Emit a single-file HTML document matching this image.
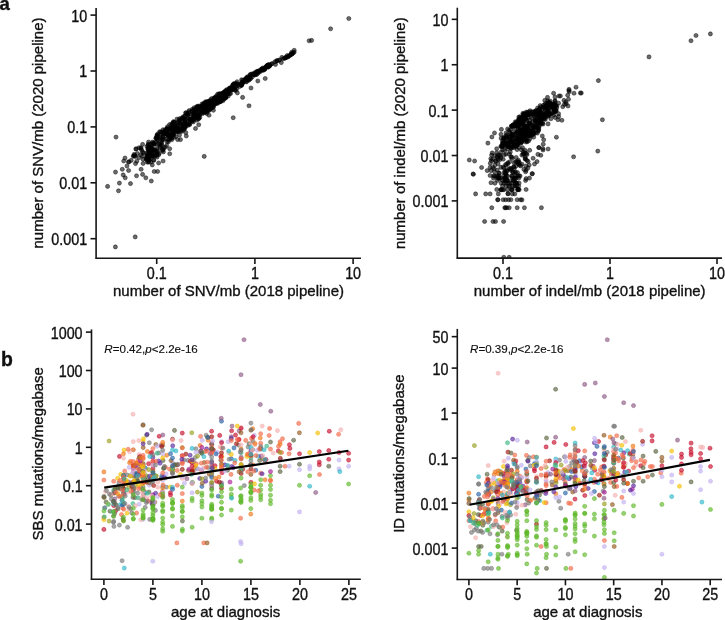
<!DOCTYPE html>
<html><head><meta charset="utf-8"><style>
html,body{margin:0;padding:0;background:#fff;width:725px;height:620px;overflow:hidden}
svg{display:block;font-family:"Liberation Sans",sans-serif;fill:#111;filter:blur(0.35px)}
text{stroke:#111;stroke-width:0.35px}
</style></head><body>
<svg width="725" height="620" viewBox="0 0 725 620">
<rect width="725" height="620" fill="#fff"/>
<defs>
<clipPath id="cA"><rect x="96.6" y="0" width="264.4" height="258"/></clipPath>
<clipPath id="cB"><rect x="457.9" y="0" width="264.1" height="258"/></clipPath>
<clipPath id="cC"><rect x="92" y="320" width="269" height="259"/></clipPath>
<clipPath id="cD"><rect x="457.9" y="320" width="264.1" height="259"/></clipPath>
</defs>
<g clip-path="url(#cA)" fill-opacity="0.58" stroke-opacity="0.58" stroke-width="0.75">
<circle cx="198.5" cy="117.7" r="2.05" fill="#000" stroke="#000"/>
<circle cx="211.2" cy="101.2" r="2.05" fill="#000" stroke="#000"/>
<circle cx="171.2" cy="138.6" r="2.05" fill="#000" stroke="#000"/>
<circle cx="146.4" cy="159.5" r="2.05" fill="#000" stroke="#000"/>
<circle cx="213.0" cy="102.6" r="2.05" fill="#000" stroke="#000"/>
<circle cx="171.5" cy="127.8" r="2.05" fill="#000" stroke="#000"/>
<circle cx="167.4" cy="134.3" r="2.05" fill="#000" stroke="#000"/>
<circle cx="188.4" cy="119.4" r="2.05" fill="#000" stroke="#000"/>
<circle cx="229.6" cy="93.6" r="2.05" fill="#000" stroke="#000"/>
<circle cx="198.3" cy="119.1" r="2.05" fill="#000" stroke="#000"/>
<circle cx="164.1" cy="131.3" r="2.05" fill="#000" stroke="#000"/>
<circle cx="197.5" cy="106.2" r="2.05" fill="#000" stroke="#000"/>
<circle cx="149.0" cy="152.2" r="2.05" fill="#000" stroke="#000"/>
<circle cx="185.2" cy="127.6" r="2.05" fill="#000" stroke="#000"/>
<circle cx="198.9" cy="112.1" r="2.05" fill="#000" stroke="#000"/>
<circle cx="187.7" cy="115.0" r="2.05" fill="#000" stroke="#000"/>
<circle cx="147.0" cy="146.5" r="2.05" fill="#000" stroke="#000"/>
<circle cx="204.1" cy="104.9" r="2.05" fill="#000" stroke="#000"/>
<circle cx="177.0" cy="119.1" r="2.05" fill="#000" stroke="#000"/>
<circle cx="215.7" cy="97.0" r="2.05" fill="#000" stroke="#000"/>
<circle cx="168.5" cy="141.7" r="2.05" fill="#000" stroke="#000"/>
<circle cx="188.8" cy="123.7" r="2.05" fill="#000" stroke="#000"/>
<circle cx="199.7" cy="114.7" r="2.05" fill="#000" stroke="#000"/>
<circle cx="153.7" cy="149.2" r="2.05" fill="#000" stroke="#000"/>
<circle cx="188.7" cy="124.2" r="2.05" fill="#000" stroke="#000"/>
<circle cx="176.3" cy="129.5" r="2.05" fill="#000" stroke="#000"/>
<circle cx="151.0" cy="147.9" r="2.05" fill="#000" stroke="#000"/>
<circle cx="173.1" cy="124.4" r="2.05" fill="#000" stroke="#000"/>
<circle cx="214.6" cy="100.4" r="2.05" fill="#000" stroke="#000"/>
<circle cx="228.2" cy="93.1" r="2.05" fill="#000" stroke="#000"/>
<circle cx="196.8" cy="115.1" r="2.05" fill="#000" stroke="#000"/>
<circle cx="202.8" cy="104.9" r="2.05" fill="#000" stroke="#000"/>
<circle cx="183.0" cy="118.4" r="2.05" fill="#000" stroke="#000"/>
<circle cx="179.8" cy="118.5" r="2.05" fill="#000" stroke="#000"/>
<circle cx="227.3" cy="90.7" r="2.05" fill="#000" stroke="#000"/>
<circle cx="202.4" cy="107.1" r="2.05" fill="#000" stroke="#000"/>
<circle cx="219.4" cy="99.4" r="2.05" fill="#000" stroke="#000"/>
<circle cx="157.1" cy="153.9" r="2.05" fill="#000" stroke="#000"/>
<circle cx="225.4" cy="98.1" r="2.05" fill="#000" stroke="#000"/>
<circle cx="193.9" cy="109.5" r="2.05" fill="#000" stroke="#000"/>
<circle cx="162.2" cy="150.5" r="2.05" fill="#000" stroke="#000"/>
<circle cx="192.4" cy="110.8" r="2.05" fill="#000" stroke="#000"/>
<circle cx="220.3" cy="98.6" r="2.05" fill="#000" stroke="#000"/>
<circle cx="193.9" cy="113.0" r="2.05" fill="#000" stroke="#000"/>
<circle cx="180.5" cy="120.3" r="2.05" fill="#000" stroke="#000"/>
<circle cx="149.2" cy="160.0" r="2.05" fill="#000" stroke="#000"/>
<circle cx="185.3" cy="121.6" r="2.05" fill="#000" stroke="#000"/>
<circle cx="173.1" cy="134.9" r="2.05" fill="#000" stroke="#000"/>
<circle cx="148.1" cy="149.9" r="2.05" fill="#000" stroke="#000"/>
<circle cx="148.5" cy="144.2" r="2.05" fill="#000" stroke="#000"/>
<circle cx="227.2" cy="94.5" r="2.05" fill="#000" stroke="#000"/>
<circle cx="182.0" cy="123.8" r="2.05" fill="#000" stroke="#000"/>
<circle cx="219.3" cy="95.9" r="2.05" fill="#000" stroke="#000"/>
<circle cx="195.6" cy="116.5" r="2.05" fill="#000" stroke="#000"/>
<circle cx="175.9" cy="128.6" r="2.05" fill="#000" stroke="#000"/>
<circle cx="210.3" cy="109.3" r="2.05" fill="#000" stroke="#000"/>
<circle cx="158.7" cy="154.7" r="2.05" fill="#000" stroke="#000"/>
<circle cx="146.4" cy="158.1" r="2.05" fill="#000" stroke="#000"/>
<circle cx="214.1" cy="98.4" r="2.05" fill="#000" stroke="#000"/>
<circle cx="181.2" cy="129.1" r="2.05" fill="#000" stroke="#000"/>
<circle cx="147.2" cy="155.4" r="2.05" fill="#000" stroke="#000"/>
<circle cx="212.6" cy="103.3" r="2.05" fill="#000" stroke="#000"/>
<circle cx="207.0" cy="103.6" r="2.05" fill="#000" stroke="#000"/>
<circle cx="162.7" cy="137.1" r="2.05" fill="#000" stroke="#000"/>
<circle cx="161.1" cy="138.2" r="2.05" fill="#000" stroke="#000"/>
<circle cx="225.6" cy="95.1" r="2.05" fill="#000" stroke="#000"/>
<circle cx="174.6" cy="125.5" r="2.05" fill="#000" stroke="#000"/>
<circle cx="226.0" cy="93.8" r="2.05" fill="#000" stroke="#000"/>
<circle cx="228.4" cy="92.3" r="2.05" fill="#000" stroke="#000"/>
<circle cx="189.8" cy="123.7" r="2.05" fill="#000" stroke="#000"/>
<circle cx="208.4" cy="107.0" r="2.05" fill="#000" stroke="#000"/>
<circle cx="181.8" cy="129.6" r="2.05" fill="#000" stroke="#000"/>
<circle cx="180.6" cy="131.4" r="2.05" fill="#000" stroke="#000"/>
<circle cx="151.8" cy="148.3" r="2.05" fill="#000" stroke="#000"/>
<circle cx="189.6" cy="124.7" r="2.05" fill="#000" stroke="#000"/>
<circle cx="167.1" cy="141.8" r="2.05" fill="#000" stroke="#000"/>
<circle cx="202.8" cy="112.4" r="2.05" fill="#000" stroke="#000"/>
<circle cx="198.9" cy="118.5" r="2.05" fill="#000" stroke="#000"/>
<circle cx="173.9" cy="128.1" r="2.05" fill="#000" stroke="#000"/>
<circle cx="163.0" cy="129.7" r="2.05" fill="#000" stroke="#000"/>
<circle cx="163.9" cy="147.9" r="2.05" fill="#000" stroke="#000"/>
<circle cx="216.6" cy="95.8" r="2.05" fill="#000" stroke="#000"/>
<circle cx="196.7" cy="112.8" r="2.05" fill="#000" stroke="#000"/>
<circle cx="196.0" cy="115.9" r="2.05" fill="#000" stroke="#000"/>
<circle cx="171.8" cy="139.7" r="2.05" fill="#000" stroke="#000"/>
<circle cx="185.1" cy="123.0" r="2.05" fill="#000" stroke="#000"/>
<circle cx="199.4" cy="107.2" r="2.05" fill="#000" stroke="#000"/>
<circle cx="151.2" cy="148.3" r="2.05" fill="#000" stroke="#000"/>
<circle cx="210.2" cy="108.3" r="2.05" fill="#000" stroke="#000"/>
<circle cx="207.3" cy="102.0" r="2.05" fill="#000" stroke="#000"/>
<circle cx="222.7" cy="99.3" r="2.05" fill="#000" stroke="#000"/>
<circle cx="219.7" cy="97.6" r="2.05" fill="#000" stroke="#000"/>
<circle cx="222.9" cy="93.1" r="2.05" fill="#000" stroke="#000"/>
<circle cx="148.5" cy="142.1" r="2.05" fill="#000" stroke="#000"/>
<circle cx="167.2" cy="130.5" r="2.05" fill="#000" stroke="#000"/>
<circle cx="161.8" cy="142.7" r="2.05" fill="#000" stroke="#000"/>
<circle cx="149.3" cy="153.7" r="2.05" fill="#000" stroke="#000"/>
<circle cx="159.9" cy="147.4" r="2.05" fill="#000" stroke="#000"/>
<circle cx="147.8" cy="148.7" r="2.05" fill="#000" stroke="#000"/>
<circle cx="224.8" cy="95.6" r="2.05" fill="#000" stroke="#000"/>
<circle cx="214.2" cy="103.5" r="2.05" fill="#000" stroke="#000"/>
<circle cx="197.3" cy="108.4" r="2.05" fill="#000" stroke="#000"/>
<circle cx="194.2" cy="107.7" r="2.05" fill="#000" stroke="#000"/>
<circle cx="213.3" cy="107.3" r="2.05" fill="#000" stroke="#000"/>
<circle cx="217.7" cy="94.1" r="2.05" fill="#000" stroke="#000"/>
<circle cx="174.4" cy="126.4" r="2.05" fill="#000" stroke="#000"/>
<circle cx="155.5" cy="149.8" r="2.05" fill="#000" stroke="#000"/>
<circle cx="213.0" cy="101.0" r="2.05" fill="#000" stroke="#000"/>
<circle cx="218.5" cy="101.6" r="2.05" fill="#000" stroke="#000"/>
<circle cx="156.8" cy="152.2" r="2.05" fill="#000" stroke="#000"/>
<circle cx="220.1" cy="93.7" r="2.05" fill="#000" stroke="#000"/>
<circle cx="194.2" cy="116.7" r="2.05" fill="#000" stroke="#000"/>
<circle cx="197.2" cy="107.1" r="2.05" fill="#000" stroke="#000"/>
<circle cx="201.5" cy="112.1" r="2.05" fill="#000" stroke="#000"/>
<circle cx="215.2" cy="104.1" r="2.05" fill="#000" stroke="#000"/>
<circle cx="173.5" cy="134.0" r="2.05" fill="#000" stroke="#000"/>
<circle cx="218.9" cy="102.3" r="2.05" fill="#000" stroke="#000"/>
<circle cx="159.6" cy="131.8" r="2.05" fill="#000" stroke="#000"/>
<circle cx="200.7" cy="106.9" r="2.05" fill="#000" stroke="#000"/>
<circle cx="193.4" cy="121.9" r="2.05" fill="#000" stroke="#000"/>
<circle cx="177.9" cy="122.6" r="2.05" fill="#000" stroke="#000"/>
<circle cx="184.3" cy="124.1" r="2.05" fill="#000" stroke="#000"/>
<circle cx="154.5" cy="144.4" r="2.05" fill="#000" stroke="#000"/>
<circle cx="157.2" cy="149.3" r="2.05" fill="#000" stroke="#000"/>
<circle cx="215.8" cy="99.3" r="2.05" fill="#000" stroke="#000"/>
<circle cx="177.2" cy="127.8" r="2.05" fill="#000" stroke="#000"/>
<circle cx="164.1" cy="133.2" r="2.05" fill="#000" stroke="#000"/>
<circle cx="173.7" cy="129.3" r="2.05" fill="#000" stroke="#000"/>
<circle cx="152.8" cy="155.3" r="2.05" fill="#000" stroke="#000"/>
<circle cx="194.6" cy="111.4" r="2.05" fill="#000" stroke="#000"/>
<circle cx="152.5" cy="155.9" r="2.05" fill="#000" stroke="#000"/>
<circle cx="157.0" cy="136.3" r="2.05" fill="#000" stroke="#000"/>
<circle cx="157.0" cy="135.0" r="2.05" fill="#000" stroke="#000"/>
<circle cx="222.1" cy="94.8" r="2.05" fill="#000" stroke="#000"/>
<circle cx="171.7" cy="137.4" r="2.05" fill="#000" stroke="#000"/>
<circle cx="198.1" cy="107.9" r="2.05" fill="#000" stroke="#000"/>
<circle cx="182.5" cy="129.2" r="2.05" fill="#000" stroke="#000"/>
<circle cx="177.5" cy="130.4" r="2.05" fill="#000" stroke="#000"/>
<circle cx="154.1" cy="153.5" r="2.05" fill="#000" stroke="#000"/>
<circle cx="211.2" cy="107.6" r="2.05" fill="#000" stroke="#000"/>
<circle cx="202.6" cy="107.9" r="2.05" fill="#000" stroke="#000"/>
<circle cx="151.4" cy="150.7" r="2.05" fill="#000" stroke="#000"/>
<circle cx="209.6" cy="101.7" r="2.05" fill="#000" stroke="#000"/>
<circle cx="168.4" cy="135.2" r="2.05" fill="#000" stroke="#000"/>
<circle cx="208.9" cy="110.3" r="2.05" fill="#000" stroke="#000"/>
<circle cx="156.6" cy="137.9" r="2.05" fill="#000" stroke="#000"/>
<circle cx="213.2" cy="104.3" r="2.05" fill="#000" stroke="#000"/>
<circle cx="206.6" cy="113.4" r="2.05" fill="#000" stroke="#000"/>
<circle cx="224.9" cy="98.0" r="2.05" fill="#000" stroke="#000"/>
<circle cx="211.3" cy="102.9" r="2.05" fill="#000" stroke="#000"/>
<circle cx="199.9" cy="106.9" r="2.05" fill="#000" stroke="#000"/>
<circle cx="209.8" cy="108.0" r="2.05" fill="#000" stroke="#000"/>
<circle cx="206.6" cy="106.5" r="2.05" fill="#000" stroke="#000"/>
<circle cx="177.8" cy="125.4" r="2.05" fill="#000" stroke="#000"/>
<circle cx="148.8" cy="159.4" r="2.05" fill="#000" stroke="#000"/>
<circle cx="191.6" cy="114.5" r="2.05" fill="#000" stroke="#000"/>
<circle cx="192.0" cy="119.4" r="2.05" fill="#000" stroke="#000"/>
<circle cx="178.0" cy="131.9" r="2.05" fill="#000" stroke="#000"/>
<circle cx="223.2" cy="95.7" r="2.05" fill="#000" stroke="#000"/>
<circle cx="157.6" cy="151.4" r="2.05" fill="#000" stroke="#000"/>
<circle cx="229.4" cy="88.2" r="2.05" fill="#000" stroke="#000"/>
<circle cx="205.9" cy="111.8" r="2.05" fill="#000" stroke="#000"/>
<circle cx="223.3" cy="93.6" r="2.05" fill="#000" stroke="#000"/>
<circle cx="153.7" cy="160.4" r="2.05" fill="#000" stroke="#000"/>
<circle cx="155.8" cy="138.3" r="2.05" fill="#000" stroke="#000"/>
<circle cx="194.3" cy="113.8" r="2.05" fill="#000" stroke="#000"/>
<circle cx="209.0" cy="102.0" r="2.05" fill="#000" stroke="#000"/>
<circle cx="222.8" cy="94.5" r="2.05" fill="#000" stroke="#000"/>
<circle cx="210.6" cy="99.7" r="2.05" fill="#000" stroke="#000"/>
<circle cx="185.8" cy="113.1" r="2.05" fill="#000" stroke="#000"/>
<circle cx="172.4" cy="127.7" r="2.05" fill="#000" stroke="#000"/>
<circle cx="206.5" cy="106.8" r="2.05" fill="#000" stroke="#000"/>
<circle cx="150.8" cy="162.3" r="2.05" fill="#000" stroke="#000"/>
<circle cx="220.7" cy="101.4" r="2.05" fill="#000" stroke="#000"/>
<circle cx="166.7" cy="133.9" r="2.05" fill="#000" stroke="#000"/>
<circle cx="165.1" cy="129.7" r="2.05" fill="#000" stroke="#000"/>
<circle cx="148.8" cy="152.1" r="2.05" fill="#000" stroke="#000"/>
<circle cx="156.3" cy="137.9" r="2.05" fill="#000" stroke="#000"/>
<circle cx="218.3" cy="98.3" r="2.05" fill="#000" stroke="#000"/>
<circle cx="161.4" cy="145.5" r="2.05" fill="#000" stroke="#000"/>
<circle cx="168.3" cy="135.0" r="2.05" fill="#000" stroke="#000"/>
<circle cx="169.8" cy="133.5" r="2.05" fill="#000" stroke="#000"/>
<circle cx="198.8" cy="112.4" r="2.05" fill="#000" stroke="#000"/>
<circle cx="179.2" cy="130.3" r="2.05" fill="#000" stroke="#000"/>
<circle cx="219.4" cy="94.1" r="2.05" fill="#000" stroke="#000"/>
<circle cx="157.4" cy="135.5" r="2.05" fill="#000" stroke="#000"/>
<circle cx="228.3" cy="96.0" r="2.05" fill="#000" stroke="#000"/>
<circle cx="165.4" cy="147.1" r="2.05" fill="#000" stroke="#000"/>
<circle cx="163.5" cy="139.5" r="2.05" fill="#000" stroke="#000"/>
<circle cx="187.8" cy="125.5" r="2.05" fill="#000" stroke="#000"/>
<circle cx="149.4" cy="147.6" r="2.05" fill="#000" stroke="#000"/>
<circle cx="196.4" cy="107.0" r="2.05" fill="#000" stroke="#000"/>
<circle cx="165.9" cy="136.1" r="2.05" fill="#000" stroke="#000"/>
<circle cx="220.0" cy="100.1" r="2.05" fill="#000" stroke="#000"/>
<circle cx="215.6" cy="103.3" r="2.05" fill="#000" stroke="#000"/>
<circle cx="205.4" cy="112.4" r="2.05" fill="#000" stroke="#000"/>
<circle cx="203.2" cy="112.4" r="2.05" fill="#000" stroke="#000"/>
<circle cx="171.3" cy="125.9" r="2.05" fill="#000" stroke="#000"/>
<circle cx="209.5" cy="101.4" r="2.05" fill="#000" stroke="#000"/>
<circle cx="223.2" cy="97.4" r="2.05" fill="#000" stroke="#000"/>
<circle cx="173.7" cy="137.5" r="2.05" fill="#000" stroke="#000"/>
<circle cx="159.0" cy="144.1" r="2.05" fill="#000" stroke="#000"/>
<circle cx="153.7" cy="159.9" r="2.05" fill="#000" stroke="#000"/>
<circle cx="194.3" cy="119.1" r="2.05" fill="#000" stroke="#000"/>
<circle cx="169.7" cy="138.9" r="2.05" fill="#000" stroke="#000"/>
<circle cx="205.0" cy="110.1" r="2.05" fill="#000" stroke="#000"/>
<circle cx="225.8" cy="93.8" r="2.05" fill="#000" stroke="#000"/>
<circle cx="180.9" cy="127.4" r="2.05" fill="#000" stroke="#000"/>
<circle cx="216.1" cy="98.5" r="2.05" fill="#000" stroke="#000"/>
<circle cx="202.3" cy="106.0" r="2.05" fill="#000" stroke="#000"/>
<circle cx="192.3" cy="119.9" r="2.05" fill="#000" stroke="#000"/>
<circle cx="151.5" cy="155.7" r="2.05" fill="#000" stroke="#000"/>
<circle cx="147.3" cy="162.1" r="2.05" fill="#000" stroke="#000"/>
<circle cx="185.4" cy="119.4" r="2.05" fill="#000" stroke="#000"/>
<circle cx="206.5" cy="107.6" r="2.05" fill="#000" stroke="#000"/>
<circle cx="207.4" cy="101.6" r="2.05" fill="#000" stroke="#000"/>
<circle cx="193.3" cy="116.1" r="2.05" fill="#000" stroke="#000"/>
<circle cx="224.3" cy="92.0" r="2.05" fill="#000" stroke="#000"/>
<circle cx="184.0" cy="123.9" r="2.05" fill="#000" stroke="#000"/>
<circle cx="192.3" cy="109.3" r="2.05" fill="#000" stroke="#000"/>
<circle cx="195.8" cy="109.6" r="2.05" fill="#000" stroke="#000"/>
<circle cx="162.4" cy="149.0" r="2.05" fill="#000" stroke="#000"/>
<circle cx="162.6" cy="139.2" r="2.05" fill="#000" stroke="#000"/>
<circle cx="209.0" cy="108.0" r="2.05" fill="#000" stroke="#000"/>
<circle cx="192.5" cy="120.4" r="2.05" fill="#000" stroke="#000"/>
<circle cx="185.1" cy="122.9" r="2.05" fill="#000" stroke="#000"/>
<circle cx="214.8" cy="103.2" r="2.05" fill="#000" stroke="#000"/>
<circle cx="199.9" cy="109.9" r="2.05" fill="#000" stroke="#000"/>
<circle cx="192.9" cy="113.8" r="2.05" fill="#000" stroke="#000"/>
<circle cx="208.5" cy="104.5" r="2.05" fill="#000" stroke="#000"/>
<circle cx="185.2" cy="125.0" r="2.05" fill="#000" stroke="#000"/>
<circle cx="188.3" cy="116.0" r="2.05" fill="#000" stroke="#000"/>
<circle cx="215.5" cy="99.6" r="2.05" fill="#000" stroke="#000"/>
<circle cx="217.0" cy="102.5" r="2.05" fill="#000" stroke="#000"/>
<circle cx="183.6" cy="125.6" r="2.05" fill="#000" stroke="#000"/>
<circle cx="148.9" cy="149.6" r="2.05" fill="#000" stroke="#000"/>
<circle cx="218.3" cy="99.4" r="2.05" fill="#000" stroke="#000"/>
<circle cx="192.9" cy="117.9" r="2.05" fill="#000" stroke="#000"/>
<circle cx="202.9" cy="110.6" r="2.05" fill="#000" stroke="#000"/>
<circle cx="181.3" cy="118.8" r="2.05" fill="#000" stroke="#000"/>
<circle cx="170.6" cy="128.7" r="2.05" fill="#000" stroke="#000"/>
<circle cx="182.2" cy="131.3" r="2.05" fill="#000" stroke="#000"/>
<circle cx="175.6" cy="127.6" r="2.05" fill="#000" stroke="#000"/>
<circle cx="177.2" cy="128.5" r="2.05" fill="#000" stroke="#000"/>
<circle cx="225.6" cy="97.7" r="2.05" fill="#000" stroke="#000"/>
<circle cx="177.7" cy="123.0" r="2.05" fill="#000" stroke="#000"/>
<circle cx="220.3" cy="97.0" r="2.05" fill="#000" stroke="#000"/>
<circle cx="203.6" cy="103.5" r="2.05" fill="#000" stroke="#000"/>
<circle cx="218.8" cy="96.0" r="2.05" fill="#000" stroke="#000"/>
<circle cx="187.5" cy="114.4" r="2.05" fill="#000" stroke="#000"/>
<circle cx="181.3" cy="129.2" r="2.05" fill="#000" stroke="#000"/>
<circle cx="215.5" cy="100.5" r="2.05" fill="#000" stroke="#000"/>
<circle cx="210.5" cy="104.1" r="2.05" fill="#000" stroke="#000"/>
<circle cx="177.4" cy="127.8" r="2.05" fill="#000" stroke="#000"/>
<circle cx="162.9" cy="135.8" r="2.05" fill="#000" stroke="#000"/>
<circle cx="205.3" cy="111.5" r="2.05" fill="#000" stroke="#000"/>
<circle cx="150.8" cy="156.2" r="2.05" fill="#000" stroke="#000"/>
<circle cx="214.7" cy="101.0" r="2.05" fill="#000" stroke="#000"/>
<circle cx="151.2" cy="154.8" r="2.05" fill="#000" stroke="#000"/>
<circle cx="166.7" cy="139.0" r="2.05" fill="#000" stroke="#000"/>
<circle cx="177.6" cy="129.1" r="2.05" fill="#000" stroke="#000"/>
<circle cx="167.7" cy="134.6" r="2.05" fill="#000" stroke="#000"/>
<circle cx="190.1" cy="119.3" r="2.05" fill="#000" stroke="#000"/>
<circle cx="163.1" cy="150.1" r="2.05" fill="#000" stroke="#000"/>
<circle cx="170.3" cy="129.2" r="2.05" fill="#000" stroke="#000"/>
<circle cx="167.5" cy="126.7" r="2.05" fill="#000" stroke="#000"/>
<circle cx="181.5" cy="128.2" r="2.05" fill="#000" stroke="#000"/>
<circle cx="205.6" cy="104.0" r="2.05" fill="#000" stroke="#000"/>
<circle cx="157.5" cy="140.6" r="2.05" fill="#000" stroke="#000"/>
<circle cx="210.5" cy="104.4" r="2.05" fill="#000" stroke="#000"/>
<circle cx="223.5" cy="97.6" r="2.05" fill="#000" stroke="#000"/>
<circle cx="198.2" cy="116.1" r="2.05" fill="#000" stroke="#000"/>
<circle cx="209.0" cy="103.8" r="2.05" fill="#000" stroke="#000"/>
<circle cx="167.6" cy="133.9" r="2.05" fill="#000" stroke="#000"/>
<circle cx="187.1" cy="113.8" r="2.05" fill="#000" stroke="#000"/>
<circle cx="183.1" cy="124.8" r="2.05" fill="#000" stroke="#000"/>
<circle cx="157.4" cy="136.1" r="2.05" fill="#000" stroke="#000"/>
<circle cx="160.6" cy="137.2" r="2.05" fill="#000" stroke="#000"/>
<circle cx="226.8" cy="89.6" r="2.05" fill="#000" stroke="#000"/>
<circle cx="161.4" cy="133.6" r="2.05" fill="#000" stroke="#000"/>
<circle cx="185.8" cy="112.7" r="2.05" fill="#000" stroke="#000"/>
<circle cx="184.5" cy="116.1" r="2.05" fill="#000" stroke="#000"/>
<circle cx="168.6" cy="139.8" r="2.05" fill="#000" stroke="#000"/>
<circle cx="161.5" cy="144.2" r="2.05" fill="#000" stroke="#000"/>
<circle cx="180.1" cy="123.5" r="2.05" fill="#000" stroke="#000"/>
<circle cx="214.6" cy="98.1" r="2.05" fill="#000" stroke="#000"/>
<circle cx="223.6" cy="99.4" r="2.05" fill="#000" stroke="#000"/>
<circle cx="202.1" cy="103.9" r="2.05" fill="#000" stroke="#000"/>
<circle cx="201.7" cy="111.5" r="2.05" fill="#000" stroke="#000"/>
<circle cx="210.9" cy="101.2" r="2.05" fill="#000" stroke="#000"/>
<circle cx="226.1" cy="97.3" r="2.05" fill="#000" stroke="#000"/>
<circle cx="155.6" cy="141.9" r="2.05" fill="#000" stroke="#000"/>
<circle cx="148.7" cy="159.1" r="2.05" fill="#000" stroke="#000"/>
<circle cx="222.9" cy="100.8" r="2.05" fill="#000" stroke="#000"/>
<circle cx="197.4" cy="115.1" r="2.05" fill="#000" stroke="#000"/>
<circle cx="203.0" cy="110.4" r="2.05" fill="#000" stroke="#000"/>
<circle cx="226.0" cy="95.1" r="2.05" fill="#000" stroke="#000"/>
<circle cx="174.2" cy="129.8" r="2.05" fill="#000" stroke="#000"/>
<circle cx="147.6" cy="157.3" r="2.05" fill="#000" stroke="#000"/>
<circle cx="204.3" cy="107.6" r="2.05" fill="#000" stroke="#000"/>
<circle cx="217.5" cy="101.8" r="2.05" fill="#000" stroke="#000"/>
<circle cx="174.3" cy="122.4" r="2.05" fill="#000" stroke="#000"/>
<circle cx="157.1" cy="137.5" r="2.05" fill="#000" stroke="#000"/>
<circle cx="171.5" cy="130.7" r="2.05" fill="#000" stroke="#000"/>
<circle cx="224.0" cy="94.2" r="2.05" fill="#000" stroke="#000"/>
<circle cx="221.5" cy="98.7" r="2.05" fill="#000" stroke="#000"/>
<circle cx="217.7" cy="97.9" r="2.05" fill="#000" stroke="#000"/>
<circle cx="146.3" cy="158.8" r="2.05" fill="#000" stroke="#000"/>
<circle cx="166.6" cy="128.9" r="2.05" fill="#000" stroke="#000"/>
<circle cx="213.2" cy="104.7" r="2.05" fill="#000" stroke="#000"/>
<circle cx="163.8" cy="133.8" r="2.05" fill="#000" stroke="#000"/>
<circle cx="224.9" cy="93.3" r="2.05" fill="#000" stroke="#000"/>
<circle cx="205.0" cy="103.5" r="2.05" fill="#000" stroke="#000"/>
<circle cx="214.5" cy="97.8" r="2.05" fill="#000" stroke="#000"/>
<circle cx="189.3" cy="110.5" r="2.05" fill="#000" stroke="#000"/>
<circle cx="192.2" cy="121.2" r="2.05" fill="#000" stroke="#000"/>
<circle cx="153.1" cy="143.1" r="2.05" fill="#000" stroke="#000"/>
<circle cx="210.2" cy="106.0" r="2.05" fill="#000" stroke="#000"/>
<circle cx="172.3" cy="133.4" r="2.05" fill="#000" stroke="#000"/>
<circle cx="184.2" cy="127.5" r="2.05" fill="#000" stroke="#000"/>
<circle cx="170.6" cy="137.1" r="2.05" fill="#000" stroke="#000"/>
<circle cx="199.4" cy="114.9" r="2.05" fill="#000" stroke="#000"/>
<circle cx="177.8" cy="130.4" r="2.05" fill="#000" stroke="#000"/>
<circle cx="204.7" cy="107.0" r="2.05" fill="#000" stroke="#000"/>
<circle cx="148.2" cy="162.1" r="2.05" fill="#000" stroke="#000"/>
<circle cx="205.9" cy="103.9" r="2.05" fill="#000" stroke="#000"/>
<circle cx="207.4" cy="104.0" r="2.05" fill="#000" stroke="#000"/>
<circle cx="185.4" cy="126.5" r="2.05" fill="#000" stroke="#000"/>
<circle cx="183.6" cy="118.7" r="2.05" fill="#000" stroke="#000"/>
<circle cx="171.7" cy="124.1" r="2.05" fill="#000" stroke="#000"/>
<circle cx="164.4" cy="133.3" r="2.05" fill="#000" stroke="#000"/>
<circle cx="160.5" cy="132.0" r="2.05" fill="#000" stroke="#000"/>
<circle cx="185.1" cy="116.4" r="2.05" fill="#000" stroke="#000"/>
<circle cx="208.1" cy="111.3" r="2.05" fill="#000" stroke="#000"/>
<circle cx="168.9" cy="135.3" r="2.05" fill="#000" stroke="#000"/>
<circle cx="188.6" cy="111.7" r="2.05" fill="#000" stroke="#000"/>
<circle cx="156.5" cy="155.4" r="2.05" fill="#000" stroke="#000"/>
<circle cx="185.8" cy="125.3" r="2.05" fill="#000" stroke="#000"/>
<circle cx="151.6" cy="152.5" r="2.05" fill="#000" stroke="#000"/>
<circle cx="218.7" cy="102.2" r="2.05" fill="#000" stroke="#000"/>
<circle cx="146.5" cy="153.3" r="2.05" fill="#000" stroke="#000"/>
<circle cx="177.0" cy="131.7" r="2.05" fill="#000" stroke="#000"/>
<circle cx="152.2" cy="143.9" r="2.05" fill="#000" stroke="#000"/>
<circle cx="214.3" cy="101.6" r="2.05" fill="#000" stroke="#000"/>
<circle cx="184.1" cy="129.3" r="2.05" fill="#000" stroke="#000"/>
<circle cx="172.9" cy="122.7" r="2.05" fill="#000" stroke="#000"/>
<circle cx="178.9" cy="120.1" r="2.05" fill="#000" stroke="#000"/>
<circle cx="152.9" cy="150.7" r="2.05" fill="#000" stroke="#000"/>
<circle cx="226.1" cy="94.8" r="2.05" fill="#000" stroke="#000"/>
<circle cx="200.4" cy="108.6" r="2.05" fill="#000" stroke="#000"/>
<circle cx="194.0" cy="118.5" r="2.05" fill="#000" stroke="#000"/>
<circle cx="195.5" cy="118.3" r="2.05" fill="#000" stroke="#000"/>
<circle cx="192.2" cy="111.2" r="2.05" fill="#000" stroke="#000"/>
<circle cx="194.9" cy="114.0" r="2.05" fill="#000" stroke="#000"/>
<circle cx="159.9" cy="146.0" r="2.05" fill="#000" stroke="#000"/>
<circle cx="214.6" cy="97.8" r="2.05" fill="#000" stroke="#000"/>
<circle cx="191.8" cy="119.7" r="2.05" fill="#000" stroke="#000"/>
<circle cx="179.9" cy="121.3" r="2.05" fill="#000" stroke="#000"/>
<circle cx="177.3" cy="127.8" r="2.05" fill="#000" stroke="#000"/>
<circle cx="203.7" cy="109.8" r="2.05" fill="#000" stroke="#000"/>
<circle cx="155.0" cy="155.0" r="2.05" fill="#000" stroke="#000"/>
<circle cx="223.6" cy="93.1" r="2.05" fill="#000" stroke="#000"/>
<circle cx="167.0" cy="129.2" r="2.05" fill="#000" stroke="#000"/>
<circle cx="217.3" cy="103.6" r="2.05" fill="#000" stroke="#000"/>
<circle cx="149.7" cy="147.7" r="2.05" fill="#000" stroke="#000"/>
<circle cx="162.2" cy="140.0" r="2.05" fill="#000" stroke="#000"/>
<circle cx="223.4" cy="93.1" r="2.05" fill="#000" stroke="#000"/>
<circle cx="160.4" cy="142.3" r="2.05" fill="#000" stroke="#000"/>
<circle cx="190.0" cy="121.2" r="2.05" fill="#000" stroke="#000"/>
<circle cx="182.8" cy="117.0" r="2.05" fill="#000" stroke="#000"/>
<circle cx="175.7" cy="136.5" r="2.05" fill="#000" stroke="#000"/>
<circle cx="209.1" cy="101.1" r="2.05" fill="#000" stroke="#000"/>
<circle cx="213.9" cy="100.3" r="2.05" fill="#000" stroke="#000"/>
<circle cx="211.6" cy="98.6" r="2.05" fill="#000" stroke="#000"/>
<circle cx="219.2" cy="94.0" r="2.05" fill="#000" stroke="#000"/>
<circle cx="184.3" cy="124.2" r="2.05" fill="#000" stroke="#000"/>
<circle cx="188.7" cy="113.1" r="2.05" fill="#000" stroke="#000"/>
<circle cx="157.7" cy="139.5" r="2.05" fill="#000" stroke="#000"/>
<circle cx="150.4" cy="144.4" r="2.05" fill="#000" stroke="#000"/>
<circle cx="156.9" cy="144.6" r="2.05" fill="#000" stroke="#000"/>
<circle cx="175.9" cy="129.7" r="2.05" fill="#000" stroke="#000"/>
<circle cx="169.6" cy="124.6" r="2.05" fill="#000" stroke="#000"/>
<circle cx="173.8" cy="134.3" r="2.05" fill="#000" stroke="#000"/>
<circle cx="167.5" cy="133.4" r="2.05" fill="#000" stroke="#000"/>
<circle cx="209.4" cy="104.2" r="2.05" fill="#000" stroke="#000"/>
<circle cx="220.5" cy="101.5" r="2.05" fill="#000" stroke="#000"/>
<circle cx="172.1" cy="135.4" r="2.05" fill="#000" stroke="#000"/>
<circle cx="167.3" cy="128.3" r="2.05" fill="#000" stroke="#000"/>
<circle cx="182.8" cy="124.4" r="2.05" fill="#000" stroke="#000"/>
<circle cx="224.6" cy="92.6" r="2.05" fill="#000" stroke="#000"/>
<circle cx="205.8" cy="107.4" r="2.05" fill="#000" stroke="#000"/>
<circle cx="157.1" cy="157.1" r="2.05" fill="#000" stroke="#000"/>
<circle cx="204.4" cy="103.8" r="2.05" fill="#000" stroke="#000"/>
<circle cx="222.1" cy="93.3" r="2.05" fill="#000" stroke="#000"/>
<circle cx="153.8" cy="143.8" r="2.05" fill="#000" stroke="#000"/>
<circle cx="224.8" cy="91.5" r="2.05" fill="#000" stroke="#000"/>
<circle cx="223.1" cy="97.6" r="2.05" fill="#000" stroke="#000"/>
<circle cx="151.6" cy="151.8" r="2.05" fill="#000" stroke="#000"/>
<circle cx="184.5" cy="122.5" r="2.05" fill="#000" stroke="#000"/>
<circle cx="207.9" cy="108.5" r="2.05" fill="#000" stroke="#000"/>
<circle cx="229.8" cy="88.0" r="2.05" fill="#000" stroke="#000"/>
<circle cx="214.3" cy="101.0" r="2.05" fill="#000" stroke="#000"/>
<circle cx="211.8" cy="107.9" r="2.05" fill="#000" stroke="#000"/>
<circle cx="229.3" cy="89.3" r="2.05" fill="#000" stroke="#000"/>
<circle cx="184.0" cy="128.9" r="2.05" fill="#000" stroke="#000"/>
<circle cx="225.4" cy="93.7" r="2.05" fill="#000" stroke="#000"/>
<circle cx="225.0" cy="94.3" r="2.05" fill="#000" stroke="#000"/>
<circle cx="177.5" cy="131.2" r="2.05" fill="#000" stroke="#000"/>
<circle cx="185.6" cy="119.8" r="2.05" fill="#000" stroke="#000"/>
<circle cx="178.4" cy="125.1" r="2.05" fill="#000" stroke="#000"/>
<circle cx="157.7" cy="134.0" r="2.05" fill="#000" stroke="#000"/>
<circle cx="209.3" cy="106.1" r="2.05" fill="#000" stroke="#000"/>
<circle cx="202.4" cy="113.8" r="2.05" fill="#000" stroke="#000"/>
<circle cx="165.3" cy="131.8" r="2.05" fill="#000" stroke="#000"/>
<circle cx="169.3" cy="129.9" r="2.05" fill="#000" stroke="#000"/>
<circle cx="209.9" cy="103.6" r="2.05" fill="#000" stroke="#000"/>
<circle cx="173.1" cy="132.8" r="2.05" fill="#000" stroke="#000"/>
<circle cx="161.7" cy="132.1" r="2.05" fill="#000" stroke="#000"/>
<circle cx="204.6" cy="111.8" r="2.05" fill="#000" stroke="#000"/>
<circle cx="170.9" cy="134.6" r="2.05" fill="#000" stroke="#000"/>
<circle cx="148.9" cy="149.9" r="2.05" fill="#000" stroke="#000"/>
<circle cx="194.5" cy="110.8" r="2.05" fill="#000" stroke="#000"/>
<circle cx="175.3" cy="130.6" r="2.05" fill="#000" stroke="#000"/>
<circle cx="195.6" cy="108.8" r="2.05" fill="#000" stroke="#000"/>
<circle cx="205.4" cy="102.6" r="2.05" fill="#000" stroke="#000"/>
<circle cx="227.5" cy="90.5" r="2.05" fill="#000" stroke="#000"/>
<circle cx="167.3" cy="129.5" r="2.05" fill="#000" stroke="#000"/>
<circle cx="229.3" cy="89.5" r="2.05" fill="#000" stroke="#000"/>
<circle cx="196.8" cy="120.1" r="2.05" fill="#000" stroke="#000"/>
<circle cx="225.8" cy="90.6" r="2.05" fill="#000" stroke="#000"/>
<circle cx="189.8" cy="119.1" r="2.05" fill="#000" stroke="#000"/>
<circle cx="205.0" cy="106.1" r="2.05" fill="#000" stroke="#000"/>
<circle cx="173.5" cy="121.6" r="2.05" fill="#000" stroke="#000"/>
<circle cx="149.0" cy="153.0" r="2.05" fill="#000" stroke="#000"/>
<circle cx="152.4" cy="142.1" r="2.05" fill="#000" stroke="#000"/>
<circle cx="174.0" cy="122.4" r="2.05" fill="#000" stroke="#000"/>
<circle cx="148.6" cy="161.2" r="2.05" fill="#000" stroke="#000"/>
<circle cx="182.6" cy="118.2" r="2.05" fill="#000" stroke="#000"/>
<circle cx="205.5" cy="101.7" r="2.05" fill="#000" stroke="#000"/>
<circle cx="166.6" cy="145.5" r="2.05" fill="#000" stroke="#000"/>
<circle cx="221.4" cy="98.3" r="2.05" fill="#000" stroke="#000"/>
<circle cx="153.8" cy="143.4" r="2.05" fill="#000" stroke="#000"/>
<circle cx="148.3" cy="146.5" r="2.05" fill="#000" stroke="#000"/>
<circle cx="148.1" cy="144.8" r="2.05" fill="#000" stroke="#000"/>
<circle cx="199.2" cy="106.1" r="2.05" fill="#000" stroke="#000"/>
<circle cx="159.1" cy="153.6" r="2.05" fill="#000" stroke="#000"/>
<circle cx="174.2" cy="126.8" r="2.05" fill="#000" stroke="#000"/>
<circle cx="153.3" cy="156.0" r="2.05" fill="#000" stroke="#000"/>
<circle cx="202.8" cy="110.2" r="2.05" fill="#000" stroke="#000"/>
<circle cx="197.9" cy="106.8" r="2.05" fill="#000" stroke="#000"/>
<circle cx="240.4" cy="83.8" r="2.05" fill="#000" stroke="#000"/>
<circle cx="268.1" cy="66.8" r="2.05" fill="#000" stroke="#000"/>
<circle cx="255.6" cy="73.7" r="2.05" fill="#000" stroke="#000"/>
<circle cx="230.6" cy="93.6" r="2.05" fill="#000" stroke="#000"/>
<circle cx="232.7" cy="85.1" r="2.05" fill="#000" stroke="#000"/>
<circle cx="257.7" cy="73.3" r="2.05" fill="#000" stroke="#000"/>
<circle cx="261.5" cy="69.9" r="2.05" fill="#000" stroke="#000"/>
<circle cx="237.1" cy="81.7" r="2.05" fill="#000" stroke="#000"/>
<circle cx="264.1" cy="69.8" r="2.05" fill="#000" stroke="#000"/>
<circle cx="239.8" cy="86.4" r="2.05" fill="#000" stroke="#000"/>
<circle cx="246.1" cy="78.3" r="2.05" fill="#000" stroke="#000"/>
<circle cx="250.2" cy="74.5" r="2.05" fill="#000" stroke="#000"/>
<circle cx="247.7" cy="76.8" r="2.05" fill="#000" stroke="#000"/>
<circle cx="258.5" cy="71.8" r="2.05" fill="#000" stroke="#000"/>
<circle cx="264.8" cy="69.1" r="2.05" fill="#000" stroke="#000"/>
<circle cx="242.7" cy="80.2" r="2.05" fill="#000" stroke="#000"/>
<circle cx="267.6" cy="66.4" r="2.05" fill="#000" stroke="#000"/>
<circle cx="233.9" cy="83.6" r="2.05" fill="#000" stroke="#000"/>
<circle cx="269.6" cy="65.3" r="2.05" fill="#000" stroke="#000"/>
<circle cx="232.2" cy="88.9" r="2.05" fill="#000" stroke="#000"/>
<circle cx="250.2" cy="76.6" r="2.05" fill="#000" stroke="#000"/>
<circle cx="268.1" cy="67.2" r="2.05" fill="#000" stroke="#000"/>
<circle cx="235.0" cy="83.8" r="2.05" fill="#000" stroke="#000"/>
<circle cx="246.3" cy="81.3" r="2.05" fill="#000" stroke="#000"/>
<circle cx="255.0" cy="74.9" r="2.05" fill="#000" stroke="#000"/>
<circle cx="253.0" cy="73.9" r="2.05" fill="#000" stroke="#000"/>
<circle cx="262.7" cy="68.0" r="2.05" fill="#000" stroke="#000"/>
<circle cx="257.9" cy="71.2" r="2.05" fill="#000" stroke="#000"/>
<circle cx="248.8" cy="80.3" r="2.05" fill="#000" stroke="#000"/>
<circle cx="251.6" cy="74.0" r="2.05" fill="#000" stroke="#000"/>
<circle cx="247.2" cy="79.7" r="2.05" fill="#000" stroke="#000"/>
<circle cx="232.3" cy="86.5" r="2.05" fill="#000" stroke="#000"/>
<circle cx="230.7" cy="90.4" r="2.05" fill="#000" stroke="#000"/>
<circle cx="245.3" cy="80.0" r="2.05" fill="#000" stroke="#000"/>
<circle cx="241.8" cy="83.4" r="2.05" fill="#000" stroke="#000"/>
<circle cx="236.9" cy="88.8" r="2.05" fill="#000" stroke="#000"/>
<circle cx="268.4" cy="65.9" r="2.05" fill="#000" stroke="#000"/>
<circle cx="248.6" cy="79.9" r="2.05" fill="#000" stroke="#000"/>
<circle cx="241.6" cy="84.6" r="2.05" fill="#000" stroke="#000"/>
<circle cx="241.5" cy="84.1" r="2.05" fill="#000" stroke="#000"/>
<circle cx="243.4" cy="81.9" r="2.05" fill="#000" stroke="#000"/>
<circle cx="267.0" cy="65.6" r="2.05" fill="#000" stroke="#000"/>
<circle cx="262.3" cy="69.7" r="2.05" fill="#000" stroke="#000"/>
<circle cx="245.2" cy="79.1" r="2.05" fill="#000" stroke="#000"/>
<circle cx="232.8" cy="86.1" r="2.05" fill="#000" stroke="#000"/>
<circle cx="254.9" cy="72.5" r="2.05" fill="#000" stroke="#000"/>
<circle cx="256.8" cy="74.5" r="2.05" fill="#000" stroke="#000"/>
<circle cx="269.2" cy="66.3" r="2.05" fill="#000" stroke="#000"/>
<circle cx="262.3" cy="68.7" r="2.05" fill="#000" stroke="#000"/>
<circle cx="268.8" cy="65.0" r="2.05" fill="#000" stroke="#000"/>
<circle cx="264.8" cy="69.1" r="2.05" fill="#000" stroke="#000"/>
<circle cx="254.9" cy="74.1" r="2.05" fill="#000" stroke="#000"/>
<circle cx="238.0" cy="85.0" r="2.05" fill="#000" stroke="#000"/>
<circle cx="241.6" cy="79.8" r="2.05" fill="#000" stroke="#000"/>
<circle cx="235.1" cy="89.3" r="2.05" fill="#000" stroke="#000"/>
<circle cx="266.9" cy="65.9" r="2.05" fill="#000" stroke="#000"/>
<circle cx="230.5" cy="88.2" r="2.05" fill="#000" stroke="#000"/>
<circle cx="235.4" cy="83.9" r="2.05" fill="#000" stroke="#000"/>
<circle cx="253.3" cy="74.7" r="2.05" fill="#000" stroke="#000"/>
<circle cx="247.2" cy="77.1" r="2.05" fill="#000" stroke="#000"/>
<circle cx="256.6" cy="72.3" r="2.05" fill="#000" stroke="#000"/>
<circle cx="246.0" cy="79.3" r="2.05" fill="#000" stroke="#000"/>
<circle cx="266.2" cy="66.6" r="2.05" fill="#000" stroke="#000"/>
<circle cx="258.7" cy="71.1" r="2.05" fill="#000" stroke="#000"/>
<circle cx="265.8" cy="67.2" r="2.05" fill="#000" stroke="#000"/>
<circle cx="250.2" cy="78.8" r="2.05" fill="#000" stroke="#000"/>
<circle cx="256.9" cy="71.4" r="2.05" fill="#000" stroke="#000"/>
<circle cx="235.5" cy="90.6" r="2.05" fill="#000" stroke="#000"/>
<circle cx="231.2" cy="88.0" r="2.05" fill="#000" stroke="#000"/>
<circle cx="268.4" cy="64.8" r="2.05" fill="#000" stroke="#000"/>
<circle cx="236.5" cy="83.5" r="2.05" fill="#000" stroke="#000"/>
<circle cx="233.5" cy="87.6" r="2.05" fill="#000" stroke="#000"/>
<circle cx="253.7" cy="74.0" r="2.05" fill="#000" stroke="#000"/>
<circle cx="234.3" cy="89.9" r="2.05" fill="#000" stroke="#000"/>
<circle cx="262.2" cy="69.8" r="2.05" fill="#000" stroke="#000"/>
<circle cx="235.5" cy="86.8" r="2.05" fill="#000" stroke="#000"/>
<circle cx="255.2" cy="73.6" r="2.05" fill="#000" stroke="#000"/>
<circle cx="264.6" cy="67.9" r="2.05" fill="#000" stroke="#000"/>
<circle cx="250.4" cy="74.9" r="2.05" fill="#000" stroke="#000"/>
<circle cx="252.5" cy="76.7" r="2.05" fill="#000" stroke="#000"/>
<circle cx="259.3" cy="70.7" r="2.05" fill="#000" stroke="#000"/>
<circle cx="269.7" cy="65.6" r="2.05" fill="#000" stroke="#000"/>
<circle cx="247.0" cy="78.4" r="2.05" fill="#000" stroke="#000"/>
<circle cx="261.2" cy="69.3" r="2.05" fill="#000" stroke="#000"/>
<circle cx="255.6" cy="74.4" r="2.05" fill="#000" stroke="#000"/>
<circle cx="250.7" cy="78.5" r="2.05" fill="#000" stroke="#000"/>
<circle cx="248.7" cy="77.6" r="2.05" fill="#000" stroke="#000"/>
<circle cx="241.4" cy="85.5" r="2.05" fill="#000" stroke="#000"/>
<circle cx="242.7" cy="83.1" r="2.05" fill="#000" stroke="#000"/>
<circle cx="246.4" cy="81.9" r="2.05" fill="#000" stroke="#000"/>
<circle cx="267.9" cy="65.1" r="2.05" fill="#000" stroke="#000"/>
<circle cx="269.8" cy="65.3" r="2.05" fill="#000" stroke="#000"/>
<circle cx="233.0" cy="88.1" r="2.05" fill="#000" stroke="#000"/>
<circle cx="232.0" cy="89.4" r="2.05" fill="#000" stroke="#000"/>
<circle cx="237.4" cy="84.2" r="2.05" fill="#000" stroke="#000"/>
<circle cx="242.2" cy="82.8" r="2.05" fill="#000" stroke="#000"/>
<circle cx="262.9" cy="70.4" r="2.05" fill="#000" stroke="#000"/>
<circle cx="243.2" cy="81.9" r="2.05" fill="#000" stroke="#000"/>
<circle cx="230.2" cy="89.4" r="2.05" fill="#000" stroke="#000"/>
<circle cx="268.4" cy="65.0" r="2.05" fill="#000" stroke="#000"/>
<circle cx="264.8" cy="68.5" r="2.05" fill="#000" stroke="#000"/>
<circle cx="241.8" cy="84.3" r="2.05" fill="#000" stroke="#000"/>
<circle cx="241.6" cy="85.2" r="2.05" fill="#000" stroke="#000"/>
<circle cx="233.3" cy="84.5" r="2.05" fill="#000" stroke="#000"/>
<circle cx="260.0" cy="70.8" r="2.05" fill="#000" stroke="#000"/>
<circle cx="235.9" cy="86.3" r="2.05" fill="#000" stroke="#000"/>
<circle cx="241.9" cy="82.6" r="2.05" fill="#000" stroke="#000"/>
<circle cx="259.7" cy="72.1" r="2.05" fill="#000" stroke="#000"/>
<circle cx="232.4" cy="89.5" r="2.05" fill="#000" stroke="#000"/>
<circle cx="269.3" cy="65.2" r="2.05" fill="#000" stroke="#000"/>
<circle cx="289.2" cy="55.9" r="2.05" fill="#000" stroke="#000"/>
<circle cx="291.8" cy="53.9" r="2.05" fill="#000" stroke="#000"/>
<circle cx="292.2" cy="53.6" r="2.05" fill="#000" stroke="#000"/>
<circle cx="291.7" cy="54.0" r="2.05" fill="#000" stroke="#000"/>
<circle cx="287.9" cy="56.8" r="2.05" fill="#000" stroke="#000"/>
<circle cx="276.6" cy="61.1" r="2.05" fill="#000" stroke="#000"/>
<circle cx="284.8" cy="58.1" r="2.05" fill="#000" stroke="#000"/>
<circle cx="293.3" cy="52.8" r="2.05" fill="#000" stroke="#000"/>
<circle cx="274.8" cy="61.9" r="2.05" fill="#000" stroke="#000"/>
<circle cx="290.5" cy="54.9" r="2.05" fill="#000" stroke="#000"/>
<circle cx="282.8" cy="58.9" r="2.05" fill="#000" stroke="#000"/>
<circle cx="286.4" cy="57.4" r="2.05" fill="#000" stroke="#000"/>
<circle cx="272.2" cy="63.6" r="2.05" fill="#000" stroke="#000"/>
<circle cx="292.0" cy="53.8" r="2.05" fill="#000" stroke="#000"/>
<circle cx="271.3" cy="64.0" r="2.05" fill="#000" stroke="#000"/>
<circle cx="279.6" cy="60.0" r="2.05" fill="#000" stroke="#000"/>
<circle cx="284.7" cy="58.1" r="2.05" fill="#000" stroke="#000"/>
<circle cx="278.5" cy="60.4" r="2.05" fill="#000" stroke="#000"/>
<circle cx="285.3" cy="57.9" r="2.05" fill="#000" stroke="#000"/>
<circle cx="287.7" cy="56.9" r="2.05" fill="#000" stroke="#000"/>
<circle cx="290.4" cy="55.0" r="2.05" fill="#000" stroke="#000"/>
<circle cx="294.1" cy="52.2" r="2.05" fill="#000" stroke="#000"/>
<circle cx="133.9" cy="155.7" r="2.05" fill="#000" stroke="#000"/>
<circle cx="134.2" cy="154.3" r="2.05" fill="#000" stroke="#000"/>
<circle cx="129.1" cy="161.8" r="2.05" fill="#000" stroke="#000"/>
<circle cx="133.3" cy="156.3" r="2.05" fill="#000" stroke="#000"/>
<circle cx="135.3" cy="156.5" r="2.05" fill="#000" stroke="#000"/>
<circle cx="135.5" cy="163.6" r="2.05" fill="#000" stroke="#000"/>
<circle cx="134.7" cy="155.5" r="2.05" fill="#000" stroke="#000"/>
<circle cx="138.9" cy="157.7" r="2.05" fill="#000" stroke="#000"/>
<circle cx="136.8" cy="161.2" r="2.05" fill="#000" stroke="#000"/>
<circle cx="128.4" cy="162.0" r="2.05" fill="#000" stroke="#000"/>
<circle cx="131.2" cy="160.4" r="2.05" fill="#000" stroke="#000"/>
<circle cx="148.3" cy="157.0" r="2.05" fill="#000" stroke="#000"/>
<circle cx="150.4" cy="154.4" r="2.05" fill="#000" stroke="#000"/>
<circle cx="148.2" cy="156.5" r="2.05" fill="#000" stroke="#000"/>
<circle cx="149.4" cy="160.1" r="2.05" fill="#000" stroke="#000"/>
<circle cx="147.2" cy="156.1" r="2.05" fill="#000" stroke="#000"/>
<circle cx="149.2" cy="153.9" r="2.05" fill="#000" stroke="#000"/>
<circle cx="150.3" cy="157.1" r="2.05" fill="#000" stroke="#000"/>
<circle cx="147.8" cy="154.8" r="2.05" fill="#000" stroke="#000"/>
<circle cx="150.3" cy="148.0" r="2.05" fill="#000" stroke="#000"/>
<circle cx="151.6" cy="147.9" r="2.05" fill="#000" stroke="#000"/>
<circle cx="150.5" cy="149.0" r="2.05" fill="#000" stroke="#000"/>
<circle cx="150.8" cy="148.6" r="2.05" fill="#000" stroke="#000"/>
<circle cx="151.4" cy="150.0" r="2.05" fill="#000" stroke="#000"/>
<circle cx="140.9" cy="148.5" r="2.05" fill="#000" stroke="#000"/>
<circle cx="136.3" cy="148.9" r="2.05" fill="#000" stroke="#000"/>
<circle cx="139.0" cy="147.7" r="2.05" fill="#000" stroke="#000"/>
<circle cx="142.6" cy="152.1" r="2.05" fill="#000" stroke="#000"/>
<circle cx="143.8" cy="153.0" r="2.05" fill="#000" stroke="#000"/>
<circle cx="141.8" cy="150.3" r="2.05" fill="#000" stroke="#000"/>
<circle cx="137.4" cy="153.5" r="2.05" fill="#000" stroke="#000"/>
<circle cx="142.4" cy="156.2" r="2.05" fill="#000" stroke="#000"/>
<circle cx="140.9" cy="147.8" r="2.05" fill="#000" stroke="#000"/>
<circle cx="140.9" cy="154.8" r="2.05" fill="#000" stroke="#000"/>
<circle cx="116.0" cy="137.1" r="2.05" fill="#000" stroke="#000"/>
<circle cx="142.6" cy="144.4" r="2.05" fill="#000" stroke="#000"/>
<circle cx="135.8" cy="149.0" r="2.05" fill="#000" stroke="#000"/>
<circle cx="123.7" cy="161.0" r="2.05" fill="#000" stroke="#000"/>
<circle cx="122.3" cy="169.3" r="2.05" fill="#000" stroke="#000"/>
<circle cx="115.5" cy="172.1" r="2.05" fill="#000" stroke="#000"/>
<circle cx="123.2" cy="174.9" r="2.05" fill="#000" stroke="#000"/>
<circle cx="125.2" cy="177.8" r="2.05" fill="#000" stroke="#000"/>
<circle cx="119.4" cy="183.1" r="2.05" fill="#000" stroke="#000"/>
<circle cx="130.5" cy="183.6" r="2.05" fill="#000" stroke="#000"/>
<circle cx="128.6" cy="170.5" r="2.05" fill="#000" stroke="#000"/>
<circle cx="136.5" cy="175.8" r="2.05" fill="#000" stroke="#000"/>
<circle cx="141.1" cy="169.3" r="2.05" fill="#000" stroke="#000"/>
<circle cx="142.6" cy="174.4" r="2.05" fill="#000" stroke="#000"/>
<circle cx="145.8" cy="177.8" r="2.05" fill="#000" stroke="#000"/>
<circle cx="151.3" cy="181.0" r="2.05" fill="#000" stroke="#000"/>
<circle cx="154.2" cy="171.5" r="2.05" fill="#000" stroke="#000"/>
<circle cx="157.6" cy="171.5" r="2.05" fill="#000" stroke="#000"/>
<circle cx="152.3" cy="164.9" r="2.05" fill="#000" stroke="#000"/>
<circle cx="158.6" cy="163.0" r="2.05" fill="#000" stroke="#000"/>
<circle cx="163.1" cy="161.0" r="2.05" fill="#000" stroke="#000"/>
<circle cx="155.0" cy="156.0" r="2.05" fill="#000" stroke="#000"/>
<circle cx="154.9" cy="150.4" r="2.05" fill="#000" stroke="#000"/>
<circle cx="163.4" cy="151.9" r="2.05" fill="#000" stroke="#000"/>
<circle cx="169.7" cy="153.8" r="2.05" fill="#000" stroke="#000"/>
<circle cx="169.7" cy="148.7" r="2.05" fill="#000" stroke="#000"/>
<circle cx="143.1" cy="163.5" r="2.05" fill="#000" stroke="#000"/>
<circle cx="143.1" cy="159.4" r="2.05" fill="#000" stroke="#000"/>
<circle cx="107.6" cy="186.4" r="2.05" fill="#000" stroke="#000"/>
<circle cx="118.5" cy="190.8" r="2.05" fill="#000" stroke="#000"/>
<circle cx="135.2" cy="236.9" r="2.05" fill="#000" stroke="#000"/>
<circle cx="115.4" cy="246.9" r="2.05" fill="#000" stroke="#000"/>
<circle cx="127.0" cy="166.0" r="2.05" fill="#000" stroke="#000"/>
<circle cx="125.0" cy="158.0" r="2.05" fill="#000" stroke="#000"/>
<circle cx="185.8" cy="132.6" r="2.05" fill="#000" stroke="#000"/>
<circle cx="186.3" cy="136.0" r="2.05" fill="#000" stroke="#000"/>
<circle cx="179.5" cy="135.0" r="2.05" fill="#000" stroke="#000"/>
<circle cx="177.6" cy="139.6" r="2.05" fill="#000" stroke="#000"/>
<circle cx="180.5" cy="139.6" r="2.05" fill="#000" stroke="#000"/>
<circle cx="195.5" cy="128.5" r="2.05" fill="#000" stroke="#000"/>
<circle cx="198.7" cy="124.7" r="2.05" fill="#000" stroke="#000"/>
<circle cx="197.0" cy="116.0" r="2.05" fill="#000" stroke="#000"/>
<circle cx="199.8" cy="117.6" r="2.05" fill="#000" stroke="#000"/>
<circle cx="209.0" cy="115.2" r="2.05" fill="#000" stroke="#000"/>
<circle cx="213.4" cy="110.3" r="2.05" fill="#000" stroke="#000"/>
<circle cx="207.6" cy="110.3" r="2.05" fill="#000" stroke="#000"/>
<circle cx="213.4" cy="106.5" r="2.05" fill="#000" stroke="#000"/>
<circle cx="220.7" cy="101.1" r="2.05" fill="#000" stroke="#000"/>
<circle cx="204.2" cy="156.4" r="2.05" fill="#000" stroke="#000"/>
<circle cx="233.2" cy="117.7" r="2.05" fill="#000" stroke="#000"/>
<circle cx="237.4" cy="92.9" r="2.05" fill="#000" stroke="#000"/>
<circle cx="242.6" cy="97.4" r="2.05" fill="#000" stroke="#000"/>
<circle cx="249.0" cy="105.8" r="2.05" fill="#000" stroke="#000"/>
<circle cx="251.0" cy="88.0" r="2.05" fill="#000" stroke="#000"/>
<circle cx="257.8" cy="81.0" r="2.05" fill="#000" stroke="#000"/>
<circle cx="265.2" cy="78.5" r="2.05" fill="#000" stroke="#000"/>
<circle cx="275.5" cy="64.5" r="2.05" fill="#000" stroke="#000"/>
<circle cx="281.3" cy="62.6" r="2.05" fill="#000" stroke="#000"/>
<circle cx="276.8" cy="60.6" r="2.05" fill="#000" stroke="#000"/>
<circle cx="281.9" cy="57.4" r="2.05" fill="#000" stroke="#000"/>
<circle cx="287.1" cy="55.5" r="2.05" fill="#000" stroke="#000"/>
<circle cx="291.6" cy="52.3" r="2.05" fill="#000" stroke="#000"/>
<circle cx="294.2" cy="50.3" r="2.05" fill="#000" stroke="#000"/>
<circle cx="348.8" cy="18.5" r="2.05" fill="#000" stroke="#000"/>
<circle cx="330.6" cy="28.8" r="2.05" fill="#000" stroke="#000"/>
<circle cx="309.1" cy="40.8" r="2.05" fill="#000" stroke="#000"/>
<circle cx="311.6" cy="40.4" r="2.05" fill="#000" stroke="#000"/>
</g>
<g clip-path="url(#cB)" fill-opacity="0.58" stroke-opacity="0.58" stroke-width="0.75">
<circle cx="507.7" cy="144.2" r="2.05" fill="#000" stroke="#000"/>
<circle cx="529.6" cy="135.8" r="2.05" fill="#000" stroke="#000"/>
<circle cx="538.5" cy="130.3" r="2.05" fill="#000" stroke="#000"/>
<circle cx="552.4" cy="107.3" r="2.05" fill="#000" stroke="#000"/>
<circle cx="554.9" cy="109.6" r="2.05" fill="#000" stroke="#000"/>
<circle cx="524.1" cy="127.0" r="2.05" fill="#000" stroke="#000"/>
<circle cx="543.1" cy="117.8" r="2.05" fill="#000" stroke="#000"/>
<circle cx="545.3" cy="109.8" r="2.05" fill="#000" stroke="#000"/>
<circle cx="527.0" cy="125.9" r="2.05" fill="#000" stroke="#000"/>
<circle cx="540.2" cy="119.8" r="2.05" fill="#000" stroke="#000"/>
<circle cx="541.8" cy="123.3" r="2.05" fill="#000" stroke="#000"/>
<circle cx="524.3" cy="118.6" r="2.05" fill="#000" stroke="#000"/>
<circle cx="529.0" cy="114.7" r="2.05" fill="#000" stroke="#000"/>
<circle cx="525.9" cy="115.2" r="2.05" fill="#000" stroke="#000"/>
<circle cx="520.3" cy="130.4" r="2.05" fill="#000" stroke="#000"/>
<circle cx="532.5" cy="122.2" r="2.05" fill="#000" stroke="#000"/>
<circle cx="508.4" cy="146.5" r="2.05" fill="#000" stroke="#000"/>
<circle cx="519.3" cy="134.5" r="2.05" fill="#000" stroke="#000"/>
<circle cx="515.6" cy="125.3" r="2.05" fill="#000" stroke="#000"/>
<circle cx="539.9" cy="111.0" r="2.05" fill="#000" stroke="#000"/>
<circle cx="503.9" cy="138.4" r="2.05" fill="#000" stroke="#000"/>
<circle cx="519.0" cy="132.2" r="2.05" fill="#000" stroke="#000"/>
<circle cx="533.8" cy="130.3" r="2.05" fill="#000" stroke="#000"/>
<circle cx="526.3" cy="112.1" r="2.05" fill="#000" stroke="#000"/>
<circle cx="542.5" cy="123.2" r="2.05" fill="#000" stroke="#000"/>
<circle cx="543.6" cy="118.5" r="2.05" fill="#000" stroke="#000"/>
<circle cx="551.9" cy="104.3" r="2.05" fill="#000" stroke="#000"/>
<circle cx="545.1" cy="113.8" r="2.05" fill="#000" stroke="#000"/>
<circle cx="540.8" cy="119.2" r="2.05" fill="#000" stroke="#000"/>
<circle cx="519.0" cy="124.3" r="2.05" fill="#000" stroke="#000"/>
<circle cx="531.1" cy="133.9" r="2.05" fill="#000" stroke="#000"/>
<circle cx="537.4" cy="133.1" r="2.05" fill="#000" stroke="#000"/>
<circle cx="522.6" cy="133.1" r="2.05" fill="#000" stroke="#000"/>
<circle cx="520.4" cy="129.9" r="2.05" fill="#000" stroke="#000"/>
<circle cx="527.0" cy="127.8" r="2.05" fill="#000" stroke="#000"/>
<circle cx="507.7" cy="143.1" r="2.05" fill="#000" stroke="#000"/>
<circle cx="521.4" cy="138.4" r="2.05" fill="#000" stroke="#000"/>
<circle cx="525.4" cy="115.0" r="2.05" fill="#000" stroke="#000"/>
<circle cx="537.8" cy="111.9" r="2.05" fill="#000" stroke="#000"/>
<circle cx="521.8" cy="130.6" r="2.05" fill="#000" stroke="#000"/>
<circle cx="540.8" cy="122.2" r="2.05" fill="#000" stroke="#000"/>
<circle cx="546.6" cy="112.5" r="2.05" fill="#000" stroke="#000"/>
<circle cx="523.7" cy="136.2" r="2.05" fill="#000" stroke="#000"/>
<circle cx="527.2" cy="112.5" r="2.05" fill="#000" stroke="#000"/>
<circle cx="537.9" cy="110.3" r="2.05" fill="#000" stroke="#000"/>
<circle cx="548.5" cy="115.4" r="2.05" fill="#000" stroke="#000"/>
<circle cx="539.4" cy="125.7" r="2.05" fill="#000" stroke="#000"/>
<circle cx="519.9" cy="116.8" r="2.05" fill="#000" stroke="#000"/>
<circle cx="521.7" cy="121.2" r="2.05" fill="#000" stroke="#000"/>
<circle cx="513.0" cy="125.2" r="2.05" fill="#000" stroke="#000"/>
<circle cx="555.5" cy="105.6" r="2.05" fill="#000" stroke="#000"/>
<circle cx="529.9" cy="138.7" r="2.05" fill="#000" stroke="#000"/>
<circle cx="525.9" cy="118.0" r="2.05" fill="#000" stroke="#000"/>
<circle cx="513.6" cy="145.3" r="2.05" fill="#000" stroke="#000"/>
<circle cx="508.4" cy="146.5" r="2.05" fill="#000" stroke="#000"/>
<circle cx="520.6" cy="120.5" r="2.05" fill="#000" stroke="#000"/>
<circle cx="538.2" cy="123.0" r="2.05" fill="#000" stroke="#000"/>
<circle cx="515.2" cy="137.9" r="2.05" fill="#000" stroke="#000"/>
<circle cx="528.7" cy="126.5" r="2.05" fill="#000" stroke="#000"/>
<circle cx="526.9" cy="133.0" r="2.05" fill="#000" stroke="#000"/>
<circle cx="518.6" cy="119.8" r="2.05" fill="#000" stroke="#000"/>
<circle cx="525.9" cy="115.2" r="2.05" fill="#000" stroke="#000"/>
<circle cx="524.8" cy="137.5" r="2.05" fill="#000" stroke="#000"/>
<circle cx="528.1" cy="133.0" r="2.05" fill="#000" stroke="#000"/>
<circle cx="517.6" cy="138.9" r="2.05" fill="#000" stroke="#000"/>
<circle cx="520.6" cy="118.1" r="2.05" fill="#000" stroke="#000"/>
<circle cx="521.6" cy="138.6" r="2.05" fill="#000" stroke="#000"/>
<circle cx="523.6" cy="131.2" r="2.05" fill="#000" stroke="#000"/>
<circle cx="540.3" cy="122.6" r="2.05" fill="#000" stroke="#000"/>
<circle cx="511.2" cy="146.5" r="2.05" fill="#000" stroke="#000"/>
<circle cx="527.4" cy="135.0" r="2.05" fill="#000" stroke="#000"/>
<circle cx="524.4" cy="116.6" r="2.05" fill="#000" stroke="#000"/>
<circle cx="521.4" cy="139.6" r="2.05" fill="#000" stroke="#000"/>
<circle cx="525.8" cy="114.0" r="2.05" fill="#000" stroke="#000"/>
<circle cx="531.8" cy="111.9" r="2.05" fill="#000" stroke="#000"/>
<circle cx="528.7" cy="140.8" r="2.05" fill="#000" stroke="#000"/>
<circle cx="527.1" cy="113.9" r="2.05" fill="#000" stroke="#000"/>
<circle cx="528.2" cy="117.2" r="2.05" fill="#000" stroke="#000"/>
<circle cx="522.6" cy="123.1" r="2.05" fill="#000" stroke="#000"/>
<circle cx="539.6" cy="114.2" r="2.05" fill="#000" stroke="#000"/>
<circle cx="548.7" cy="114.4" r="2.05" fill="#000" stroke="#000"/>
<circle cx="519.1" cy="135.3" r="2.05" fill="#000" stroke="#000"/>
<circle cx="536.8" cy="127.6" r="2.05" fill="#000" stroke="#000"/>
<circle cx="513.2" cy="142.3" r="2.05" fill="#000" stroke="#000"/>
<circle cx="522.3" cy="117.0" r="2.05" fill="#000" stroke="#000"/>
<circle cx="526.4" cy="114.9" r="2.05" fill="#000" stroke="#000"/>
<circle cx="522.6" cy="117.1" r="2.05" fill="#000" stroke="#000"/>
<circle cx="522.2" cy="130.4" r="2.05" fill="#000" stroke="#000"/>
<circle cx="526.9" cy="134.8" r="2.05" fill="#000" stroke="#000"/>
<circle cx="542.2" cy="108.9" r="2.05" fill="#000" stroke="#000"/>
<circle cx="540.9" cy="113.4" r="2.05" fill="#000" stroke="#000"/>
<circle cx="545.4" cy="107.6" r="2.05" fill="#000" stroke="#000"/>
<circle cx="515.9" cy="123.1" r="2.05" fill="#000" stroke="#000"/>
<circle cx="520.3" cy="132.1" r="2.05" fill="#000" stroke="#000"/>
<circle cx="531.2" cy="133.5" r="2.05" fill="#000" stroke="#000"/>
<circle cx="514.6" cy="134.5" r="2.05" fill="#000" stroke="#000"/>
<circle cx="504.3" cy="145.6" r="2.05" fill="#000" stroke="#000"/>
<circle cx="533.8" cy="114.3" r="2.05" fill="#000" stroke="#000"/>
<circle cx="525.5" cy="125.7" r="2.05" fill="#000" stroke="#000"/>
<circle cx="530.4" cy="113.1" r="2.05" fill="#000" stroke="#000"/>
<circle cx="531.5" cy="118.3" r="2.05" fill="#000" stroke="#000"/>
<circle cx="503.4" cy="143.5" r="2.05" fill="#000" stroke="#000"/>
<circle cx="554.7" cy="110.3" r="2.05" fill="#000" stroke="#000"/>
<circle cx="524.6" cy="119.0" r="2.05" fill="#000" stroke="#000"/>
<circle cx="510.0" cy="132.4" r="2.05" fill="#000" stroke="#000"/>
<circle cx="513.6" cy="125.5" r="2.05" fill="#000" stroke="#000"/>
<circle cx="541.1" cy="119.6" r="2.05" fill="#000" stroke="#000"/>
<circle cx="526.4" cy="140.7" r="2.05" fill="#000" stroke="#000"/>
<circle cx="524.5" cy="131.8" r="2.05" fill="#000" stroke="#000"/>
<circle cx="509.2" cy="140.6" r="2.05" fill="#000" stroke="#000"/>
<circle cx="511.7" cy="134.3" r="2.05" fill="#000" stroke="#000"/>
<circle cx="509.7" cy="142.6" r="2.05" fill="#000" stroke="#000"/>
<circle cx="512.0" cy="135.6" r="2.05" fill="#000" stroke="#000"/>
<circle cx="549.0" cy="113.5" r="2.05" fill="#000" stroke="#000"/>
<circle cx="529.3" cy="123.9" r="2.05" fill="#000" stroke="#000"/>
<circle cx="529.2" cy="124.3" r="2.05" fill="#000" stroke="#000"/>
<circle cx="526.7" cy="120.5" r="2.05" fill="#000" stroke="#000"/>
<circle cx="545.8" cy="106.9" r="2.05" fill="#000" stroke="#000"/>
<circle cx="512.2" cy="126.1" r="2.05" fill="#000" stroke="#000"/>
<circle cx="522.0" cy="124.9" r="2.05" fill="#000" stroke="#000"/>
<circle cx="526.5" cy="120.9" r="2.05" fill="#000" stroke="#000"/>
<circle cx="514.2" cy="145.9" r="2.05" fill="#000" stroke="#000"/>
<circle cx="538.8" cy="129.0" r="2.05" fill="#000" stroke="#000"/>
<circle cx="516.5" cy="145.2" r="2.05" fill="#000" stroke="#000"/>
<circle cx="524.1" cy="129.3" r="2.05" fill="#000" stroke="#000"/>
<circle cx="505.6" cy="143.0" r="2.05" fill="#000" stroke="#000"/>
<circle cx="504.7" cy="143.4" r="2.05" fill="#000" stroke="#000"/>
<circle cx="540.3" cy="118.8" r="2.05" fill="#000" stroke="#000"/>
<circle cx="519.3" cy="141.0" r="2.05" fill="#000" stroke="#000"/>
<circle cx="520.7" cy="143.5" r="2.05" fill="#000" stroke="#000"/>
<circle cx="505.3" cy="142.0" r="2.05" fill="#000" stroke="#000"/>
<circle cx="538.9" cy="112.4" r="2.05" fill="#000" stroke="#000"/>
<circle cx="533.2" cy="115.9" r="2.05" fill="#000" stroke="#000"/>
<circle cx="517.4" cy="139.8" r="2.05" fill="#000" stroke="#000"/>
<circle cx="505.9" cy="144.8" r="2.05" fill="#000" stroke="#000"/>
<circle cx="548.8" cy="108.3" r="2.05" fill="#000" stroke="#000"/>
<circle cx="534.7" cy="127.4" r="2.05" fill="#000" stroke="#000"/>
<circle cx="540.6" cy="115.9" r="2.05" fill="#000" stroke="#000"/>
<circle cx="521.2" cy="133.8" r="2.05" fill="#000" stroke="#000"/>
<circle cx="528.8" cy="114.7" r="2.05" fill="#000" stroke="#000"/>
<circle cx="520.1" cy="128.5" r="2.05" fill="#000" stroke="#000"/>
<circle cx="547.3" cy="106.9" r="2.05" fill="#000" stroke="#000"/>
<circle cx="516.5" cy="125.9" r="2.05" fill="#000" stroke="#000"/>
<circle cx="525.8" cy="135.1" r="2.05" fill="#000" stroke="#000"/>
<circle cx="517.3" cy="140.3" r="2.05" fill="#000" stroke="#000"/>
<circle cx="519.6" cy="123.1" r="2.05" fill="#000" stroke="#000"/>
<circle cx="522.6" cy="136.5" r="2.05" fill="#000" stroke="#000"/>
<circle cx="537.5" cy="117.0" r="2.05" fill="#000" stroke="#000"/>
<circle cx="531.2" cy="129.8" r="2.05" fill="#000" stroke="#000"/>
<circle cx="502.5" cy="145.5" r="2.05" fill="#000" stroke="#000"/>
<circle cx="520.9" cy="120.7" r="2.05" fill="#000" stroke="#000"/>
<circle cx="506.6" cy="137.2" r="2.05" fill="#000" stroke="#000"/>
<circle cx="525.1" cy="128.0" r="2.05" fill="#000" stroke="#000"/>
<circle cx="535.0" cy="121.3" r="2.05" fill="#000" stroke="#000"/>
<circle cx="515.8" cy="125.7" r="2.05" fill="#000" stroke="#000"/>
<circle cx="540.2" cy="105.6" r="2.05" fill="#000" stroke="#000"/>
<circle cx="514.6" cy="137.0" r="2.05" fill="#000" stroke="#000"/>
<circle cx="553.5" cy="105.7" r="2.05" fill="#000" stroke="#000"/>
<circle cx="531.0" cy="136.1" r="2.05" fill="#000" stroke="#000"/>
<circle cx="535.3" cy="119.7" r="2.05" fill="#000" stroke="#000"/>
<circle cx="533.5" cy="127.4" r="2.05" fill="#000" stroke="#000"/>
<circle cx="504.1" cy="137.4" r="2.05" fill="#000" stroke="#000"/>
<circle cx="527.2" cy="136.6" r="2.05" fill="#000" stroke="#000"/>
<circle cx="517.5" cy="123.3" r="2.05" fill="#000" stroke="#000"/>
<circle cx="548.2" cy="103.2" r="2.05" fill="#000" stroke="#000"/>
<circle cx="517.2" cy="124.3" r="2.05" fill="#000" stroke="#000"/>
<circle cx="549.8" cy="114.2" r="2.05" fill="#000" stroke="#000"/>
<circle cx="548.1" cy="113.0" r="2.05" fill="#000" stroke="#000"/>
<circle cx="517.9" cy="127.4" r="2.05" fill="#000" stroke="#000"/>
<circle cx="551.4" cy="113.2" r="2.05" fill="#000" stroke="#000"/>
<circle cx="522.7" cy="137.7" r="2.05" fill="#000" stroke="#000"/>
<circle cx="553.5" cy="107.5" r="2.05" fill="#000" stroke="#000"/>
<circle cx="510.0" cy="137.1" r="2.05" fill="#000" stroke="#000"/>
<circle cx="518.1" cy="128.8" r="2.05" fill="#000" stroke="#000"/>
<circle cx="521.6" cy="122.3" r="2.05" fill="#000" stroke="#000"/>
<circle cx="527.6" cy="134.0" r="2.05" fill="#000" stroke="#000"/>
<circle cx="546.7" cy="114.8" r="2.05" fill="#000" stroke="#000"/>
<circle cx="535.1" cy="125.2" r="2.05" fill="#000" stroke="#000"/>
<circle cx="546.0" cy="116.1" r="2.05" fill="#000" stroke="#000"/>
<circle cx="515.3" cy="145.6" r="2.05" fill="#000" stroke="#000"/>
<circle cx="533.7" cy="134.3" r="2.05" fill="#000" stroke="#000"/>
<circle cx="545.3" cy="119.4" r="2.05" fill="#000" stroke="#000"/>
<circle cx="513.1" cy="141.2" r="2.05" fill="#000" stroke="#000"/>
<circle cx="513.8" cy="124.5" r="2.05" fill="#000" stroke="#000"/>
<circle cx="533.1" cy="125.8" r="2.05" fill="#000" stroke="#000"/>
<circle cx="512.0" cy="138.0" r="2.05" fill="#000" stroke="#000"/>
<circle cx="502.9" cy="143.5" r="2.05" fill="#000" stroke="#000"/>
<circle cx="534.8" cy="127.1" r="2.05" fill="#000" stroke="#000"/>
<circle cx="539.5" cy="108.9" r="2.05" fill="#000" stroke="#000"/>
<circle cx="535.4" cy="118.2" r="2.05" fill="#000" stroke="#000"/>
<circle cx="528.2" cy="113.8" r="2.05" fill="#000" stroke="#000"/>
<circle cx="544.8" cy="107.3" r="2.05" fill="#000" stroke="#000"/>
<circle cx="518.5" cy="125.3" r="2.05" fill="#000" stroke="#000"/>
<circle cx="523.7" cy="138.3" r="2.05" fill="#000" stroke="#000"/>
<circle cx="502.6" cy="140.5" r="2.05" fill="#000" stroke="#000"/>
<circle cx="518.5" cy="141.6" r="2.05" fill="#000" stroke="#000"/>
<circle cx="535.5" cy="110.8" r="2.05" fill="#000" stroke="#000"/>
<circle cx="540.9" cy="107.0" r="2.05" fill="#000" stroke="#000"/>
<circle cx="516.0" cy="122.4" r="2.05" fill="#000" stroke="#000"/>
<circle cx="521.8" cy="119.7" r="2.05" fill="#000" stroke="#000"/>
<circle cx="512.4" cy="125.9" r="2.05" fill="#000" stroke="#000"/>
<circle cx="502.7" cy="143.9" r="2.05" fill="#000" stroke="#000"/>
<circle cx="538.1" cy="115.0" r="2.05" fill="#000" stroke="#000"/>
<circle cx="545.5" cy="103.7" r="2.05" fill="#000" stroke="#000"/>
<circle cx="540.4" cy="117.2" r="2.05" fill="#000" stroke="#000"/>
<circle cx="537.2" cy="124.9" r="2.05" fill="#000" stroke="#000"/>
<circle cx="533.8" cy="126.3" r="2.05" fill="#000" stroke="#000"/>
<circle cx="543.0" cy="117.0" r="2.05" fill="#000" stroke="#000"/>
<circle cx="529.2" cy="123.4" r="2.05" fill="#000" stroke="#000"/>
<circle cx="538.7" cy="111.7" r="2.05" fill="#000" stroke="#000"/>
<circle cx="510.7" cy="141.5" r="2.05" fill="#000" stroke="#000"/>
<circle cx="527.3" cy="141.7" r="2.05" fill="#000" stroke="#000"/>
<circle cx="529.9" cy="131.0" r="2.05" fill="#000" stroke="#000"/>
<circle cx="536.7" cy="124.2" r="2.05" fill="#000" stroke="#000"/>
<circle cx="540.7" cy="116.4" r="2.05" fill="#000" stroke="#000"/>
<circle cx="533.8" cy="113.7" r="2.05" fill="#000" stroke="#000"/>
<circle cx="544.1" cy="119.0" r="2.05" fill="#000" stroke="#000"/>
<circle cx="520.0" cy="140.7" r="2.05" fill="#000" stroke="#000"/>
<circle cx="542.9" cy="107.4" r="2.05" fill="#000" stroke="#000"/>
<circle cx="533.7" cy="137.1" r="2.05" fill="#000" stroke="#000"/>
<circle cx="508.9" cy="146.3" r="2.05" fill="#000" stroke="#000"/>
<circle cx="517.5" cy="145.3" r="2.05" fill="#000" stroke="#000"/>
<circle cx="553.7" cy="108.8" r="2.05" fill="#000" stroke="#000"/>
<circle cx="531.5" cy="125.2" r="2.05" fill="#000" stroke="#000"/>
<circle cx="521.6" cy="141.8" r="2.05" fill="#000" stroke="#000"/>
<circle cx="552.7" cy="109.1" r="2.05" fill="#000" stroke="#000"/>
<circle cx="545.2" cy="114.4" r="2.05" fill="#000" stroke="#000"/>
<circle cx="533.6" cy="114.6" r="2.05" fill="#000" stroke="#000"/>
<circle cx="519.2" cy="137.6" r="2.05" fill="#000" stroke="#000"/>
<circle cx="517.4" cy="143.8" r="2.05" fill="#000" stroke="#000"/>
<circle cx="510.2" cy="137.1" r="2.05" fill="#000" stroke="#000"/>
<circle cx="504.0" cy="143.5" r="2.05" fill="#000" stroke="#000"/>
<circle cx="513.4" cy="126.9" r="2.05" fill="#000" stroke="#000"/>
<circle cx="540.8" cy="124.0" r="2.05" fill="#000" stroke="#000"/>
<circle cx="515.1" cy="145.9" r="2.05" fill="#000" stroke="#000"/>
<circle cx="534.9" cy="111.9" r="2.05" fill="#000" stroke="#000"/>
<circle cx="533.6" cy="133.3" r="2.05" fill="#000" stroke="#000"/>
<circle cx="516.3" cy="145.5" r="2.05" fill="#000" stroke="#000"/>
<circle cx="544.7" cy="104.7" r="2.05" fill="#000" stroke="#000"/>
<circle cx="549.7" cy="105.4" r="2.05" fill="#000" stroke="#000"/>
<circle cx="519.9" cy="141.4" r="2.05" fill="#000" stroke="#000"/>
<circle cx="543.8" cy="117.4" r="2.05" fill="#000" stroke="#000"/>
<circle cx="547.2" cy="106.0" r="2.05" fill="#000" stroke="#000"/>
<circle cx="513.9" cy="146.4" r="2.05" fill="#000" stroke="#000"/>
<circle cx="539.9" cy="117.2" r="2.05" fill="#000" stroke="#000"/>
<circle cx="543.0" cy="115.2" r="2.05" fill="#000" stroke="#000"/>
<circle cx="524.9" cy="131.2" r="2.05" fill="#000" stroke="#000"/>
<circle cx="506.3" cy="136.0" r="2.05" fill="#000" stroke="#000"/>
<circle cx="513.2" cy="124.8" r="2.05" fill="#000" stroke="#000"/>
<circle cx="548.0" cy="113.8" r="2.05" fill="#000" stroke="#000"/>
<circle cx="510.4" cy="147.3" r="2.05" fill="#000" stroke="#000"/>
<circle cx="517.8" cy="131.9" r="2.05" fill="#000" stroke="#000"/>
<circle cx="509.1" cy="130.3" r="2.05" fill="#000" stroke="#000"/>
<circle cx="541.9" cy="117.5" r="2.05" fill="#000" stroke="#000"/>
<circle cx="522.9" cy="113.3" r="2.05" fill="#000" stroke="#000"/>
<circle cx="510.6" cy="142.2" r="2.05" fill="#000" stroke="#000"/>
<circle cx="544.5" cy="112.0" r="2.05" fill="#000" stroke="#000"/>
<circle cx="522.1" cy="135.1" r="2.05" fill="#000" stroke="#000"/>
<circle cx="526.0" cy="137.7" r="2.05" fill="#000" stroke="#000"/>
<circle cx="517.5" cy="132.0" r="2.05" fill="#000" stroke="#000"/>
<circle cx="523.0" cy="123.2" r="2.05" fill="#000" stroke="#000"/>
<circle cx="527.1" cy="114.6" r="2.05" fill="#000" stroke="#000"/>
<circle cx="524.2" cy="113.8" r="2.05" fill="#000" stroke="#000"/>
<circle cx="521.6" cy="142.3" r="2.05" fill="#000" stroke="#000"/>
<circle cx="522.5" cy="122.4" r="2.05" fill="#000" stroke="#000"/>
<circle cx="533.2" cy="111.9" r="2.05" fill="#000" stroke="#000"/>
<circle cx="515.4" cy="125.6" r="2.05" fill="#000" stroke="#000"/>
<circle cx="506.1" cy="137.9" r="2.05" fill="#000" stroke="#000"/>
<circle cx="537.6" cy="108.0" r="2.05" fill="#000" stroke="#000"/>
<circle cx="524.1" cy="127.8" r="2.05" fill="#000" stroke="#000"/>
<circle cx="545.9" cy="107.2" r="2.05" fill="#000" stroke="#000"/>
<circle cx="539.7" cy="109.0" r="2.05" fill="#000" stroke="#000"/>
<circle cx="527.7" cy="134.1" r="2.05" fill="#000" stroke="#000"/>
<circle cx="512.9" cy="140.3" r="2.05" fill="#000" stroke="#000"/>
<circle cx="533.3" cy="132.7" r="2.05" fill="#000" stroke="#000"/>
<circle cx="509.6" cy="136.2" r="2.05" fill="#000" stroke="#000"/>
<circle cx="545.7" cy="117.3" r="2.05" fill="#000" stroke="#000"/>
<circle cx="530.1" cy="110.7" r="2.05" fill="#000" stroke="#000"/>
<circle cx="535.6" cy="120.1" r="2.05" fill="#000" stroke="#000"/>
<circle cx="542.2" cy="113.3" r="2.05" fill="#000" stroke="#000"/>
<circle cx="504.0" cy="142.5" r="2.05" fill="#000" stroke="#000"/>
<circle cx="535.5" cy="121.1" r="2.05" fill="#000" stroke="#000"/>
<circle cx="521.0" cy="124.4" r="2.05" fill="#000" stroke="#000"/>
<circle cx="523.2" cy="114.8" r="2.05" fill="#000" stroke="#000"/>
<circle cx="536.0" cy="132.5" r="2.05" fill="#000" stroke="#000"/>
<circle cx="536.0" cy="113.5" r="2.05" fill="#000" stroke="#000"/>
<circle cx="522.2" cy="140.9" r="2.05" fill="#000" stroke="#000"/>
<circle cx="555.3" cy="110.0" r="2.05" fill="#000" stroke="#000"/>
<circle cx="500.9" cy="146.3" r="2.05" fill="#000" stroke="#000"/>
<circle cx="552.9" cy="112.9" r="2.05" fill="#000" stroke="#000"/>
<circle cx="526.1" cy="132.8" r="2.05" fill="#000" stroke="#000"/>
<circle cx="512.8" cy="134.8" r="2.05" fill="#000" stroke="#000"/>
<circle cx="515.5" cy="134.6" r="2.05" fill="#000" stroke="#000"/>
<circle cx="506.9" cy="134.7" r="2.05" fill="#000" stroke="#000"/>
<circle cx="553.3" cy="104.4" r="2.05" fill="#000" stroke="#000"/>
<circle cx="536.8" cy="121.6" r="2.05" fill="#000" stroke="#000"/>
<circle cx="541.3" cy="112.9" r="2.05" fill="#000" stroke="#000"/>
<circle cx="531.7" cy="113.7" r="2.05" fill="#000" stroke="#000"/>
<circle cx="548.7" cy="111.5" r="2.05" fill="#000" stroke="#000"/>
<circle cx="530.5" cy="128.9" r="2.05" fill="#000" stroke="#000"/>
<circle cx="536.4" cy="113.9" r="2.05" fill="#000" stroke="#000"/>
<circle cx="547.8" cy="110.9" r="2.05" fill="#000" stroke="#000"/>
<circle cx="537.0" cy="116.2" r="2.05" fill="#000" stroke="#000"/>
<circle cx="510.6" cy="141.5" r="2.05" fill="#000" stroke="#000"/>
<circle cx="510.7" cy="129.9" r="2.05" fill="#000" stroke="#000"/>
<circle cx="517.0" cy="125.5" r="2.05" fill="#000" stroke="#000"/>
<circle cx="527.0" cy="127.8" r="2.05" fill="#000" stroke="#000"/>
<circle cx="524.4" cy="139.6" r="2.05" fill="#000" stroke="#000"/>
<circle cx="516.1" cy="132.2" r="2.05" fill="#000" stroke="#000"/>
<circle cx="522.3" cy="121.3" r="2.05" fill="#000" stroke="#000"/>
<circle cx="539.4" cy="116.7" r="2.05" fill="#000" stroke="#000"/>
<circle cx="555.4" cy="110.2" r="2.05" fill="#000" stroke="#000"/>
<circle cx="503.8" cy="143.2" r="2.05" fill="#000" stroke="#000"/>
<circle cx="524.2" cy="125.2" r="2.05" fill="#000" stroke="#000"/>
<circle cx="554.7" cy="111.8" r="2.05" fill="#000" stroke="#000"/>
<circle cx="530.4" cy="123.3" r="2.05" fill="#000" stroke="#000"/>
<circle cx="551.8" cy="104.0" r="2.05" fill="#000" stroke="#000"/>
<circle cx="528.2" cy="130.1" r="2.05" fill="#000" stroke="#000"/>
<circle cx="528.9" cy="111.9" r="2.05" fill="#000" stroke="#000"/>
<circle cx="519.0" cy="122.0" r="2.05" fill="#000" stroke="#000"/>
<circle cx="526.3" cy="127.1" r="2.05" fill="#000" stroke="#000"/>
<circle cx="515.8" cy="146.3" r="2.05" fill="#000" stroke="#000"/>
<circle cx="528.0" cy="134.5" r="2.05" fill="#000" stroke="#000"/>
<circle cx="519.6" cy="118.8" r="2.05" fill="#000" stroke="#000"/>
<circle cx="502.5" cy="142.6" r="2.05" fill="#000" stroke="#000"/>
<circle cx="523.9" cy="114.0" r="2.05" fill="#000" stroke="#000"/>
<circle cx="501.3" cy="146.5" r="2.05" fill="#000" stroke="#000"/>
<circle cx="547.7" cy="113.4" r="2.05" fill="#000" stroke="#000"/>
<circle cx="511.4" cy="126.0" r="2.05" fill="#000" stroke="#000"/>
<circle cx="520.2" cy="128.8" r="2.05" fill="#000" stroke="#000"/>
<circle cx="518.3" cy="134.4" r="2.05" fill="#000" stroke="#000"/>
<circle cx="538.8" cy="127.3" r="2.05" fill="#000" stroke="#000"/>
<circle cx="543.4" cy="105.4" r="2.05" fill="#000" stroke="#000"/>
<circle cx="512.6" cy="136.1" r="2.05" fill="#000" stroke="#000"/>
<circle cx="511.5" cy="126.3" r="2.05" fill="#000" stroke="#000"/>
<circle cx="515.4" cy="121.7" r="2.05" fill="#000" stroke="#000"/>
<circle cx="526.2" cy="114.3" r="2.05" fill="#000" stroke="#000"/>
<circle cx="525.9" cy="142.0" r="2.05" fill="#000" stroke="#000"/>
<circle cx="532.3" cy="134.6" r="2.05" fill="#000" stroke="#000"/>
<circle cx="549.2" cy="105.8" r="2.05" fill="#000" stroke="#000"/>
<circle cx="527.9" cy="129.8" r="2.05" fill="#000" stroke="#000"/>
<circle cx="503.7" cy="138.3" r="2.05" fill="#000" stroke="#000"/>
<circle cx="521.9" cy="123.4" r="2.05" fill="#000" stroke="#000"/>
<circle cx="509.7" cy="140.1" r="2.05" fill="#000" stroke="#000"/>
<circle cx="556.9" cy="106.1" r="2.05" fill="#000" stroke="#000"/>
<circle cx="554.5" cy="105.0" r="2.05" fill="#000" stroke="#000"/>
<circle cx="539.8" cy="115.7" r="2.05" fill="#000" stroke="#000"/>
<circle cx="538.3" cy="130.9" r="2.05" fill="#000" stroke="#000"/>
<circle cx="518.8" cy="117.1" r="2.05" fill="#000" stroke="#000"/>
<circle cx="537.5" cy="127.7" r="2.05" fill="#000" stroke="#000"/>
<circle cx="528.7" cy="133.2" r="2.05" fill="#000" stroke="#000"/>
<circle cx="528.9" cy="135.4" r="2.05" fill="#000" stroke="#000"/>
<circle cx="517.2" cy="141.7" r="2.05" fill="#000" stroke="#000"/>
<circle cx="536.5" cy="120.6" r="2.05" fill="#000" stroke="#000"/>
<circle cx="526.0" cy="139.8" r="2.05" fill="#000" stroke="#000"/>
<circle cx="555.8" cy="105.4" r="2.05" fill="#000" stroke="#000"/>
<circle cx="530.2" cy="120.0" r="2.05" fill="#000" stroke="#000"/>
<circle cx="523.9" cy="114.1" r="2.05" fill="#000" stroke="#000"/>
<circle cx="526.2" cy="134.8" r="2.05" fill="#000" stroke="#000"/>
<circle cx="520.0" cy="142.6" r="2.05" fill="#000" stroke="#000"/>
<circle cx="522.7" cy="132.3" r="2.05" fill="#000" stroke="#000"/>
<circle cx="526.2" cy="131.0" r="2.05" fill="#000" stroke="#000"/>
<circle cx="525.9" cy="119.2" r="2.05" fill="#000" stroke="#000"/>
<circle cx="532.9" cy="130.5" r="2.05" fill="#000" stroke="#000"/>
<circle cx="534.1" cy="133.1" r="2.05" fill="#000" stroke="#000"/>
<circle cx="545.7" cy="115.3" r="2.05" fill="#000" stroke="#000"/>
<circle cx="513.7" cy="141.7" r="2.05" fill="#000" stroke="#000"/>
<circle cx="518.8" cy="119.3" r="2.05" fill="#000" stroke="#000"/>
<circle cx="535.8" cy="110.9" r="2.05" fill="#000" stroke="#000"/>
<circle cx="514.7" cy="130.6" r="2.05" fill="#000" stroke="#000"/>
<circle cx="529.0" cy="114.1" r="2.05" fill="#000" stroke="#000"/>
<circle cx="532.8" cy="131.1" r="2.05" fill="#000" stroke="#000"/>
<circle cx="518.2" cy="142.5" r="2.05" fill="#000" stroke="#000"/>
<circle cx="511.6" cy="133.9" r="2.05" fill="#000" stroke="#000"/>
<circle cx="547.4" cy="104.3" r="2.05" fill="#000" stroke="#000"/>
<circle cx="512.9" cy="144.2" r="2.05" fill="#000" stroke="#000"/>
<circle cx="517.3" cy="138.3" r="2.05" fill="#000" stroke="#000"/>
<circle cx="539.8" cy="120.4" r="2.05" fill="#000" stroke="#000"/>
<circle cx="521.5" cy="137.3" r="2.05" fill="#000" stroke="#000"/>
<circle cx="505.9" cy="139.6" r="2.05" fill="#000" stroke="#000"/>
<circle cx="516.8" cy="161.7" r="2.05" fill="#000" stroke="#000"/>
<circle cx="518.4" cy="160.3" r="2.05" fill="#000" stroke="#000"/>
<circle cx="495.7" cy="161.0" r="2.05" fill="#000" stroke="#000"/>
<circle cx="507.6" cy="176.0" r="2.05" fill="#000" stroke="#000"/>
<circle cx="498.1" cy="164.0" r="2.05" fill="#000" stroke="#000"/>
<circle cx="526.1" cy="170.3" r="2.05" fill="#000" stroke="#000"/>
<circle cx="513.6" cy="166.9" r="2.05" fill="#000" stroke="#000"/>
<circle cx="514.0" cy="162.7" r="2.05" fill="#000" stroke="#000"/>
<circle cx="504.4" cy="154.6" r="2.05" fill="#000" stroke="#000"/>
<circle cx="492.6" cy="159.3" r="2.05" fill="#000" stroke="#000"/>
<circle cx="520.8" cy="165.9" r="2.05" fill="#000" stroke="#000"/>
<circle cx="496.6" cy="176.0" r="2.05" fill="#000" stroke="#000"/>
<circle cx="516.1" cy="166.0" r="2.05" fill="#000" stroke="#000"/>
<circle cx="506.5" cy="176.0" r="2.05" fill="#000" stroke="#000"/>
<circle cx="510.8" cy="156.7" r="2.05" fill="#000" stroke="#000"/>
<circle cx="506.1" cy="165.3" r="2.05" fill="#000" stroke="#000"/>
<circle cx="517.1" cy="149.6" r="2.05" fill="#000" stroke="#000"/>
<circle cx="519.5" cy="165.2" r="2.05" fill="#000" stroke="#000"/>
<circle cx="517.5" cy="172.6" r="2.05" fill="#000" stroke="#000"/>
<circle cx="529.7" cy="150.3" r="2.05" fill="#000" stroke="#000"/>
<circle cx="498.0" cy="159.4" r="2.05" fill="#000" stroke="#000"/>
<circle cx="504.6" cy="178.1" r="2.05" fill="#000" stroke="#000"/>
<circle cx="511.0" cy="148.4" r="2.05" fill="#000" stroke="#000"/>
<circle cx="518.6" cy="163.9" r="2.05" fill="#000" stroke="#000"/>
<circle cx="522.6" cy="147.7" r="2.05" fill="#000" stroke="#000"/>
<circle cx="490.3" cy="163.2" r="2.05" fill="#000" stroke="#000"/>
<circle cx="494.9" cy="165.1" r="2.05" fill="#000" stroke="#000"/>
<circle cx="497.3" cy="170.1" r="2.05" fill="#000" stroke="#000"/>
<circle cx="516.1" cy="157.5" r="2.05" fill="#000" stroke="#000"/>
<circle cx="498.6" cy="178.1" r="2.05" fill="#000" stroke="#000"/>
<circle cx="491.6" cy="155.1" r="2.05" fill="#000" stroke="#000"/>
<circle cx="503.1" cy="167.0" r="2.05" fill="#000" stroke="#000"/>
<circle cx="504.8" cy="150.0" r="2.05" fill="#000" stroke="#000"/>
<circle cx="512.8" cy="172.1" r="2.05" fill="#000" stroke="#000"/>
<circle cx="518.2" cy="163.6" r="2.05" fill="#000" stroke="#000"/>
<circle cx="502.3" cy="146.4" r="2.05" fill="#000" stroke="#000"/>
<circle cx="511.3" cy="168.6" r="2.05" fill="#000" stroke="#000"/>
<circle cx="507.7" cy="180.4" r="2.05" fill="#000" stroke="#000"/>
<circle cx="498.1" cy="176.0" r="2.05" fill="#000" stroke="#000"/>
<circle cx="518.8" cy="178.1" r="2.05" fill="#000" stroke="#000"/>
<circle cx="527.0" cy="154.5" r="2.05" fill="#000" stroke="#000"/>
<circle cx="526.9" cy="160.5" r="2.05" fill="#000" stroke="#000"/>
<circle cx="513.8" cy="167.0" r="2.05" fill="#000" stroke="#000"/>
<circle cx="492.8" cy="167.5" r="2.05" fill="#000" stroke="#000"/>
<circle cx="499.6" cy="160.0" r="2.05" fill="#000" stroke="#000"/>
<circle cx="505.1" cy="180.4" r="2.05" fill="#000" stroke="#000"/>
<circle cx="515.5" cy="172.1" r="2.05" fill="#000" stroke="#000"/>
<circle cx="496.9" cy="157.0" r="2.05" fill="#000" stroke="#000"/>
<circle cx="525.1" cy="150.3" r="2.05" fill="#000" stroke="#000"/>
<circle cx="528.1" cy="161.4" r="2.05" fill="#000" stroke="#000"/>
<circle cx="505.6" cy="164.5" r="2.05" fill="#000" stroke="#000"/>
<circle cx="507.7" cy="162.9" r="2.05" fill="#000" stroke="#000"/>
<circle cx="507.0" cy="171.3" r="2.05" fill="#000" stroke="#000"/>
<circle cx="501.1" cy="152.0" r="2.05" fill="#000" stroke="#000"/>
<circle cx="507.4" cy="149.2" r="2.05" fill="#000" stroke="#000"/>
<circle cx="507.9" cy="163.8" r="2.05" fill="#000" stroke="#000"/>
<circle cx="521.4" cy="149.9" r="2.05" fill="#000" stroke="#000"/>
<circle cx="505.9" cy="174.1" r="2.05" fill="#000" stroke="#000"/>
<circle cx="503.5" cy="176.0" r="2.05" fill="#000" stroke="#000"/>
<circle cx="518.7" cy="147.5" r="2.05" fill="#000" stroke="#000"/>
<circle cx="505.4" cy="173.6" r="2.05" fill="#000" stroke="#000"/>
<circle cx="511.1" cy="170.2" r="2.05" fill="#000" stroke="#000"/>
<circle cx="511.8" cy="176.0" r="2.05" fill="#000" stroke="#000"/>
<circle cx="507.2" cy="146.4" r="2.05" fill="#000" stroke="#000"/>
<circle cx="500.9" cy="167.4" r="2.05" fill="#000" stroke="#000"/>
<circle cx="527.9" cy="167.9" r="2.05" fill="#000" stroke="#000"/>
<circle cx="506.0" cy="154.2" r="2.05" fill="#000" stroke="#000"/>
<circle cx="512.1" cy="158.4" r="2.05" fill="#000" stroke="#000"/>
<circle cx="494.5" cy="171.7" r="2.05" fill="#000" stroke="#000"/>
<circle cx="521.9" cy="155.1" r="2.05" fill="#000" stroke="#000"/>
<circle cx="509.2" cy="168.7" r="2.05" fill="#000" stroke="#000"/>
<circle cx="502.6" cy="149.9" r="2.05" fill="#000" stroke="#000"/>
<circle cx="523.5" cy="151.9" r="2.05" fill="#000" stroke="#000"/>
<circle cx="509.6" cy="161.8" r="2.05" fill="#000" stroke="#000"/>
<circle cx="526.1" cy="166.1" r="2.05" fill="#000" stroke="#000"/>
<circle cx="507.0" cy="180.4" r="2.05" fill="#000" stroke="#000"/>
<circle cx="504.1" cy="172.2" r="2.05" fill="#000" stroke="#000"/>
<circle cx="499.4" cy="173.3" r="2.05" fill="#000" stroke="#000"/>
<circle cx="520.1" cy="176.0" r="2.05" fill="#000" stroke="#000"/>
<circle cx="509.4" cy="154.0" r="2.05" fill="#000" stroke="#000"/>
<circle cx="515.3" cy="178.1" r="2.05" fill="#000" stroke="#000"/>
<circle cx="502.4" cy="146.7" r="2.05" fill="#000" stroke="#000"/>
<circle cx="497.4" cy="180.4" r="2.05" fill="#000" stroke="#000"/>
<circle cx="505.3" cy="170.9" r="2.05" fill="#000" stroke="#000"/>
<circle cx="518.2" cy="161.6" r="2.05" fill="#000" stroke="#000"/>
<circle cx="519.3" cy="162.6" r="2.05" fill="#000" stroke="#000"/>
<circle cx="511.7" cy="157.0" r="2.05" fill="#000" stroke="#000"/>
<circle cx="490.1" cy="167.4" r="2.05" fill="#000" stroke="#000"/>
<circle cx="500.6" cy="155.9" r="2.05" fill="#000" stroke="#000"/>
<circle cx="525.2" cy="159.0" r="2.05" fill="#000" stroke="#000"/>
<circle cx="494.1" cy="168.7" r="2.05" fill="#000" stroke="#000"/>
<circle cx="511.5" cy="148.1" r="2.05" fill="#000" stroke="#000"/>
<circle cx="504.0" cy="168.0" r="2.05" fill="#000" stroke="#000"/>
<circle cx="522.0" cy="164.2" r="2.05" fill="#000" stroke="#000"/>
<circle cx="499.0" cy="178.1" r="2.05" fill="#000" stroke="#000"/>
<circle cx="510.3" cy="152.1" r="2.05" fill="#000" stroke="#000"/>
<circle cx="512.8" cy="172.3" r="2.05" fill="#000" stroke="#000"/>
<circle cx="514.1" cy="147.7" r="2.05" fill="#000" stroke="#000"/>
<circle cx="491.5" cy="160.7" r="2.05" fill="#000" stroke="#000"/>
<circle cx="515.7" cy="161.8" r="2.05" fill="#000" stroke="#000"/>
<circle cx="493.4" cy="178.1" r="2.05" fill="#000" stroke="#000"/>
<circle cx="504.7" cy="178.1" r="2.05" fill="#000" stroke="#000"/>
<circle cx="514.4" cy="168.4" r="2.05" fill="#000" stroke="#000"/>
<circle cx="507.0" cy="170.2" r="2.05" fill="#000" stroke="#000"/>
<circle cx="499.7" cy="155.3" r="2.05" fill="#000" stroke="#000"/>
<circle cx="525.0" cy="153.3" r="2.05" fill="#000" stroke="#000"/>
<circle cx="505.4" cy="172.8" r="2.05" fill="#000" stroke="#000"/>
<circle cx="503.2" cy="159.2" r="2.05" fill="#000" stroke="#000"/>
<circle cx="526.4" cy="153.4" r="2.05" fill="#000" stroke="#000"/>
<circle cx="499.6" cy="178.1" r="2.05" fill="#000" stroke="#000"/>
<circle cx="501.0" cy="157.9" r="2.05" fill="#000" stroke="#000"/>
<circle cx="525.3" cy="157.6" r="2.05" fill="#000" stroke="#000"/>
<circle cx="523.9" cy="154.1" r="2.05" fill="#000" stroke="#000"/>
<circle cx="498.7" cy="173.1" r="2.05" fill="#000" stroke="#000"/>
<circle cx="523.1" cy="154.1" r="2.05" fill="#000" stroke="#000"/>
<circle cx="498.2" cy="154.8" r="2.05" fill="#000" stroke="#000"/>
<circle cx="495.5" cy="161.2" r="2.05" fill="#000" stroke="#000"/>
<circle cx="510.1" cy="168.6" r="2.05" fill="#000" stroke="#000"/>
<circle cx="492.2" cy="152.9" r="2.05" fill="#000" stroke="#000"/>
<circle cx="494.7" cy="155.7" r="2.05" fill="#000" stroke="#000"/>
<circle cx="501.3" cy="189.7" r="2.05" fill="#000" stroke="#000"/>
<circle cx="505.6" cy="178.1" r="2.05" fill="#000" stroke="#000"/>
<circle cx="512.3" cy="189.7" r="2.05" fill="#000" stroke="#000"/>
<circle cx="515.3" cy="186.1" r="2.05" fill="#000" stroke="#000"/>
<circle cx="505.7" cy="183.1" r="2.05" fill="#000" stroke="#000"/>
<circle cx="503.9" cy="189.7" r="2.05" fill="#000" stroke="#000"/>
<circle cx="515.5" cy="183.1" r="2.05" fill="#000" stroke="#000"/>
<circle cx="516.8" cy="186.1" r="2.05" fill="#000" stroke="#000"/>
<circle cx="512.8" cy="180.4" r="2.05" fill="#000" stroke="#000"/>
<circle cx="502.6" cy="180.4" r="2.05" fill="#000" stroke="#000"/>
<circle cx="518.0" cy="189.7" r="2.05" fill="#000" stroke="#000"/>
<circle cx="517.7" cy="189.7" r="2.05" fill="#000" stroke="#000"/>
<circle cx="515.5" cy="183.1" r="2.05" fill="#000" stroke="#000"/>
<circle cx="514.6" cy="178.1" r="2.05" fill="#000" stroke="#000"/>
<circle cx="512.1" cy="176.0" r="2.05" fill="#000" stroke="#000"/>
<circle cx="519.2" cy="189.7" r="2.05" fill="#000" stroke="#000"/>
<circle cx="500.8" cy="189.7" r="2.05" fill="#000" stroke="#000"/>
<circle cx="515.9" cy="176.0" r="2.05" fill="#000" stroke="#000"/>
<circle cx="510.0" cy="183.1" r="2.05" fill="#000" stroke="#000"/>
<circle cx="511.2" cy="189.7" r="2.05" fill="#000" stroke="#000"/>
<circle cx="513.6" cy="180.4" r="2.05" fill="#000" stroke="#000"/>
<circle cx="509.8" cy="186.1" r="2.05" fill="#000" stroke="#000"/>
<circle cx="497.3" cy="178.1" r="2.05" fill="#000" stroke="#000"/>
<circle cx="505.3" cy="178.1" r="2.05" fill="#000" stroke="#000"/>
<circle cx="502.5" cy="186.1" r="2.05" fill="#000" stroke="#000"/>
<circle cx="519.1" cy="183.1" r="2.05" fill="#000" stroke="#000"/>
<circle cx="511.9" cy="189.7" r="2.05" fill="#000" stroke="#000"/>
<circle cx="512.5" cy="186.1" r="2.05" fill="#000" stroke="#000"/>
<circle cx="500.7" cy="178.1" r="2.05" fill="#000" stroke="#000"/>
<circle cx="508.7" cy="186.1" r="2.05" fill="#000" stroke="#000"/>
<circle cx="514.4" cy="180.4" r="2.05" fill="#000" stroke="#000"/>
<circle cx="518.7" cy="186.1" r="2.05" fill="#000" stroke="#000"/>
<circle cx="516.4" cy="183.1" r="2.05" fill="#000" stroke="#000"/>
<circle cx="498.6" cy="176.0" r="2.05" fill="#000" stroke="#000"/>
<circle cx="511.7" cy="183.1" r="2.05" fill="#000" stroke="#000"/>
<circle cx="507.1" cy="180.4" r="2.05" fill="#000" stroke="#000"/>
<circle cx="501.1" cy="183.1" r="2.05" fill="#000" stroke="#000"/>
<circle cx="502.9" cy="189.7" r="2.05" fill="#000" stroke="#000"/>
<circle cx="501.1" cy="189.7" r="2.05" fill="#000" stroke="#000"/>
<circle cx="516.8" cy="183.1" r="2.05" fill="#000" stroke="#000"/>
<circle cx="514.8" cy="186.1" r="2.05" fill="#000" stroke="#000"/>
<circle cx="507.7" cy="189.7" r="2.05" fill="#000" stroke="#000"/>
<circle cx="516.1" cy="178.1" r="2.05" fill="#000" stroke="#000"/>
<circle cx="517.8" cy="176.0" r="2.05" fill="#000" stroke="#000"/>
<circle cx="503.9" cy="183.1" r="2.05" fill="#000" stroke="#000"/>
<circle cx="508.0" cy="183.1" r="2.05" fill="#000" stroke="#000"/>
<circle cx="517.9" cy="189.7" r="2.05" fill="#000" stroke="#000"/>
<circle cx="505.0" cy="180.4" r="2.05" fill="#000" stroke="#000"/>
<circle cx="512.0" cy="178.1" r="2.05" fill="#000" stroke="#000"/>
<circle cx="506.2" cy="186.1" r="2.05" fill="#000" stroke="#000"/>
<circle cx="553.8" cy="107.1" r="2.05" fill="#000" stroke="#000"/>
<circle cx="548.0" cy="110.3" r="2.05" fill="#000" stroke="#000"/>
<circle cx="548.5" cy="116.2" r="2.05" fill="#000" stroke="#000"/>
<circle cx="552.1" cy="105.4" r="2.05" fill="#000" stroke="#000"/>
<circle cx="554.7" cy="111.8" r="2.05" fill="#000" stroke="#000"/>
<circle cx="546.6" cy="107.7" r="2.05" fill="#000" stroke="#000"/>
<circle cx="550.9" cy="118.8" r="2.05" fill="#000" stroke="#000"/>
<circle cx="548.8" cy="108.4" r="2.05" fill="#000" stroke="#000"/>
<circle cx="556.7" cy="107.9" r="2.05" fill="#000" stroke="#000"/>
<circle cx="554.9" cy="101.0" r="2.05" fill="#000" stroke="#000"/>
<circle cx="549.7" cy="102.9" r="2.05" fill="#000" stroke="#000"/>
<circle cx="555.6" cy="110.6" r="2.05" fill="#000" stroke="#000"/>
<circle cx="547.6" cy="100.9" r="2.05" fill="#000" stroke="#000"/>
<circle cx="550.1" cy="101.0" r="2.05" fill="#000" stroke="#000"/>
<circle cx="550.8" cy="114.3" r="2.05" fill="#000" stroke="#000"/>
<circle cx="548.7" cy="102.5" r="2.05" fill="#000" stroke="#000"/>
<circle cx="549.3" cy="102.5" r="2.05" fill="#000" stroke="#000"/>
<circle cx="555.1" cy="101.0" r="2.05" fill="#000" stroke="#000"/>
<circle cx="553.9" cy="106.0" r="2.05" fill="#000" stroke="#000"/>
<circle cx="553.7" cy="115.2" r="2.05" fill="#000" stroke="#000"/>
<circle cx="556.3" cy="110.9" r="2.05" fill="#000" stroke="#000"/>
<circle cx="552.7" cy="105.8" r="2.05" fill="#000" stroke="#000"/>
<circle cx="554.8" cy="103.3" r="2.05" fill="#000" stroke="#000"/>
<circle cx="546.4" cy="106.4" r="2.05" fill="#000" stroke="#000"/>
<circle cx="552.5" cy="106.7" r="2.05" fill="#000" stroke="#000"/>
<circle cx="501.4" cy="129.4" r="2.05" fill="#000" stroke="#000"/>
<circle cx="494.5" cy="133.0" r="2.05" fill="#000" stroke="#000"/>
<circle cx="491.9" cy="137.0" r="2.05" fill="#000" stroke="#000"/>
<circle cx="487.9" cy="143.1" r="2.05" fill="#000" stroke="#000"/>
<circle cx="501.0" cy="134.4" r="2.05" fill="#000" stroke="#000"/>
<circle cx="507.6" cy="129.0" r="2.05" fill="#000" stroke="#000"/>
<circle cx="506.0" cy="133.0" r="2.05" fill="#000" stroke="#000"/>
<circle cx="501.1" cy="138.2" r="2.05" fill="#000" stroke="#000"/>
<circle cx="496.7" cy="148.7" r="2.05" fill="#000" stroke="#000"/>
<circle cx="496.7" cy="152.7" r="2.05" fill="#000" stroke="#000"/>
<circle cx="490.8" cy="158.7" r="2.05" fill="#000" stroke="#000"/>
<circle cx="497.5" cy="157.2" r="2.05" fill="#000" stroke="#000"/>
<circle cx="481.6" cy="167.5" r="2.05" fill="#000" stroke="#000"/>
<circle cx="469.3" cy="160.0" r="2.05" fill="#000" stroke="#000"/>
<circle cx="474.6" cy="161.0" r="2.05" fill="#000" stroke="#000"/>
<circle cx="473.1" cy="174.0" r="2.05" fill="#000" stroke="#000"/>
<circle cx="487.2" cy="170.6" r="2.05" fill="#000" stroke="#000"/>
<circle cx="491.0" cy="170.6" r="2.05" fill="#000" stroke="#000"/>
<circle cx="490.1" cy="175.5" r="2.05" fill="#000" stroke="#000"/>
<circle cx="494.0" cy="176.0" r="2.05" fill="#000" stroke="#000"/>
<circle cx="491.0" cy="182.7" r="2.05" fill="#000" stroke="#000"/>
<circle cx="494.9" cy="183.2" r="2.05" fill="#000" stroke="#000"/>
<circle cx="496.8" cy="189.5" r="2.05" fill="#000" stroke="#000"/>
<circle cx="475.6" cy="193.9" r="2.05" fill="#000" stroke="#000"/>
<circle cx="485.7" cy="193.9" r="2.05" fill="#000" stroke="#000"/>
<circle cx="490.1" cy="193.9" r="2.05" fill="#000" stroke="#000"/>
<circle cx="498.3" cy="193.9" r="2.05" fill="#000" stroke="#000"/>
<circle cx="508.0" cy="193.7" r="2.05" fill="#000" stroke="#000"/>
<circle cx="512.3" cy="193.9" r="2.05" fill="#000" stroke="#000"/>
<circle cx="514.8" cy="193.9" r="2.05" fill="#000" stroke="#000"/>
<circle cx="497.8" cy="199.7" r="2.05" fill="#000" stroke="#000"/>
<circle cx="503.1" cy="199.7" r="2.05" fill="#000" stroke="#000"/>
<circle cx="505.6" cy="199.7" r="2.05" fill="#000" stroke="#000"/>
<circle cx="508.5" cy="199.7" r="2.05" fill="#000" stroke="#000"/>
<circle cx="510.9" cy="199.7" r="2.05" fill="#000" stroke="#000"/>
<circle cx="517.2" cy="199.7" r="2.05" fill="#000" stroke="#000"/>
<circle cx="520.6" cy="199.7" r="2.05" fill="#000" stroke="#000"/>
<circle cx="522.0" cy="199.9" r="2.05" fill="#000" stroke="#000"/>
<circle cx="491.8" cy="207.7" r="2.05" fill="#000" stroke="#000"/>
<circle cx="504.8" cy="207.7" r="2.05" fill="#000" stroke="#000"/>
<circle cx="506.9" cy="207.7" r="2.05" fill="#000" stroke="#000"/>
<circle cx="509.2" cy="207.7" r="2.05" fill="#000" stroke="#000"/>
<circle cx="517.2" cy="207.7" r="2.05" fill="#000" stroke="#000"/>
<circle cx="524.4" cy="207.7" r="2.05" fill="#000" stroke="#000"/>
<circle cx="541.4" cy="207.7" r="2.05" fill="#000" stroke="#000"/>
<circle cx="484.6" cy="221.5" r="2.05" fill="#000" stroke="#000"/>
<circle cx="493.0" cy="221.5" r="2.05" fill="#000" stroke="#000"/>
<circle cx="495.5" cy="221.5" r="2.05" fill="#000" stroke="#000"/>
<circle cx="503.6" cy="221.5" r="2.05" fill="#000" stroke="#000"/>
<circle cx="503.8" cy="257.3" r="2.05" fill="#000" stroke="#000"/>
<circle cx="509.2" cy="257.3" r="2.05" fill="#000" stroke="#000"/>
<circle cx="542.3" cy="136.0" r="2.05" fill="#000" stroke="#000"/>
<circle cx="543.7" cy="139.8" r="2.05" fill="#000" stroke="#000"/>
<circle cx="543.2" cy="144.2" r="2.05" fill="#000" stroke="#000"/>
<circle cx="542.8" cy="148.6" r="2.05" fill="#000" stroke="#000"/>
<circle cx="538.9" cy="147.6" r="2.05" fill="#000" stroke="#000"/>
<circle cx="548.1" cy="149.0" r="2.05" fill="#000" stroke="#000"/>
<circle cx="548.1" cy="123.9" r="2.05" fill="#000" stroke="#000"/>
<circle cx="537.9" cy="154.4" r="2.05" fill="#000" stroke="#000"/>
<circle cx="540.8" cy="155.3" r="2.05" fill="#000" stroke="#000"/>
<circle cx="533.1" cy="158.2" r="2.05" fill="#000" stroke="#000"/>
<circle cx="537.0" cy="161.6" r="2.05" fill="#000" stroke="#000"/>
<circle cx="534.5" cy="164.0" r="2.05" fill="#000" stroke="#000"/>
<circle cx="529.2" cy="165.0" r="2.05" fill="#000" stroke="#000"/>
<circle cx="532.1" cy="173.7" r="2.05" fill="#000" stroke="#000"/>
<circle cx="525.3" cy="158.7" r="2.05" fill="#000" stroke="#000"/>
<circle cx="523.9" cy="169.4" r="2.05" fill="#000" stroke="#000"/>
<circle cx="515.2" cy="172.8" r="2.05" fill="#000" stroke="#000"/>
<circle cx="519.0" cy="175.7" r="2.05" fill="#000" stroke="#000"/>
<circle cx="525.6" cy="171.8" r="2.05" fill="#000" stroke="#000"/>
<circle cx="526.1" cy="178.6" r="2.05" fill="#000" stroke="#000"/>
<circle cx="529.5" cy="178.1" r="2.05" fill="#000" stroke="#000"/>
<circle cx="525.6" cy="180.5" r="2.05" fill="#000" stroke="#000"/>
<circle cx="526.1" cy="189.5" r="2.05" fill="#000" stroke="#000"/>
<circle cx="518.4" cy="189.2" r="2.05" fill="#000" stroke="#000"/>
<circle cx="576.0" cy="87.2" r="2.05" fill="#000" stroke="#000"/>
<circle cx="569.0" cy="89.4" r="2.05" fill="#000" stroke="#000"/>
<circle cx="569.2" cy="91.8" r="2.05" fill="#000" stroke="#000"/>
<circle cx="580.4" cy="93.0" r="2.05" fill="#000" stroke="#000"/>
<circle cx="574.0" cy="93.2" r="2.05" fill="#000" stroke="#000"/>
<circle cx="553.6" cy="93.2" r="2.05" fill="#000" stroke="#000"/>
<circle cx="555.0" cy="97.1" r="2.05" fill="#000" stroke="#000"/>
<circle cx="560.4" cy="96.0" r="2.05" fill="#000" stroke="#000"/>
<circle cx="547.5" cy="97.4" r="2.05" fill="#000" stroke="#000"/>
<circle cx="544.8" cy="100.4" r="2.05" fill="#000" stroke="#000"/>
<circle cx="568.5" cy="99.3" r="2.05" fill="#000" stroke="#000"/>
<circle cx="564.0" cy="100.4" r="2.05" fill="#000" stroke="#000"/>
<circle cx="566.3" cy="103.7" r="2.05" fill="#000" stroke="#000"/>
<circle cx="562.8" cy="106.7" r="2.05" fill="#000" stroke="#000"/>
<circle cx="568.0" cy="106.0" r="2.05" fill="#000" stroke="#000"/>
<circle cx="558.6" cy="103.2" r="2.05" fill="#000" stroke="#000"/>
<circle cx="558.6" cy="113.7" r="2.05" fill="#000" stroke="#000"/>
<circle cx="555.2" cy="117.5" r="2.05" fill="#000" stroke="#000"/>
<circle cx="561.9" cy="120.3" r="2.05" fill="#000" stroke="#000"/>
<circle cx="558.0" cy="119.7" r="2.05" fill="#000" stroke="#000"/>
<circle cx="556.4" cy="137.2" r="2.05" fill="#000" stroke="#000"/>
<circle cx="543.1" cy="124.1" r="2.05" fill="#000" stroke="#000"/>
<circle cx="518.8" cy="120.8" r="2.05" fill="#000" stroke="#000"/>
<circle cx="567.7" cy="95.2" r="2.05" fill="#000" stroke="#000"/>
<circle cx="565.8" cy="102.0" r="2.05" fill="#000" stroke="#000"/>
<circle cx="564.4" cy="104.4" r="2.05" fill="#000" stroke="#000"/>
<circle cx="558.6" cy="116.5" r="2.05" fill="#000" stroke="#000"/>
<circle cx="559.0" cy="96.0" r="2.05" fill="#000" stroke="#000"/>
<circle cx="710.4" cy="33.9" r="2.05" fill="#000" stroke="#000"/>
<circle cx="696.0" cy="35.5" r="2.05" fill="#000" stroke="#000"/>
<circle cx="691.0" cy="40.7" r="2.05" fill="#000" stroke="#000"/>
<circle cx="649.0" cy="56.9" r="2.05" fill="#000" stroke="#000"/>
<circle cx="598.4" cy="80.6" r="2.05" fill="#000" stroke="#000"/>
<circle cx="602.4" cy="119.8" r="2.05" fill="#000" stroke="#000"/>
<circle cx="597.8" cy="151.1" r="2.05" fill="#000" stroke="#000"/>
<circle cx="573.6" cy="156.8" r="2.05" fill="#000" stroke="#000"/>
<circle cx="543.0" cy="150.0" r="2.05" fill="#000" stroke="#000"/>
<circle cx="473.4" cy="174.2" r="2.05" fill="#000" stroke="#000"/>
<circle cx="581.3" cy="93.0" r="2.05" fill="#000" stroke="#000"/>
<circle cx="569.0" cy="90.5" r="2.05" fill="#000" stroke="#000"/>
<circle cx="538.9" cy="147.6" r="2.05" fill="#000" stroke="#000"/>
<circle cx="532.4" cy="173.7" r="2.05" fill="#000" stroke="#000"/>
<circle cx="508.0" cy="193.7" r="2.05" fill="#000" stroke="#000"/>
<circle cx="497.8" cy="199.7" r="2.05" fill="#000" stroke="#000"/>
<circle cx="505.5" cy="207.7" r="2.05" fill="#000" stroke="#000"/>
<circle cx="494.0" cy="176.0" r="2.05" fill="#000" stroke="#000"/>
</g>
<g clip-path="url(#cC)" fill-opacity="0.65" stroke-opacity="0.65" stroke-width="0.75">
<circle cx="270.5" cy="449.1" r="2.05" fill="#f26a4a" stroke="#f26a4a"/>
<circle cx="250.9" cy="460.6" r="2.05" fill="#7a7a7a" stroke="#7a7a7a"/>
<circle cx="221.5" cy="464.1" r="2.05" fill="#2a64a8" stroke="#2a64a8"/>
<circle cx="113.7" cy="481.3" r="2.05" fill="#f26a4a" stroke="#f26a4a"/>
<circle cx="133.3" cy="466.0" r="2.05" fill="#5b2a9f" stroke="#5b2a9f"/>
<circle cx="143.1" cy="458.7" r="2.05" fill="#f07818" stroke="#f07818"/>
<circle cx="152.9" cy="494.8" r="2.05" fill="#a82098" stroke="#a82098"/>
<circle cx="211.7" cy="453.2" r="2.05" fill="#f26a4a" stroke="#f26a4a"/>
<circle cx="252.8" cy="464.8" r="2.05" fill="#f26a4a" stroke="#f26a4a"/>
<circle cx="135.4" cy="485.6" r="2.05" fill="#9aa020" stroke="#9aa020"/>
<circle cx="250.9" cy="469.1" r="2.05" fill="#a01a10" stroke="#a01a10"/>
<circle cx="182.3" cy="447.6" r="2.05" fill="#9aa020" stroke="#9aa020"/>
<circle cx="221.5" cy="447.7" r="2.05" fill="#f26a4a" stroke="#f26a4a"/>
<circle cx="162.7" cy="480.1" r="2.05" fill="#c2b0f0" stroke="#c2b0f0"/>
<circle cx="162.7" cy="486.6" r="2.05" fill="#30b8c8" stroke="#30b8c8"/>
<circle cx="231.3" cy="458.7" r="2.05" fill="#2a64a8" stroke="#2a64a8"/>
<circle cx="241.1" cy="464.5" r="2.05" fill="#5a6440" stroke="#5a6440"/>
<circle cx="298.7" cy="423.4" r="2.05" fill="#f26a4a" stroke="#f26a4a"/>
<circle cx="221.5" cy="482.8" r="2.05" fill="#8e5a84" stroke="#8e5a84"/>
<circle cx="197.4" cy="492.1" r="2.05" fill="#9aa020" stroke="#9aa020"/>
<circle cx="172.5" cy="471.6" r="2.05" fill="#30b8c8" stroke="#30b8c8"/>
<circle cx="251.1" cy="455.8" r="2.05" fill="#7a7a7a" stroke="#7a7a7a"/>
<circle cx="177.4" cy="464.9" r="2.05" fill="#a01a10" stroke="#a01a10"/>
<circle cx="185.9" cy="454.1" r="2.05" fill="#a01a10" stroke="#a01a10"/>
<circle cx="133.3" cy="441.6" r="2.05" fill="#f5b0b0" stroke="#f5b0b0"/>
<circle cx="145.1" cy="477.0" r="2.05" fill="#40b888" stroke="#40b888"/>
<circle cx="133.3" cy="481.8" r="2.05" fill="#c8102e" stroke="#c8102e"/>
<circle cx="270.5" cy="480.1" r="2.05" fill="#f07818" stroke="#f07818"/>
<circle cx="103.9" cy="497.2" r="2.05" fill="#f07818" stroke="#f07818"/>
<circle cx="211.7" cy="448.7" r="2.05" fill="#7a7a7a" stroke="#7a7a7a"/>
<circle cx="146.1" cy="475.6" r="2.05" fill="#9aa020" stroke="#9aa020"/>
<circle cx="139.1" cy="454.5" r="2.05" fill="#f5b0b0" stroke="#f5b0b0"/>
<circle cx="204.3" cy="462.5" r="2.05" fill="#945a20" stroke="#945a20"/>
<circle cx="235.5" cy="435.0" r="2.05" fill="#c8102e" stroke="#c8102e"/>
<circle cx="250.9" cy="450.9" r="2.05" fill="#5b2a9f" stroke="#5b2a9f"/>
<circle cx="219.0" cy="477.0" r="2.05" fill="#f07818" stroke="#f07818"/>
<circle cx="250.8" cy="465.8" r="2.05" fill="#30b8c8" stroke="#30b8c8"/>
<circle cx="211.7" cy="485.4" r="2.05" fill="#945a20" stroke="#945a20"/>
<circle cx="211.7" cy="488.5" r="2.05" fill="#5a6440" stroke="#5a6440"/>
<circle cx="182.3" cy="462.1" r="2.05" fill="#c2b0f0" stroke="#c2b0f0"/>
<circle cx="166.7" cy="455.2" r="2.05" fill="#f07818" stroke="#f07818"/>
<circle cx="241.1" cy="427.4" r="2.05" fill="#f5b0b0" stroke="#f5b0b0"/>
<circle cx="137.4" cy="473.7" r="2.05" fill="#2a64a8" stroke="#2a64a8"/>
<circle cx="262.0" cy="458.0" r="2.05" fill="#9aa020" stroke="#9aa020"/>
<circle cx="115.7" cy="510.8" r="2.05" fill="#c8102e" stroke="#c8102e"/>
<circle cx="162.7" cy="453.9" r="2.05" fill="#c2b0f0" stroke="#c2b0f0"/>
<circle cx="252.7" cy="449.7" r="2.05" fill="#7a7a7a" stroke="#7a7a7a"/>
<circle cx="161.2" cy="478.5" r="2.05" fill="#945a20" stroke="#945a20"/>
<circle cx="182.3" cy="455.6" r="2.05" fill="#c8102e" stroke="#c8102e"/>
<circle cx="217.2" cy="452.4" r="2.05" fill="#c2b0f0" stroke="#c2b0f0"/>
<circle cx="319.5" cy="474.5" r="2.05" fill="#f26a4a" stroke="#f26a4a"/>
<circle cx="205.1" cy="451.4" r="2.05" fill="#f26a4a" stroke="#f26a4a"/>
<circle cx="192.1" cy="462.6" r="2.05" fill="#c8102e" stroke="#c8102e"/>
<circle cx="143.1" cy="478.0" r="2.05" fill="#f5c000" stroke="#f5c000"/>
<circle cx="144.1" cy="478.3" r="2.05" fill="#7a7a7a" stroke="#7a7a7a"/>
<circle cx="239.2" cy="430.9" r="2.05" fill="#8e5a84" stroke="#8e5a84"/>
<circle cx="133.3" cy="449.9" r="2.05" fill="#c2b0f0" stroke="#c2b0f0"/>
<circle cx="231.6" cy="430.8" r="2.05" fill="#c8102e" stroke="#c8102e"/>
<circle cx="192.4" cy="482.3" r="2.05" fill="#9aa020" stroke="#9aa020"/>
<circle cx="147.9" cy="481.4" r="2.05" fill="#8e5a84" stroke="#8e5a84"/>
<circle cx="124.7" cy="471.0" r="2.05" fill="#f26a4a" stroke="#f26a4a"/>
<circle cx="166.3" cy="487.1" r="2.05" fill="#7a7a7a" stroke="#7a7a7a"/>
<circle cx="147.1" cy="482.5" r="2.05" fill="#a01a10" stroke="#a01a10"/>
<circle cx="270.5" cy="480.8" r="2.05" fill="#f26a4a" stroke="#f26a4a"/>
<circle cx="172.5" cy="439.2" r="2.05" fill="#a01a10" stroke="#a01a10"/>
<circle cx="245.7" cy="440.4" r="2.05" fill="#f26a4a" stroke="#f26a4a"/>
<circle cx="133.3" cy="466.4" r="2.05" fill="#c8102e" stroke="#c8102e"/>
<circle cx="139.5" cy="469.2" r="2.05" fill="#a01a10" stroke="#a01a10"/>
<circle cx="264.7" cy="460.3" r="2.05" fill="#a01a10" stroke="#a01a10"/>
<circle cx="130.5" cy="483.3" r="2.05" fill="#f07818" stroke="#f07818"/>
<circle cx="293.6" cy="440.2" r="2.05" fill="#5a6440" stroke="#5a6440"/>
<circle cx="152.9" cy="481.5" r="2.05" fill="#7a7a7a" stroke="#7a7a7a"/>
<circle cx="221.6" cy="441.5" r="2.05" fill="#c2b0f0" stroke="#c2b0f0"/>
<circle cx="128.7" cy="487.2" r="2.05" fill="#9aa020" stroke="#9aa020"/>
<circle cx="211.7" cy="475.2" r="2.05" fill="#7a7a7a" stroke="#7a7a7a"/>
<circle cx="147.4" cy="451.5" r="2.05" fill="#f07818" stroke="#f07818"/>
<circle cx="128.6" cy="481.9" r="2.05" fill="#8e5a84" stroke="#8e5a84"/>
<circle cx="163.0" cy="460.5" r="2.05" fill="#5a6440" stroke="#5a6440"/>
<circle cx="155.7" cy="476.5" r="2.05" fill="#7a7a7a" stroke="#7a7a7a"/>
<circle cx="152.8" cy="505.1" r="2.05" fill="#30b8c8" stroke="#30b8c8"/>
<circle cx="143.1" cy="463.6" r="2.05" fill="#5a6440" stroke="#5a6440"/>
<circle cx="122.7" cy="507.9" r="2.05" fill="#f26a4a" stroke="#f26a4a"/>
<circle cx="143.1" cy="455.4" r="2.05" fill="#f26a4a" stroke="#f26a4a"/>
<circle cx="162.4" cy="493.0" r="2.05" fill="#f26a4a" stroke="#f26a4a"/>
<circle cx="244.3" cy="485.6" r="2.05" fill="#7a7a7a" stroke="#7a7a7a"/>
<circle cx="257.5" cy="450.3" r="2.05" fill="#c2b0f0" stroke="#c2b0f0"/>
<circle cx="228.6" cy="452.8" r="2.05" fill="#f5b0b0" stroke="#f5b0b0"/>
<circle cx="123.5" cy="484.8" r="2.05" fill="#a01a10" stroke="#a01a10"/>
<circle cx="260.7" cy="473.2" r="2.05" fill="#f26a4a" stroke="#f26a4a"/>
<circle cx="206.6" cy="448.9" r="2.05" fill="#5b2a9f" stroke="#5b2a9f"/>
<circle cx="211.7" cy="484.3" r="2.05" fill="#c2b0f0" stroke="#c2b0f0"/>
<circle cx="211.7" cy="469.0" r="2.05" fill="#30b8c8" stroke="#30b8c8"/>
<circle cx="209.3" cy="474.3" r="2.05" fill="#945a20" stroke="#945a20"/>
<circle cx="123.5" cy="492.3" r="2.05" fill="#7a7a7a" stroke="#7a7a7a"/>
<circle cx="329.3" cy="431.2" r="2.05" fill="#c8102e" stroke="#c8102e"/>
<circle cx="132.8" cy="483.9" r="2.05" fill="#7a7a7a" stroke="#7a7a7a"/>
<circle cx="158.7" cy="461.0" r="2.05" fill="#5b2a9f" stroke="#5b2a9f"/>
<circle cx="201.9" cy="452.6" r="2.05" fill="#40b888" stroke="#40b888"/>
<circle cx="121.5" cy="514.6" r="2.05" fill="#f26a4a" stroke="#f26a4a"/>
<circle cx="192.1" cy="482.7" r="2.05" fill="#40b888" stroke="#40b888"/>
<circle cx="172.5" cy="473.5" r="2.05" fill="#8e5a84" stroke="#8e5a84"/>
<circle cx="165.3" cy="477.8" r="2.05" fill="#7a7a7a" stroke="#7a7a7a"/>
<circle cx="241.1" cy="452.7" r="2.05" fill="#40b888" stroke="#40b888"/>
<circle cx="132.9" cy="503.6" r="2.05" fill="#40b888" stroke="#40b888"/>
<circle cx="270.5" cy="442.0" r="2.05" fill="#5a6440" stroke="#5a6440"/>
<circle cx="206.7" cy="451.1" r="2.05" fill="#f26a4a" stroke="#f26a4a"/>
<circle cx="133.3" cy="476.1" r="2.05" fill="#5a6440" stroke="#5a6440"/>
<circle cx="211.7" cy="483.1" r="2.05" fill="#7a7a7a" stroke="#7a7a7a"/>
<circle cx="229.1" cy="459.2" r="2.05" fill="#7a7a7a" stroke="#7a7a7a"/>
<circle cx="280.3" cy="459.9" r="2.05" fill="#c2b0f0" stroke="#c2b0f0"/>
<circle cx="155.9" cy="461.4" r="2.05" fill="#f26a4a" stroke="#f26a4a"/>
<circle cx="241.1" cy="458.8" r="2.05" fill="#945a20" stroke="#945a20"/>
<circle cx="162.7" cy="457.9" r="2.05" fill="#f5c000" stroke="#f5c000"/>
<circle cx="280.3" cy="458.3" r="2.05" fill="#a01a10" stroke="#a01a10"/>
<circle cx="231.3" cy="436.8" r="2.05" fill="#8e5a84" stroke="#8e5a84"/>
<circle cx="218.3" cy="496.2" r="2.05" fill="#2a64a8" stroke="#2a64a8"/>
<circle cx="211.7" cy="477.4" r="2.05" fill="#2a64a8" stroke="#2a64a8"/>
<circle cx="266.7" cy="446.1" r="2.05" fill="#40b888" stroke="#40b888"/>
<circle cx="201.9" cy="486.5" r="2.05" fill="#2a64a8" stroke="#2a64a8"/>
<circle cx="123.5" cy="475.2" r="2.05" fill="#f5c000" stroke="#f5c000"/>
<circle cx="143.1" cy="490.7" r="2.05" fill="#f26a4a" stroke="#f26a4a"/>
<circle cx="165.5" cy="467.3" r="2.05" fill="#f26a4a" stroke="#f26a4a"/>
<circle cx="149.3" cy="485.2" r="2.05" fill="#c2b0f0" stroke="#c2b0f0"/>
<circle cx="150.5" cy="477.7" r="2.05" fill="#30b8c8" stroke="#30b8c8"/>
<circle cx="193.7" cy="461.8" r="2.05" fill="#7a7a7a" stroke="#7a7a7a"/>
<circle cx="250.9" cy="457.6" r="2.05" fill="#40b888" stroke="#40b888"/>
<circle cx="113.7" cy="501.5" r="2.05" fill="#2a64a8" stroke="#2a64a8"/>
<circle cx="143.4" cy="438.9" r="2.05" fill="#f5c000" stroke="#f5c000"/>
<circle cx="201.3" cy="463.2" r="2.05" fill="#f26a4a" stroke="#f26a4a"/>
<circle cx="199.8" cy="478.5" r="2.05" fill="#5b2a9f" stroke="#5b2a9f"/>
<circle cx="170.5" cy="453.7" r="2.05" fill="#2a64a8" stroke="#2a64a8"/>
<circle cx="201.0" cy="450.8" r="2.05" fill="#5a6440" stroke="#5a6440"/>
<circle cx="211.7" cy="443.0" r="2.05" fill="#f26a4a" stroke="#f26a4a"/>
<circle cx="206.2" cy="435.2" r="2.05" fill="#7a7a7a" stroke="#7a7a7a"/>
<circle cx="133.3" cy="487.9" r="2.05" fill="#f26a4a" stroke="#f26a4a"/>
<circle cx="175.9" cy="450.9" r="2.05" fill="#30b8c8" stroke="#30b8c8"/>
<circle cx="211.7" cy="444.3" r="2.05" fill="#a01a10" stroke="#a01a10"/>
<circle cx="250.9" cy="456.0" r="2.05" fill="#f26a4a" stroke="#f26a4a"/>
<circle cx="221.9" cy="456.5" r="2.05" fill="#f5c000" stroke="#f5c000"/>
<circle cx="315.7" cy="492.5" r="2.05" fill="#8e5a84" stroke="#8e5a84"/>
<circle cx="150.8" cy="479.7" r="2.05" fill="#a01a10" stroke="#a01a10"/>
<circle cx="172.5" cy="440.2" r="2.05" fill="#f5b0b0" stroke="#f5b0b0"/>
<circle cx="182.3" cy="493.6" r="2.05" fill="#f26a4a" stroke="#f26a4a"/>
<circle cx="137.7" cy="481.1" r="2.05" fill="#7a7a7a" stroke="#7a7a7a"/>
<circle cx="152.9" cy="466.1" r="2.05" fill="#f5b0b0" stroke="#f5b0b0"/>
<circle cx="152.9" cy="461.7" r="2.05" fill="#c8102e" stroke="#c8102e"/>
<circle cx="207.5" cy="437.4" r="2.05" fill="#5a6440" stroke="#5a6440"/>
<circle cx="170.5" cy="495.0" r="2.05" fill="#c8102e" stroke="#c8102e"/>
<circle cx="142.7" cy="471.4" r="2.05" fill="#f07818" stroke="#f07818"/>
<circle cx="152.8" cy="457.4" r="2.05" fill="#5b2a9f" stroke="#5b2a9f"/>
<circle cx="216.6" cy="481.3" r="2.05" fill="#c8102e" stroke="#c8102e"/>
<circle cx="172.5" cy="468.3" r="2.05" fill="#a01a10" stroke="#a01a10"/>
<circle cx="103.9" cy="471.9" r="2.05" fill="#f07818" stroke="#f07818"/>
<circle cx="254.3" cy="435.3" r="2.05" fill="#c2b0f0" stroke="#c2b0f0"/>
<circle cx="210.3" cy="453.7" r="2.05" fill="#8e5a84" stroke="#8e5a84"/>
<circle cx="155.4" cy="510.4" r="2.05" fill="#7a7a7a" stroke="#7a7a7a"/>
<circle cx="123.5" cy="488.5" r="2.05" fill="#a01a10" stroke="#a01a10"/>
<circle cx="184.2" cy="460.0" r="2.05" fill="#7a7a7a" stroke="#7a7a7a"/>
<circle cx="152.9" cy="475.3" r="2.05" fill="#f5b0b0" stroke="#f5b0b0"/>
<circle cx="169.5" cy="469.1" r="2.05" fill="#f26a4a" stroke="#f26a4a"/>
<circle cx="143.1" cy="424.7" r="2.05" fill="#7a7a7a" stroke="#7a7a7a"/>
<circle cx="194.8" cy="467.6" r="2.05" fill="#f07818" stroke="#f07818"/>
<circle cx="255.8" cy="470.2" r="2.05" fill="#2a64a8" stroke="#2a64a8"/>
<circle cx="113.7" cy="491.9" r="2.05" fill="#7a7a7a" stroke="#7a7a7a"/>
<circle cx="143.0" cy="476.9" r="2.05" fill="#f26a4a" stroke="#f26a4a"/>
<circle cx="204.0" cy="467.7" r="2.05" fill="#f5b0b0" stroke="#f5b0b0"/>
<circle cx="258.1" cy="456.3" r="2.05" fill="#30b8c8" stroke="#30b8c8"/>
<circle cx="200.1" cy="451.7" r="2.05" fill="#8e5a84" stroke="#8e5a84"/>
<circle cx="182.3" cy="462.5" r="2.05" fill="#f26a4a" stroke="#f26a4a"/>
<circle cx="250.9" cy="474.4" r="2.05" fill="#945a20" stroke="#945a20"/>
<circle cx="235.1" cy="460.4" r="2.05" fill="#30b8c8" stroke="#30b8c8"/>
<circle cx="216.1" cy="453.9" r="2.05" fill="#2a64a8" stroke="#2a64a8"/>
<circle cx="143.1" cy="479.2" r="2.05" fill="#f26a4a" stroke="#f26a4a"/>
<circle cx="211.7" cy="444.2" r="2.05" fill="#7a7a7a" stroke="#7a7a7a"/>
<circle cx="211.7" cy="449.9" r="2.05" fill="#5b2a9f" stroke="#5b2a9f"/>
<circle cx="120.5" cy="504.5" r="2.05" fill="#30b8c8" stroke="#30b8c8"/>
<circle cx="188.0" cy="460.4" r="2.05" fill="#7a7a7a" stroke="#7a7a7a"/>
<circle cx="143.1" cy="441.6" r="2.05" fill="#f5c000" stroke="#f5c000"/>
<circle cx="162.7" cy="445.1" r="2.05" fill="#945a20" stroke="#945a20"/>
<circle cx="172.5" cy="468.5" r="2.05" fill="#f07818" stroke="#f07818"/>
<circle cx="220.1" cy="446.8" r="2.05" fill="#f5b0b0" stroke="#f5b0b0"/>
<circle cx="141.7" cy="482.6" r="2.05" fill="#f26a4a" stroke="#f26a4a"/>
<circle cx="162.4" cy="491.4" r="2.05" fill="#f26a4a" stroke="#f26a4a"/>
<circle cx="133.3" cy="465.0" r="2.05" fill="#c8102e" stroke="#c8102e"/>
<circle cx="190.4" cy="461.2" r="2.05" fill="#c8102e" stroke="#c8102e"/>
<circle cx="142.9" cy="464.2" r="2.05" fill="#9aa020" stroke="#9aa020"/>
<circle cx="135.3" cy="473.6" r="2.05" fill="#40b888" stroke="#40b888"/>
<circle cx="172.5" cy="462.6" r="2.05" fill="#c2b0f0" stroke="#c2b0f0"/>
<circle cx="180.4" cy="474.4" r="2.05" fill="#f5c000" stroke="#f5c000"/>
<circle cx="171.0" cy="460.6" r="2.05" fill="#945a20" stroke="#945a20"/>
<circle cx="238.4" cy="445.1" r="2.05" fill="#7a7a7a" stroke="#7a7a7a"/>
<circle cx="152.9" cy="471.5" r="2.05" fill="#7a7a7a" stroke="#7a7a7a"/>
<circle cx="241.1" cy="444.9" r="2.05" fill="#f5b0b0" stroke="#f5b0b0"/>
<circle cx="162.7" cy="496.3" r="2.05" fill="#c8102e" stroke="#c8102e"/>
<circle cx="242.7" cy="469.3" r="2.05" fill="#a01a10" stroke="#a01a10"/>
<circle cx="208.2" cy="440.2" r="2.05" fill="#f07818" stroke="#f07818"/>
<circle cx="200.6" cy="436.4" r="2.05" fill="#f26a4a" stroke="#f26a4a"/>
<circle cx="192.1" cy="460.9" r="2.05" fill="#f5c000" stroke="#f5c000"/>
<circle cx="133.7" cy="475.0" r="2.05" fill="#f07818" stroke="#f07818"/>
<circle cx="262.1" cy="473.8" r="2.05" fill="#5b2a9f" stroke="#5b2a9f"/>
<circle cx="113.7" cy="490.0" r="2.05" fill="#30b8c8" stroke="#30b8c8"/>
<circle cx="133.3" cy="461.5" r="2.05" fill="#f26a4a" stroke="#f26a4a"/>
<circle cx="162.7" cy="491.9" r="2.05" fill="#c2b0f0" stroke="#c2b0f0"/>
<circle cx="140.0" cy="463.9" r="2.05" fill="#5b2a9f" stroke="#5b2a9f"/>
<circle cx="140.1" cy="464.9" r="2.05" fill="#f26a4a" stroke="#f26a4a"/>
<circle cx="195.3" cy="457.5" r="2.05" fill="#7a7a7a" stroke="#7a7a7a"/>
<circle cx="184.4" cy="483.2" r="2.05" fill="#c2b0f0" stroke="#c2b0f0"/>
<circle cx="241.1" cy="449.1" r="2.05" fill="#f07818" stroke="#f07818"/>
<circle cx="109.1" cy="521.1" r="2.05" fill="#9aa020" stroke="#9aa020"/>
<circle cx="202.3" cy="440.4" r="2.05" fill="#c2b0f0" stroke="#c2b0f0"/>
<circle cx="133.3" cy="471.4" r="2.05" fill="#f26a4a" stroke="#f26a4a"/>
<circle cx="123.5" cy="504.3" r="2.05" fill="#2a64a8" stroke="#2a64a8"/>
<circle cx="212.6" cy="441.0" r="2.05" fill="#c2b0f0" stroke="#c2b0f0"/>
<circle cx="150.5" cy="453.2" r="2.05" fill="#f26a4a" stroke="#f26a4a"/>
<circle cx="113.7" cy="505.6" r="2.05" fill="#c8102e" stroke="#c8102e"/>
<circle cx="119.5" cy="456.4" r="2.05" fill="#c8102e" stroke="#c8102e"/>
<circle cx="231.0" cy="474.4" r="2.05" fill="#f26a4a" stroke="#f26a4a"/>
<circle cx="192.1" cy="459.9" r="2.05" fill="#5b2a9f" stroke="#5b2a9f"/>
<circle cx="200.1" cy="445.4" r="2.05" fill="#f07818" stroke="#f07818"/>
<circle cx="182.3" cy="501.1" r="2.05" fill="#f07818" stroke="#f07818"/>
<circle cx="195.9" cy="448.8" r="2.05" fill="#7a7a7a" stroke="#7a7a7a"/>
<circle cx="126.3" cy="483.7" r="2.05" fill="#f07818" stroke="#f07818"/>
<circle cx="256.0" cy="455.5" r="2.05" fill="#f26a4a" stroke="#f26a4a"/>
<circle cx="103.9" cy="517.4" r="2.05" fill="#f07818" stroke="#f07818"/>
<circle cx="133.3" cy="468.4" r="2.05" fill="#c8102e" stroke="#c8102e"/>
<circle cx="215.3" cy="478.3" r="2.05" fill="#f07818" stroke="#f07818"/>
<circle cx="143.1" cy="486.9" r="2.05" fill="#7a7a7a" stroke="#7a7a7a"/>
<circle cx="161.8" cy="476.1" r="2.05" fill="#2a64a8" stroke="#2a64a8"/>
<circle cx="103.9" cy="519.7" r="2.05" fill="#f5c000" stroke="#f5c000"/>
<circle cx="161.1" cy="445.2" r="2.05" fill="#8e5a84" stroke="#8e5a84"/>
<circle cx="211.7" cy="482.2" r="2.05" fill="#9aa020" stroke="#9aa020"/>
<circle cx="143.1" cy="483.6" r="2.05" fill="#f5c000" stroke="#f5c000"/>
<circle cx="197.1" cy="468.8" r="2.05" fill="#7a7a7a" stroke="#7a7a7a"/>
<circle cx="247.0" cy="456.5" r="2.05" fill="#f5c000" stroke="#f5c000"/>
<circle cx="211.7" cy="449.7" r="2.05" fill="#5b2a9f" stroke="#5b2a9f"/>
<circle cx="249.1" cy="443.7" r="2.05" fill="#5a6440" stroke="#5a6440"/>
<circle cx="154.2" cy="475.0" r="2.05" fill="#30b8c8" stroke="#30b8c8"/>
<circle cx="259.6" cy="460.6" r="2.05" fill="#5a6440" stroke="#5a6440"/>
<circle cx="163.6" cy="468.4" r="2.05" fill="#5a6440" stroke="#5a6440"/>
<circle cx="282.5" cy="438.7" r="2.05" fill="#f26a4a" stroke="#f26a4a"/>
<circle cx="255.0" cy="444.7" r="2.05" fill="#f5b0b0" stroke="#f5b0b0"/>
<circle cx="221.5" cy="468.3" r="2.05" fill="#f26a4a" stroke="#f26a4a"/>
<circle cx="139.2" cy="504.2" r="2.05" fill="#c2b0f0" stroke="#c2b0f0"/>
<circle cx="250.9" cy="423.1" r="2.05" fill="#7a7a7a" stroke="#7a7a7a"/>
<circle cx="120.7" cy="474.5" r="2.05" fill="#f5c000" stroke="#f5c000"/>
<circle cx="221.5" cy="456.3" r="2.05" fill="#f26a4a" stroke="#f26a4a"/>
<circle cx="260.7" cy="449.3" r="2.05" fill="#7a7a7a" stroke="#7a7a7a"/>
<circle cx="124.2" cy="493.5" r="2.05" fill="#5b2a9f" stroke="#5b2a9f"/>
<circle cx="247.8" cy="471.8" r="2.05" fill="#f26a4a" stroke="#f26a4a"/>
<circle cx="149.5" cy="476.2" r="2.05" fill="#5b2a9f" stroke="#5b2a9f"/>
<circle cx="153.0" cy="474.0" r="2.05" fill="#7a7a7a" stroke="#7a7a7a"/>
<circle cx="250.9" cy="465.6" r="2.05" fill="#f26a4a" stroke="#f26a4a"/>
<circle cx="133.3" cy="495.9" r="2.05" fill="#f5b0b0" stroke="#f5b0b0"/>
<circle cx="212.0" cy="466.6" r="2.05" fill="#f26a4a" stroke="#f26a4a"/>
<circle cx="141.4" cy="463.4" r="2.05" fill="#f07818" stroke="#f07818"/>
<circle cx="231.7" cy="466.5" r="2.05" fill="#5b2a9f" stroke="#5b2a9f"/>
<circle cx="196.3" cy="463.8" r="2.05" fill="#f26a4a" stroke="#f26a4a"/>
<circle cx="154.8" cy="502.1" r="2.05" fill="#945a20" stroke="#945a20"/>
<circle cx="182.3" cy="469.4" r="2.05" fill="#a01a10" stroke="#a01a10"/>
<circle cx="135.6" cy="475.0" r="2.05" fill="#2a64a8" stroke="#2a64a8"/>
<circle cx="162.7" cy="487.9" r="2.05" fill="#f07818" stroke="#f07818"/>
<circle cx="146.7" cy="498.1" r="2.05" fill="#f5b0b0" stroke="#f5b0b0"/>
<circle cx="160.0" cy="463.2" r="2.05" fill="#5b2a9f" stroke="#5b2a9f"/>
<circle cx="222.0" cy="472.7" r="2.05" fill="#c8102e" stroke="#c8102e"/>
<circle cx="241.1" cy="450.0" r="2.05" fill="#7a7a7a" stroke="#7a7a7a"/>
<circle cx="221.5" cy="466.8" r="2.05" fill="#f26a4a" stroke="#f26a4a"/>
<circle cx="152.9" cy="461.0" r="2.05" fill="#f26a4a" stroke="#f26a4a"/>
<circle cx="188.5" cy="470.5" r="2.05" fill="#945a20" stroke="#945a20"/>
<circle cx="155.6" cy="493.3" r="2.05" fill="#5b2a9f" stroke="#5b2a9f"/>
<circle cx="195.8" cy="465.5" r="2.05" fill="#f5c000" stroke="#f5c000"/>
<circle cx="198.4" cy="468.8" r="2.05" fill="#c2b0f0" stroke="#c2b0f0"/>
<circle cx="182.3" cy="456.1" r="2.05" fill="#f26a4a" stroke="#f26a4a"/>
<circle cx="193.2" cy="471.5" r="2.05" fill="#8e5a84" stroke="#8e5a84"/>
<circle cx="192.1" cy="470.8" r="2.05" fill="#f07818" stroke="#f07818"/>
<circle cx="138.3" cy="459.5" r="2.05" fill="#f26a4a" stroke="#f26a4a"/>
<circle cx="238.7" cy="439.9" r="2.05" fill="#f26a4a" stroke="#f26a4a"/>
<circle cx="196.0" cy="452.5" r="2.05" fill="#c2b0f0" stroke="#c2b0f0"/>
<circle cx="139.8" cy="456.6" r="2.05" fill="#c8102e" stroke="#c8102e"/>
<circle cx="181.9" cy="459.3" r="2.05" fill="#5b2a9f" stroke="#5b2a9f"/>
<circle cx="213.3" cy="449.8" r="2.05" fill="#a01a10" stroke="#a01a10"/>
<circle cx="117.7" cy="478.4" r="2.05" fill="#f5c000" stroke="#f5c000"/>
<circle cx="260.7" cy="448.3" r="2.05" fill="#5a6440" stroke="#5a6440"/>
<circle cx="278.3" cy="451.0" r="2.05" fill="#c8102e" stroke="#c8102e"/>
<circle cx="175.6" cy="465.0" r="2.05" fill="#5a6440" stroke="#5a6440"/>
<circle cx="174.5" cy="430.4" r="2.05" fill="#5a6440" stroke="#5a6440"/>
<circle cx="143.1" cy="471.8" r="2.05" fill="#30b8c8" stroke="#30b8c8"/>
<circle cx="139.5" cy="476.2" r="2.05" fill="#f07818" stroke="#f07818"/>
<circle cx="152.9" cy="476.2" r="2.05" fill="#f07818" stroke="#f07818"/>
<circle cx="143.9" cy="472.4" r="2.05" fill="#c2b0f0" stroke="#c2b0f0"/>
<circle cx="220.8" cy="456.7" r="2.05" fill="#c8102e" stroke="#c8102e"/>
<circle cx="122.3" cy="505.0" r="2.05" fill="#2a64a8" stroke="#2a64a8"/>
<circle cx="152.9" cy="501.0" r="2.05" fill="#8e5a84" stroke="#8e5a84"/>
<circle cx="103.9" cy="496.4" r="2.05" fill="#7a7a7a" stroke="#7a7a7a"/>
<circle cx="221.5" cy="485.0" r="2.05" fill="#2a64a8" stroke="#2a64a8"/>
<circle cx="138.7" cy="468.7" r="2.05" fill="#7a7a7a" stroke="#7a7a7a"/>
<circle cx="247.3" cy="454.4" r="2.05" fill="#f07818" stroke="#f07818"/>
<circle cx="221.6" cy="442.6" r="2.05" fill="#c8102e" stroke="#c8102e"/>
<circle cx="155.8" cy="444.5" r="2.05" fill="#945a20" stroke="#945a20"/>
<circle cx="135.8" cy="467.5" r="2.05" fill="#f26a4a" stroke="#f26a4a"/>
<circle cx="152.9" cy="479.1" r="2.05" fill="#f07818" stroke="#f07818"/>
<circle cx="133.7" cy="491.5" r="2.05" fill="#7a7a7a" stroke="#7a7a7a"/>
<circle cx="182.3" cy="478.4" r="2.05" fill="#f5b0b0" stroke="#f5b0b0"/>
<circle cx="126.3" cy="482.1" r="2.05" fill="#f5c000" stroke="#f5c000"/>
<circle cx="122.9" cy="518.8" r="2.05" fill="#5a6440" stroke="#5a6440"/>
<circle cx="163.9" cy="467.8" r="2.05" fill="#5a6440" stroke="#5a6440"/>
<circle cx="211.7" cy="462.0" r="2.05" fill="#5b2a9f" stroke="#5b2a9f"/>
<circle cx="211.7" cy="451.9" r="2.05" fill="#f26a4a" stroke="#f26a4a"/>
<circle cx="208.2" cy="467.5" r="2.05" fill="#7a7a7a" stroke="#7a7a7a"/>
<circle cx="119.8" cy="488.4" r="2.05" fill="#f26a4a" stroke="#f26a4a"/>
<circle cx="211.7" cy="473.1" r="2.05" fill="#f5c000" stroke="#f5c000"/>
<circle cx="201.5" cy="470.5" r="2.05" fill="#f26a4a" stroke="#f26a4a"/>
<circle cx="143.1" cy="499.3" r="2.05" fill="#f26a4a" stroke="#f26a4a"/>
<circle cx="114.4" cy="493.0" r="2.05" fill="#a01a10" stroke="#a01a10"/>
<circle cx="133.3" cy="449.7" r="2.05" fill="#f07818" stroke="#f07818"/>
<circle cx="178.0" cy="464.3" r="2.05" fill="#7a7a7a" stroke="#7a7a7a"/>
<circle cx="152.9" cy="465.0" r="2.05" fill="#f26a4a" stroke="#f26a4a"/>
<circle cx="153.7" cy="485.5" r="2.05" fill="#a01a10" stroke="#a01a10"/>
<circle cx="152.9" cy="448.6" r="2.05" fill="#f26a4a" stroke="#f26a4a"/>
<circle cx="211.7" cy="473.6" r="2.05" fill="#7a7a7a" stroke="#7a7a7a"/>
<circle cx="250.9" cy="443.7" r="2.05" fill="#f5b0b0" stroke="#f5b0b0"/>
<circle cx="152.9" cy="468.9" r="2.05" fill="#c8102e" stroke="#c8102e"/>
<circle cx="140.2" cy="487.2" r="2.05" fill="#f26a4a" stroke="#f26a4a"/>
<circle cx="130.6" cy="461.3" r="2.05" fill="#f26a4a" stroke="#f26a4a"/>
<circle cx="207.3" cy="462.2" r="2.05" fill="#f26a4a" stroke="#f26a4a"/>
<circle cx="174.4" cy="464.6" r="2.05" fill="#5a6440" stroke="#5a6440"/>
<circle cx="143.1" cy="465.1" r="2.05" fill="#30b8c8" stroke="#30b8c8"/>
<circle cx="136.9" cy="473.3" r="2.05" fill="#2a64a8" stroke="#2a64a8"/>
<circle cx="152.3" cy="476.5" r="2.05" fill="#7a7a7a" stroke="#7a7a7a"/>
<circle cx="126.9" cy="474.9" r="2.05" fill="#7a7a7a" stroke="#7a7a7a"/>
<circle cx="152.9" cy="476.8" r="2.05" fill="#f07818" stroke="#f07818"/>
<circle cx="172.5" cy="466.7" r="2.05" fill="#f07818" stroke="#f07818"/>
<circle cx="143.6" cy="482.2" r="2.05" fill="#a01a10" stroke="#a01a10"/>
<circle cx="230.0" cy="482.0" r="2.05" fill="#a82098" stroke="#a82098"/>
<circle cx="182.3" cy="476.5" r="2.05" fill="#c2b0f0" stroke="#c2b0f0"/>
<circle cx="135.2" cy="480.8" r="2.05" fill="#f5c000" stroke="#f5c000"/>
<circle cx="220.9" cy="460.2" r="2.05" fill="#5a6440" stroke="#5a6440"/>
<circle cx="151.6" cy="452.6" r="2.05" fill="#c8102e" stroke="#c8102e"/>
<circle cx="265.1" cy="479.8" r="2.05" fill="#f07818" stroke="#f07818"/>
<circle cx="110.8" cy="495.2" r="2.05" fill="#5a6440" stroke="#5a6440"/>
<circle cx="152.9" cy="504.5" r="2.05" fill="#a01a10" stroke="#a01a10"/>
<circle cx="241.1" cy="473.5" r="2.05" fill="#a01a10" stroke="#a01a10"/>
<circle cx="163.9" cy="476.7" r="2.05" fill="#5b2a9f" stroke="#5b2a9f"/>
<circle cx="254.1" cy="490.1" r="2.05" fill="#f26a4a" stroke="#f26a4a"/>
<circle cx="103.9" cy="529.4" r="2.05" fill="#c8102e" stroke="#c8102e"/>
<circle cx="182.3" cy="463.8" r="2.05" fill="#f26a4a" stroke="#f26a4a"/>
<circle cx="250.9" cy="454.8" r="2.05" fill="#a01a10" stroke="#a01a10"/>
<circle cx="138.8" cy="474.4" r="2.05" fill="#c8102e" stroke="#c8102e"/>
<circle cx="157.8" cy="482.2" r="2.05" fill="#f5b0b0" stroke="#f5b0b0"/>
<circle cx="182.3" cy="433.1" r="2.05" fill="#c8102e" stroke="#c8102e"/>
<circle cx="123.5" cy="488.9" r="2.05" fill="#a01a10" stroke="#a01a10"/>
<circle cx="186.9" cy="478.8" r="2.05" fill="#8e5a84" stroke="#8e5a84"/>
<circle cx="181.1" cy="440.6" r="2.05" fill="#f5b0b0" stroke="#f5b0b0"/>
<circle cx="248.1" cy="447.0" r="2.05" fill="#7a7a7a" stroke="#7a7a7a"/>
<circle cx="156.3" cy="475.8" r="2.05" fill="#9aa020" stroke="#9aa020"/>
<circle cx="182.3" cy="447.9" r="2.05" fill="#f26a4a" stroke="#f26a4a"/>
<circle cx="248.7" cy="453.9" r="2.05" fill="#f26a4a" stroke="#f26a4a"/>
<circle cx="190.1" cy="455.2" r="2.05" fill="#5b2a9f" stroke="#5b2a9f"/>
<circle cx="145.4" cy="468.1" r="2.05" fill="#2a64a8" stroke="#2a64a8"/>
<circle cx="133.3" cy="489.3" r="2.05" fill="#945a20" stroke="#945a20"/>
<circle cx="139.4" cy="457.7" r="2.05" fill="#5a6440" stroke="#5a6440"/>
<circle cx="164.5" cy="466.4" r="2.05" fill="#7a7a7a" stroke="#7a7a7a"/>
<circle cx="253.9" cy="471.0" r="2.05" fill="#f26a4a" stroke="#f26a4a"/>
<circle cx="149.3" cy="482.8" r="2.05" fill="#945a20" stroke="#945a20"/>
<circle cx="252.9" cy="441.0" r="2.05" fill="#7a7a7a" stroke="#7a7a7a"/>
<circle cx="113.7" cy="501.3" r="2.05" fill="#7a7a7a" stroke="#7a7a7a"/>
<circle cx="144.8" cy="471.1" r="2.05" fill="#f5b0b0" stroke="#f5b0b0"/>
<circle cx="136.6" cy="462.9" r="2.05" fill="#f07818" stroke="#f07818"/>
<circle cx="130.2" cy="475.6" r="2.05" fill="#7a7a7a" stroke="#7a7a7a"/>
<circle cx="132.9" cy="497.5" r="2.05" fill="#7a7a7a" stroke="#7a7a7a"/>
<circle cx="201.9" cy="453.5" r="2.05" fill="#5a6440" stroke="#5a6440"/>
<circle cx="211.6" cy="447.4" r="2.05" fill="#f26a4a" stroke="#f26a4a"/>
<circle cx="211.7" cy="448.5" r="2.05" fill="#5a6440" stroke="#5a6440"/>
<circle cx="208.1" cy="437.5" r="2.05" fill="#2a64a8" stroke="#2a64a8"/>
<circle cx="240.2" cy="452.0" r="2.05" fill="#7a7a7a" stroke="#7a7a7a"/>
<circle cx="255.0" cy="443.5" r="2.05" fill="#f07818" stroke="#f07818"/>
<circle cx="143.2" cy="447.6" r="2.05" fill="#945a20" stroke="#945a20"/>
<circle cx="234.7" cy="462.9" r="2.05" fill="#f26a4a" stroke="#f26a4a"/>
<circle cx="162.7" cy="442.4" r="2.05" fill="#f07818" stroke="#f07818"/>
<circle cx="129.6" cy="451.7" r="2.05" fill="#f5b0b0" stroke="#f5b0b0"/>
<circle cx="223.0" cy="448.1" r="2.05" fill="#7a7a7a" stroke="#7a7a7a"/>
<circle cx="143.1" cy="443.8" r="2.05" fill="#5b2a9f" stroke="#5b2a9f"/>
<circle cx="317.7" cy="433.0" r="2.05" fill="#f5c000" stroke="#f5c000"/>
<circle cx="241.1" cy="471.0" r="2.05" fill="#7a7a7a" stroke="#7a7a7a"/>
<circle cx="251.5" cy="438.4" r="2.05" fill="#f26a4a" stroke="#f26a4a"/>
<circle cx="124.2" cy="480.5" r="2.05" fill="#f07818" stroke="#f07818"/>
<circle cx="141.8" cy="465.9" r="2.05" fill="#f5c000" stroke="#f5c000"/>
<circle cx="126.3" cy="480.4" r="2.05" fill="#f5c000" stroke="#f5c000"/>
<circle cx="103.9" cy="480.0" r="2.05" fill="#f26a4a" stroke="#f26a4a"/>
<circle cx="250.9" cy="447.5" r="2.05" fill="#30b8c8" stroke="#30b8c8"/>
<circle cx="227.5" cy="470.2" r="2.05" fill="#5a6440" stroke="#5a6440"/>
<circle cx="148.6" cy="463.7" r="2.05" fill="#c8102e" stroke="#c8102e"/>
<circle cx="260.7" cy="443.3" r="2.05" fill="#f26a4a" stroke="#f26a4a"/>
<circle cx="225.0" cy="471.0" r="2.05" fill="#c2b0f0" stroke="#c2b0f0"/>
<circle cx="227.7" cy="466.1" r="2.05" fill="#945a20" stroke="#945a20"/>
<circle cx="136.6" cy="478.9" r="2.05" fill="#5a6440" stroke="#5a6440"/>
<circle cx="122.1" cy="497.1" r="2.05" fill="#f07818" stroke="#f07818"/>
<circle cx="252.4" cy="450.4" r="2.05" fill="#f5b0b0" stroke="#f5b0b0"/>
<circle cx="152.9" cy="454.9" r="2.05" fill="#7a7a7a" stroke="#7a7a7a"/>
<circle cx="241.1" cy="428.4" r="2.05" fill="#c8102e" stroke="#c8102e"/>
<circle cx="238.9" cy="439.4" r="2.05" fill="#c8102e" stroke="#c8102e"/>
<circle cx="129.6" cy="462.7" r="2.05" fill="#f07818" stroke="#f07818"/>
<circle cx="228.3" cy="441.8" r="2.05" fill="#c2b0f0" stroke="#c2b0f0"/>
<circle cx="231.3" cy="438.4" r="2.05" fill="#5b2a9f" stroke="#5b2a9f"/>
<circle cx="266.0" cy="459.5" r="2.05" fill="#c8102e" stroke="#c8102e"/>
<circle cx="234.0" cy="447.9" r="2.05" fill="#2a64a8" stroke="#2a64a8"/>
<circle cx="114.7" cy="489.8" r="2.05" fill="#9aa020" stroke="#9aa020"/>
<circle cx="211.7" cy="463.8" r="2.05" fill="#8e5a84" stroke="#8e5a84"/>
<circle cx="192.1" cy="471.7" r="2.05" fill="#a01a10" stroke="#a01a10"/>
<circle cx="131.8" cy="483.2" r="2.05" fill="#7a7a7a" stroke="#7a7a7a"/>
<circle cx="189.0" cy="469.3" r="2.05" fill="#a82098" stroke="#a82098"/>
<circle cx="170.2" cy="487.0" r="2.05" fill="#f5c000" stroke="#f5c000"/>
<circle cx="260.7" cy="446.5" r="2.05" fill="#7a7a7a" stroke="#7a7a7a"/>
<circle cx="120.9" cy="489.2" r="2.05" fill="#7a7a7a" stroke="#7a7a7a"/>
<circle cx="148.8" cy="469.6" r="2.05" fill="#9aa020" stroke="#9aa020"/>
<circle cx="115.2" cy="489.0" r="2.05" fill="#5a6440" stroke="#5a6440"/>
<circle cx="123.5" cy="475.3" r="2.05" fill="#2a64a8" stroke="#2a64a8"/>
<circle cx="233.2" cy="467.7" r="2.05" fill="#5b2a9f" stroke="#5b2a9f"/>
<circle cx="261.3" cy="456.1" r="2.05" fill="#5b2a9f" stroke="#5b2a9f"/>
<circle cx="170.4" cy="492.7" r="2.05" fill="#c8102e" stroke="#c8102e"/>
<circle cx="123.5" cy="520.6" r="2.05" fill="#945a20" stroke="#945a20"/>
<circle cx="147.3" cy="501.2" r="2.05" fill="#2a64a8" stroke="#2a64a8"/>
<circle cx="157.1" cy="446.3" r="2.05" fill="#c2b0f0" stroke="#c2b0f0"/>
<circle cx="192.1" cy="492.8" r="2.05" fill="#c2b0f0" stroke="#c2b0f0"/>
<circle cx="143.1" cy="464.8" r="2.05" fill="#f26a4a" stroke="#f26a4a"/>
<circle cx="161.7" cy="446.6" r="2.05" fill="#a01a10" stroke="#a01a10"/>
<circle cx="123.5" cy="493.5" r="2.05" fill="#7a7a7a" stroke="#7a7a7a"/>
<circle cx="211.7" cy="436.8" r="2.05" fill="#a01a10" stroke="#a01a10"/>
<circle cx="149.3" cy="442.7" r="2.05" fill="#7a7a7a" stroke="#7a7a7a"/>
<circle cx="149.8" cy="456.5" r="2.05" fill="#30b8c8" stroke="#30b8c8"/>
<circle cx="146.6" cy="435.1" r="2.05" fill="#5a6440" stroke="#5a6440"/>
<circle cx="172.5" cy="458.1" r="2.05" fill="#2a64a8" stroke="#2a64a8"/>
<circle cx="127.9" cy="491.8" r="2.05" fill="#f5b0b0" stroke="#f5b0b0"/>
<circle cx="123.7" cy="478.2" r="2.05" fill="#5b2a9f" stroke="#5b2a9f"/>
<circle cx="154.0" cy="477.2" r="2.05" fill="#30b8c8" stroke="#30b8c8"/>
<circle cx="202.3" cy="483.2" r="2.05" fill="#945a20" stroke="#945a20"/>
<circle cx="172.5" cy="487.2" r="2.05" fill="#30b8c8" stroke="#30b8c8"/>
<circle cx="124.1" cy="450.0" r="2.05" fill="#f5c000" stroke="#f5c000"/>
<circle cx="113.7" cy="503.8" r="2.05" fill="#30b8c8" stroke="#30b8c8"/>
<circle cx="273.2" cy="453.0" r="2.05" fill="#f5b0b0" stroke="#f5b0b0"/>
<circle cx="143.1" cy="482.1" r="2.05" fill="#f26a4a" stroke="#f26a4a"/>
<circle cx="138.9" cy="470.4" r="2.05" fill="#f26a4a" stroke="#f26a4a"/>
<circle cx="177.2" cy="470.5" r="2.05" fill="#f26a4a" stroke="#f26a4a"/>
<circle cx="201.9" cy="469.4" r="2.05" fill="#c2b0f0" stroke="#c2b0f0"/>
<circle cx="205.7" cy="481.2" r="2.05" fill="#5b2a9f" stroke="#5b2a9f"/>
<circle cx="219.4" cy="482.2" r="2.05" fill="#a01a10" stroke="#a01a10"/>
<circle cx="131.9" cy="486.6" r="2.05" fill="#a01a10" stroke="#a01a10"/>
<circle cx="123.5" cy="481.8" r="2.05" fill="#f26a4a" stroke="#f26a4a"/>
<circle cx="138.8" cy="440.6" r="2.05" fill="#f5b0b0" stroke="#f5b0b0"/>
<circle cx="192.1" cy="448.4" r="2.05" fill="#30b8c8" stroke="#30b8c8"/>
<circle cx="123.5" cy="458.2" r="2.05" fill="#f5b0b0" stroke="#f5b0b0"/>
<circle cx="135.6" cy="465.5" r="2.05" fill="#5b2a9f" stroke="#5b2a9f"/>
<circle cx="152.9" cy="471.7" r="2.05" fill="#9aa020" stroke="#9aa020"/>
<circle cx="145.0" cy="491.9" r="2.05" fill="#f26a4a" stroke="#f26a4a"/>
<circle cx="241.1" cy="457.2" r="2.05" fill="#8e5a84" stroke="#8e5a84"/>
<circle cx="152.0" cy="503.4" r="2.05" fill="#5b2a9f" stroke="#5b2a9f"/>
<circle cx="215.0" cy="465.7" r="2.05" fill="#c8102e" stroke="#c8102e"/>
<circle cx="219.7" cy="435.4" r="2.05" fill="#c8102e" stroke="#c8102e"/>
<circle cx="152.9" cy="465.2" r="2.05" fill="#c2b0f0" stroke="#c2b0f0"/>
<circle cx="172.5" cy="450.0" r="2.05" fill="#30b8c8" stroke="#30b8c8"/>
<circle cx="265.1" cy="459.5" r="2.05" fill="#30b8c8" stroke="#30b8c8"/>
<circle cx="149.0" cy="492.0" r="2.05" fill="#5a6440" stroke="#5a6440"/>
<circle cx="215.0" cy="468.4" r="2.05" fill="#f5c000" stroke="#f5c000"/>
<circle cx="192.1" cy="470.5" r="2.05" fill="#a01a10" stroke="#a01a10"/>
<circle cx="162.7" cy="450.3" r="2.05" fill="#7a7a7a" stroke="#7a7a7a"/>
<circle cx="211.6" cy="431.2" r="2.05" fill="#c8102e" stroke="#c8102e"/>
<circle cx="241.1" cy="468.5" r="2.05" fill="#40b888" stroke="#40b888"/>
<circle cx="166.1" cy="473.8" r="2.05" fill="#c2b0f0" stroke="#c2b0f0"/>
<circle cx="172.5" cy="469.5" r="2.05" fill="#f07818" stroke="#f07818"/>
<circle cx="224.9" cy="464.9" r="2.05" fill="#5b2a9f" stroke="#5b2a9f"/>
<circle cx="192.1" cy="483.5" r="2.05" fill="#f07818" stroke="#f07818"/>
<circle cx="250.9" cy="454.2" r="2.05" fill="#30b8c8" stroke="#30b8c8"/>
<circle cx="259.5" cy="448.8" r="2.05" fill="#f26a4a" stroke="#f26a4a"/>
<circle cx="203.9" cy="456.7" r="2.05" fill="#30b8c8" stroke="#30b8c8"/>
<circle cx="192.1" cy="482.9" r="2.05" fill="#c2b0f0" stroke="#c2b0f0"/>
<circle cx="241.1" cy="458.8" r="2.05" fill="#f26a4a" stroke="#f26a4a"/>
<circle cx="250.9" cy="482.3" r="2.05" fill="#c8102e" stroke="#c8102e"/>
<circle cx="236.4" cy="443.7" r="2.05" fill="#a01a10" stroke="#a01a10"/>
<circle cx="205.6" cy="478.0" r="2.05" fill="#7a7a7a" stroke="#7a7a7a"/>
<circle cx="162.7" cy="472.9" r="2.05" fill="#f26a4a" stroke="#f26a4a"/>
<circle cx="143.1" cy="478.5" r="2.05" fill="#40b888" stroke="#40b888"/>
<circle cx="250.9" cy="464.5" r="2.05" fill="#5a6440" stroke="#5a6440"/>
<circle cx="163.0" cy="484.9" r="2.05" fill="#f26a4a" stroke="#f26a4a"/>
<circle cx="157.5" cy="496.6" r="2.05" fill="#c2b0f0" stroke="#c2b0f0"/>
<circle cx="252.7" cy="428.7" r="2.05" fill="#f07818" stroke="#f07818"/>
<circle cx="264.1" cy="449.7" r="2.05" fill="#30b8c8" stroke="#30b8c8"/>
<circle cx="231.3" cy="454.4" r="2.05" fill="#f5c000" stroke="#f5c000"/>
<circle cx="123.5" cy="453.8" r="2.05" fill="#f07818" stroke="#f07818"/>
<circle cx="281.6" cy="452.5" r="2.05" fill="#f26a4a" stroke="#f26a4a"/>
<circle cx="123.5" cy="477.5" r="2.05" fill="#f26a4a" stroke="#f26a4a"/>
<circle cx="211.7" cy="461.0" r="2.05" fill="#7a7a7a" stroke="#7a7a7a"/>
<circle cx="237.3" cy="439.3" r="2.05" fill="#f26a4a" stroke="#f26a4a"/>
<circle cx="228.7" cy="451.1" r="2.05" fill="#30b8c8" stroke="#30b8c8"/>
<circle cx="143.1" cy="466.7" r="2.05" fill="#f5c000" stroke="#f5c000"/>
<circle cx="172.5" cy="471.1" r="2.05" fill="#9aa020" stroke="#9aa020"/>
<circle cx="211.7" cy="457.1" r="2.05" fill="#7a7a7a" stroke="#7a7a7a"/>
<circle cx="231.3" cy="440.6" r="2.05" fill="#f26a4a" stroke="#f26a4a"/>
<circle cx="154.2" cy="501.8" r="2.05" fill="#c2b0f0" stroke="#c2b0f0"/>
<circle cx="192.1" cy="466.2" r="2.05" fill="#c8102e" stroke="#c8102e"/>
<circle cx="227.6" cy="465.4" r="2.05" fill="#30b8c8" stroke="#30b8c8"/>
<circle cx="221.5" cy="464.5" r="2.05" fill="#f07818" stroke="#f07818"/>
<circle cx="148.2" cy="501.1" r="2.05" fill="#f26a4a" stroke="#f26a4a"/>
<circle cx="140.2" cy="460.7" r="2.05" fill="#a82098" stroke="#a82098"/>
<circle cx="122.0" cy="500.3" r="2.05" fill="#2a64a8" stroke="#2a64a8"/>
<circle cx="122.9" cy="490.0" r="2.05" fill="#f26a4a" stroke="#f26a4a"/>
<circle cx="241.1" cy="464.7" r="2.05" fill="#f5c000" stroke="#f5c000"/>
<circle cx="160.4" cy="494.6" r="2.05" fill="#f26a4a" stroke="#f26a4a"/>
<circle cx="212.4" cy="468.1" r="2.05" fill="#5b2a9f" stroke="#5b2a9f"/>
<circle cx="221.5" cy="488.2" r="2.05" fill="#a01a10" stroke="#a01a10"/>
<circle cx="239.1" cy="471.7" r="2.05" fill="#945a20" stroke="#945a20"/>
<circle cx="114.8" cy="498.9" r="2.05" fill="#8e5a84" stroke="#8e5a84"/>
<circle cx="142.7" cy="471.6" r="2.05" fill="#5a6440" stroke="#5a6440"/>
<circle cx="132.1" cy="473.7" r="2.05" fill="#c2b0f0" stroke="#c2b0f0"/>
<circle cx="262.8" cy="455.8" r="2.05" fill="#f5b0b0" stroke="#f5b0b0"/>
<circle cx="159.2" cy="436.3" r="2.05" fill="#c8102e" stroke="#c8102e"/>
<circle cx="133.3" cy="466.3" r="2.05" fill="#f07818" stroke="#f07818"/>
<circle cx="177.3" cy="485.2" r="2.05" fill="#f26a4a" stroke="#f26a4a"/>
<circle cx="250.3" cy="465.0" r="2.05" fill="#7a7a7a" stroke="#7a7a7a"/>
<circle cx="191.4" cy="474.4" r="2.05" fill="#40b888" stroke="#40b888"/>
<circle cx="152.9" cy="472.8" r="2.05" fill="#2a64a8" stroke="#2a64a8"/>
<circle cx="123.5" cy="495.2" r="2.05" fill="#f26a4a" stroke="#f26a4a"/>
<circle cx="138.9" cy="485.3" r="2.05" fill="#f5c000" stroke="#f5c000"/>
<circle cx="250.9" cy="430.2" r="2.05" fill="#945a20" stroke="#945a20"/>
<circle cx="122.4" cy="486.3" r="2.05" fill="#5a6440" stroke="#5a6440"/>
<circle cx="206.4" cy="467.3" r="2.05" fill="#f26a4a" stroke="#f26a4a"/>
<circle cx="143.1" cy="475.4" r="2.05" fill="#f07818" stroke="#f07818"/>
<circle cx="143.1" cy="474.8" r="2.05" fill="#f26a4a" stroke="#f26a4a"/>
<circle cx="172.7" cy="445.7" r="2.05" fill="#5b2a9f" stroke="#5b2a9f"/>
<circle cx="197.6" cy="456.1" r="2.05" fill="#9aa020" stroke="#9aa020"/>
<circle cx="269.1" cy="435.5" r="2.05" fill="#f26a4a" stroke="#f26a4a"/>
<circle cx="143.1" cy="519.4" r="2.05" fill="#c2b0f0" stroke="#c2b0f0"/>
<circle cx="278.5" cy="446.4" r="2.05" fill="#f26a4a" stroke="#f26a4a"/>
<circle cx="158.7" cy="452.9" r="2.05" fill="#7a7a7a" stroke="#7a7a7a"/>
<circle cx="128.2" cy="449.3" r="2.05" fill="#f26a4a" stroke="#f26a4a"/>
<circle cx="130.4" cy="476.3" r="2.05" fill="#f5c000" stroke="#f5c000"/>
<circle cx="113.7" cy="521.4" r="2.05" fill="#7a7a7a" stroke="#7a7a7a"/>
<circle cx="136.4" cy="463.4" r="2.05" fill="#f07818" stroke="#f07818"/>
<circle cx="147.4" cy="480.0" r="2.05" fill="#5a6440" stroke="#5a6440"/>
<circle cx="143.1" cy="499.0" r="2.05" fill="#5b2a9f" stroke="#5b2a9f"/>
<circle cx="152.9" cy="479.5" r="2.05" fill="#30b8c8" stroke="#30b8c8"/>
<circle cx="157.1" cy="453.2" r="2.05" fill="#40b888" stroke="#40b888"/>
<circle cx="253.1" cy="436.7" r="2.05" fill="#c8102e" stroke="#c8102e"/>
<circle cx="129.1" cy="467.4" r="2.05" fill="#c2b0f0" stroke="#c2b0f0"/>
<circle cx="201.9" cy="478.8" r="2.05" fill="#9aa020" stroke="#9aa020"/>
<circle cx="221.5" cy="421.2" r="2.05" fill="#2a64a8" stroke="#2a64a8"/>
<circle cx="157.8" cy="487.2" r="2.05" fill="#f5b0b0" stroke="#f5b0b0"/>
<circle cx="172.5" cy="468.3" r="2.05" fill="#40b888" stroke="#40b888"/>
<circle cx="172.5" cy="489.3" r="2.05" fill="#2a64a8" stroke="#2a64a8"/>
<circle cx="260.7" cy="433.7" r="2.05" fill="#f26a4a" stroke="#f26a4a"/>
<circle cx="221.5" cy="452.9" r="2.05" fill="#a01a10" stroke="#a01a10"/>
<circle cx="143.1" cy="457.8" r="2.05" fill="#f26a4a" stroke="#f26a4a"/>
<circle cx="172.5" cy="465.7" r="2.05" fill="#2a64a8" stroke="#2a64a8"/>
<circle cx="143.1" cy="472.5" r="2.05" fill="#f5c000" stroke="#f5c000"/>
<circle cx="133.3" cy="470.2" r="2.05" fill="#c2b0f0" stroke="#c2b0f0"/>
<circle cx="254.5" cy="483.9" r="2.05" fill="#f5c000" stroke="#f5c000"/>
<circle cx="201.9" cy="447.4" r="2.05" fill="#a82098" stroke="#a82098"/>
<circle cx="140.5" cy="457.8" r="2.05" fill="#f07818" stroke="#f07818"/>
<circle cx="172.5" cy="473.1" r="2.05" fill="#7a7a7a" stroke="#7a7a7a"/>
<circle cx="221.5" cy="460.0" r="2.05" fill="#f26a4a" stroke="#f26a4a"/>
<circle cx="155.5" cy="465.0" r="2.05" fill="#7a7a7a" stroke="#7a7a7a"/>
<circle cx="269.6" cy="428.5" r="2.05" fill="#f26a4a" stroke="#f26a4a"/>
<circle cx="139.7" cy="498.3" r="2.05" fill="#f5b0b0" stroke="#f5b0b0"/>
<circle cx="137.9" cy="475.5" r="2.05" fill="#30b8c8" stroke="#30b8c8"/>
<circle cx="124.2" cy="479.0" r="2.05" fill="#40b888" stroke="#40b888"/>
<circle cx="110.7" cy="494.3" r="2.05" fill="#f5b0b0" stroke="#f5b0b0"/>
<circle cx="109.4" cy="494.0" r="2.05" fill="#7a7a7a" stroke="#7a7a7a"/>
<circle cx="106.1" cy="502.1" r="2.05" fill="#5a6440" stroke="#5a6440"/>
<circle cx="125.3" cy="496.0" r="2.05" fill="#7a7a7a" stroke="#7a7a7a"/>
<circle cx="132.9" cy="493.1" r="2.05" fill="#7a7a7a" stroke="#7a7a7a"/>
<circle cx="135.4" cy="505.6" r="2.05" fill="#f5b0b0" stroke="#f5b0b0"/>
<circle cx="118.0" cy="508.8" r="2.05" fill="#5a6440" stroke="#5a6440"/>
<circle cx="140.8" cy="519.8" r="2.05" fill="#f5b0b0" stroke="#f5b0b0"/>
<circle cx="118.1" cy="488.1" r="2.05" fill="#5a6440" stroke="#5a6440"/>
<circle cx="145.2" cy="507.4" r="2.05" fill="#7a7a7a" stroke="#7a7a7a"/>
<circle cx="122.3" cy="498.5" r="2.05" fill="#40b888" stroke="#40b888"/>
<circle cx="105.5" cy="491.3" r="2.05" fill="#f5b0b0" stroke="#f5b0b0"/>
<circle cx="123.4" cy="502.5" r="2.05" fill="#40b888" stroke="#40b888"/>
<circle cx="104.8" cy="508.1" r="2.05" fill="#30b8c8" stroke="#30b8c8"/>
<circle cx="111.4" cy="499.0" r="2.05" fill="#7a7a7a" stroke="#7a7a7a"/>
<circle cx="134.0" cy="488.1" r="2.05" fill="#7a7a7a" stroke="#7a7a7a"/>
<circle cx="149.7" cy="519.4" r="2.05" fill="#7a7a7a" stroke="#7a7a7a"/>
<circle cx="147.5" cy="493.3" r="2.05" fill="#40b888" stroke="#40b888"/>
<circle cx="114.5" cy="513.7" r="2.05" fill="#5a6440" stroke="#5a6440"/>
<circle cx="151.5" cy="496.2" r="2.05" fill="#f5b0b0" stroke="#f5b0b0"/>
<circle cx="114.8" cy="503.0" r="2.05" fill="#7a7a7a" stroke="#7a7a7a"/>
<circle cx="150.8" cy="482.8" r="2.05" fill="#7a7a7a" stroke="#7a7a7a"/>
<circle cx="114.7" cy="492.3" r="2.05" fill="#7a7a7a" stroke="#7a7a7a"/>
<circle cx="118.6" cy="496.0" r="2.05" fill="#7a7a7a" stroke="#7a7a7a"/>
<circle cx="146.2" cy="502.6" r="2.05" fill="#7a7a7a" stroke="#7a7a7a"/>
<circle cx="152.3" cy="501.0" r="2.05" fill="#5a6440" stroke="#5a6440"/>
<circle cx="134.8" cy="497.6" r="2.05" fill="#5a6440" stroke="#5a6440"/>
<circle cx="137.8" cy="481.1" r="2.05" fill="#5a6440" stroke="#5a6440"/>
<circle cx="145.1" cy="492.7" r="2.05" fill="#30b8c8" stroke="#30b8c8"/>
<circle cx="134.1" cy="480.9" r="2.05" fill="#f5c000" stroke="#f5c000"/>
<circle cx="110.0" cy="511.2" r="2.05" fill="#5a6440" stroke="#5a6440"/>
<circle cx="142.3" cy="488.9" r="2.05" fill="#7a7a7a" stroke="#7a7a7a"/>
<circle cx="116.0" cy="504.8" r="2.05" fill="#5a6440" stroke="#5a6440"/>
<circle cx="128.5" cy="506.2" r="2.05" fill="#f5b0b0" stroke="#f5b0b0"/>
<circle cx="113.5" cy="516.1" r="2.05" fill="#7a7a7a" stroke="#7a7a7a"/>
<circle cx="131.1" cy="491.3" r="2.05" fill="#f26a4a" stroke="#f26a4a"/>
<circle cx="118.1" cy="493.9" r="2.05" fill="#f5c000" stroke="#f5c000"/>
<circle cx="106.5" cy="490.6" r="2.05" fill="#7a7a7a" stroke="#7a7a7a"/>
<circle cx="126.7" cy="489.9" r="2.05" fill="#40b888" stroke="#40b888"/>
<circle cx="116.3" cy="492.2" r="2.05" fill="#f26a4a" stroke="#f26a4a"/>
<circle cx="127.0" cy="513.2" r="2.05" fill="#f5c000" stroke="#f5c000"/>
<circle cx="104.2" cy="497.4" r="2.05" fill="#5a6440" stroke="#5a6440"/>
<circle cx="132.3" cy="484.6" r="2.05" fill="#7a7a7a" stroke="#7a7a7a"/>
<circle cx="131.8" cy="512.9" r="2.05" fill="#7a7a7a" stroke="#7a7a7a"/>
<circle cx="108.2" cy="504.0" r="2.05" fill="#f5c000" stroke="#f5c000"/>
<circle cx="138.5" cy="488.7" r="2.05" fill="#f26a4a" stroke="#f26a4a"/>
<circle cx="136.6" cy="513.0" r="2.05" fill="#f26a4a" stroke="#f26a4a"/>
<circle cx="112.7" cy="511.7" r="2.05" fill="#40b888" stroke="#40b888"/>
<circle cx="123.7" cy="509.3" r="2.05" fill="#f26a4a" stroke="#f26a4a"/>
<circle cx="128.9" cy="509.3" r="2.05" fill="#f5b0b0" stroke="#f5b0b0"/>
<circle cx="137.6" cy="493.1" r="2.05" fill="#7a7a7a" stroke="#7a7a7a"/>
<circle cx="119.6" cy="496.4" r="2.05" fill="#f26a4a" stroke="#f26a4a"/>
<circle cx="130.7" cy="508.8" r="2.05" fill="#7a7a7a" stroke="#7a7a7a"/>
<circle cx="143.5" cy="494.8" r="2.05" fill="#7a7a7a" stroke="#7a7a7a"/>
<circle cx="142.4" cy="492.6" r="2.05" fill="#f5b0b0" stroke="#f5b0b0"/>
<circle cx="117.7" cy="486.8" r="2.05" fill="#5a6440" stroke="#5a6440"/>
<circle cx="108.4" cy="504.4" r="2.05" fill="#40b888" stroke="#40b888"/>
<circle cx="142.8" cy="496.1" r="2.05" fill="#f5b0b0" stroke="#f5b0b0"/>
<circle cx="117.8" cy="507.2" r="2.05" fill="#7a7a7a" stroke="#7a7a7a"/>
<circle cx="142.1" cy="499.8" r="2.05" fill="#7a7a7a" stroke="#7a7a7a"/>
<circle cx="118.9" cy="482.9" r="2.05" fill="#7a7a7a" stroke="#7a7a7a"/>
<circle cx="124.9" cy="503.5" r="2.05" fill="#7a7a7a" stroke="#7a7a7a"/>
<circle cx="104.7" cy="507.8" r="2.05" fill="#7a7a7a" stroke="#7a7a7a"/>
<circle cx="137.9" cy="497.8" r="2.05" fill="#40b888" stroke="#40b888"/>
<circle cx="120.0" cy="480.6" r="2.05" fill="#f26a4a" stroke="#f26a4a"/>
<circle cx="113.5" cy="501.6" r="2.05" fill="#5a6440" stroke="#5a6440"/>
<circle cx="129.0" cy="507.2" r="2.05" fill="#7a7a7a" stroke="#7a7a7a"/>
<circle cx="152.9" cy="520.4" r="2.05" fill="#5fb82a" stroke="#5fb82a"/>
<circle cx="270.5" cy="500.2" r="2.05" fill="#5fb82a" stroke="#5fb82a"/>
<circle cx="113.7" cy="511.6" r="2.05" fill="#5fb82a" stroke="#5fb82a"/>
<circle cx="250.9" cy="484.0" r="2.05" fill="#5fb82a" stroke="#5fb82a"/>
<circle cx="221.5" cy="485.9" r="2.05" fill="#5fb82a" stroke="#5fb82a"/>
<circle cx="162.7" cy="518.1" r="2.05" fill="#5fb82a" stroke="#5fb82a"/>
<circle cx="211.7" cy="490.1" r="2.05" fill="#5fb82a" stroke="#5fb82a"/>
<circle cx="172.5" cy="499.5" r="2.05" fill="#5fb82a" stroke="#5fb82a"/>
<circle cx="201.9" cy="503.6" r="2.05" fill="#5fb82a" stroke="#5fb82a"/>
<circle cx="172.5" cy="502.4" r="2.05" fill="#5fb82a" stroke="#5fb82a"/>
<circle cx="250.9" cy="487.1" r="2.05" fill="#5fb82a" stroke="#5fb82a"/>
<circle cx="182.3" cy="487.1" r="2.05" fill="#5fb82a" stroke="#5fb82a"/>
<circle cx="231.3" cy="510.1" r="2.05" fill="#5fb82a" stroke="#5fb82a"/>
<circle cx="192.1" cy="498.3" r="2.05" fill="#5fb82a" stroke="#5fb82a"/>
<circle cx="172.5" cy="509.1" r="2.05" fill="#5fb82a" stroke="#5fb82a"/>
<circle cx="270.5" cy="495.2" r="2.05" fill="#5fb82a" stroke="#5fb82a"/>
<circle cx="143.1" cy="499.7" r="2.05" fill="#5fb82a" stroke="#5fb82a"/>
<circle cx="250.9" cy="487.2" r="2.05" fill="#5fb82a" stroke="#5fb82a"/>
<circle cx="270.5" cy="503.8" r="2.05" fill="#5fb82a" stroke="#5fb82a"/>
<circle cx="241.1" cy="500.4" r="2.05" fill="#5fb82a" stroke="#5fb82a"/>
<circle cx="201.9" cy="500.8" r="2.05" fill="#5fb82a" stroke="#5fb82a"/>
<circle cx="201.9" cy="518.2" r="2.05" fill="#5fb82a" stroke="#5fb82a"/>
<circle cx="260.7" cy="485.2" r="2.05" fill="#5fb82a" stroke="#5fb82a"/>
<circle cx="172.5" cy="508.4" r="2.05" fill="#5fb82a" stroke="#5fb82a"/>
<circle cx="231.3" cy="497.1" r="2.05" fill="#5fb82a" stroke="#5fb82a"/>
<circle cx="221.5" cy="496.7" r="2.05" fill="#5fb82a" stroke="#5fb82a"/>
<circle cx="241.1" cy="478.1" r="2.05" fill="#5fb82a" stroke="#5fb82a"/>
<circle cx="182.3" cy="505.7" r="2.05" fill="#5fb82a" stroke="#5fb82a"/>
<circle cx="201.9" cy="507.0" r="2.05" fill="#5fb82a" stroke="#5fb82a"/>
<circle cx="133.3" cy="494.9" r="2.05" fill="#5fb82a" stroke="#5fb82a"/>
<circle cx="133.3" cy="518.7" r="2.05" fill="#5fb82a" stroke="#5fb82a"/>
<circle cx="133.3" cy="519.0" r="2.05" fill="#5fb82a" stroke="#5fb82a"/>
<circle cx="221.5" cy="515.0" r="2.05" fill="#5fb82a" stroke="#5fb82a"/>
<circle cx="162.7" cy="497.5" r="2.05" fill="#5fb82a" stroke="#5fb82a"/>
<circle cx="250.9" cy="493.0" r="2.05" fill="#5fb82a" stroke="#5fb82a"/>
<circle cx="133.3" cy="508.3" r="2.05" fill="#5fb82a" stroke="#5fb82a"/>
<circle cx="143.1" cy="510.1" r="2.05" fill="#5fb82a" stroke="#5fb82a"/>
<circle cx="241.1" cy="498.8" r="2.05" fill="#5fb82a" stroke="#5fb82a"/>
<circle cx="172.5" cy="515.9" r="2.05" fill="#5fb82a" stroke="#5fb82a"/>
<circle cx="152.9" cy="518.8" r="2.05" fill="#5fb82a" stroke="#5fb82a"/>
<circle cx="231.3" cy="494.2" r="2.05" fill="#5fb82a" stroke="#5fb82a"/>
<circle cx="152.9" cy="509.1" r="2.05" fill="#5fb82a" stroke="#5fb82a"/>
<circle cx="270.5" cy="475.6" r="2.05" fill="#5fb82a" stroke="#5fb82a"/>
<circle cx="152.9" cy="518.5" r="2.05" fill="#5fb82a" stroke="#5fb82a"/>
<circle cx="241.1" cy="502.5" r="2.05" fill="#5fb82a" stroke="#5fb82a"/>
<circle cx="182.3" cy="516.9" r="2.05" fill="#5fb82a" stroke="#5fb82a"/>
<circle cx="260.7" cy="479.7" r="2.05" fill="#5fb82a" stroke="#5fb82a"/>
<circle cx="162.7" cy="522.1" r="2.05" fill="#5fb82a" stroke="#5fb82a"/>
<circle cx="250.9" cy="487.6" r="2.05" fill="#5fb82a" stroke="#5fb82a"/>
<circle cx="162.7" cy="493.7" r="2.05" fill="#5fb82a" stroke="#5fb82a"/>
<circle cx="182.3" cy="507.5" r="2.05" fill="#5fb82a" stroke="#5fb82a"/>
<circle cx="201.9" cy="495.4" r="2.05" fill="#5fb82a" stroke="#5fb82a"/>
<circle cx="192.1" cy="527.2" r="2.05" fill="#5fb82a" stroke="#5fb82a"/>
<circle cx="211.7" cy="505.8" r="2.05" fill="#5fb82a" stroke="#5fb82a"/>
<circle cx="211.7" cy="519.3" r="2.05" fill="#5fb82a" stroke="#5fb82a"/>
<circle cx="152.9" cy="508.6" r="2.05" fill="#5fb82a" stroke="#5fb82a"/>
<circle cx="113.7" cy="516.2" r="2.05" fill="#5fb82a" stroke="#5fb82a"/>
<circle cx="221.5" cy="508.4" r="2.05" fill="#5fb82a" stroke="#5fb82a"/>
<circle cx="201.9" cy="493.1" r="2.05" fill="#5fb82a" stroke="#5fb82a"/>
<circle cx="192.1" cy="500.8" r="2.05" fill="#5fb82a" stroke="#5fb82a"/>
<circle cx="182.3" cy="511.6" r="2.05" fill="#5fb82a" stroke="#5fb82a"/>
<circle cx="260.7" cy="499.8" r="2.05" fill="#5fb82a" stroke="#5fb82a"/>
<circle cx="162.7" cy="524.6" r="2.05" fill="#5fb82a" stroke="#5fb82a"/>
<circle cx="250.9" cy="497.8" r="2.05" fill="#5fb82a" stroke="#5fb82a"/>
<circle cx="143.1" cy="489.3" r="2.05" fill="#5fb82a" stroke="#5fb82a"/>
<circle cx="211.7" cy="509.2" r="2.05" fill="#5fb82a" stroke="#5fb82a"/>
<circle cx="260.7" cy="489.9" r="2.05" fill="#5fb82a" stroke="#5fb82a"/>
<circle cx="143.1" cy="517.7" r="2.05" fill="#5fb82a" stroke="#5fb82a"/>
<circle cx="221.5" cy="491.7" r="2.05" fill="#5fb82a" stroke="#5fb82a"/>
<circle cx="152.9" cy="505.7" r="2.05" fill="#5fb82a" stroke="#5fb82a"/>
<circle cx="123.5" cy="517.2" r="2.05" fill="#5fb82a" stroke="#5fb82a"/>
<circle cx="172.5" cy="526.4" r="2.05" fill="#5fb82a" stroke="#5fb82a"/>
<circle cx="211.7" cy="507.1" r="2.05" fill="#5fb82a" stroke="#5fb82a"/>
<circle cx="152.9" cy="497.6" r="2.05" fill="#5fb82a" stroke="#5fb82a"/>
<circle cx="260.7" cy="497.0" r="2.05" fill="#5fb82a" stroke="#5fb82a"/>
<circle cx="103.9" cy="511.0" r="2.05" fill="#5fb82a" stroke="#5fb82a"/>
<circle cx="152.9" cy="515.5" r="2.05" fill="#5fb82a" stroke="#5fb82a"/>
<circle cx="162.7" cy="528.8" r="2.05" fill="#5fb82a" stroke="#5fb82a"/>
<circle cx="172.5" cy="502.9" r="2.05" fill="#5fb82a" stroke="#5fb82a"/>
<circle cx="162.7" cy="505.5" r="2.05" fill="#5fb82a" stroke="#5fb82a"/>
<circle cx="123.5" cy="520.9" r="2.05" fill="#5fb82a" stroke="#5fb82a"/>
<circle cx="143.1" cy="515.8" r="2.05" fill="#5fb82a" stroke="#5fb82a"/>
<circle cx="152.9" cy="507.3" r="2.05" fill="#5fb82a" stroke="#5fb82a"/>
<circle cx="211.7" cy="507.9" r="2.05" fill="#5fb82a" stroke="#5fb82a"/>
<circle cx="172.5" cy="503.8" r="2.05" fill="#5fb82a" stroke="#5fb82a"/>
<circle cx="221.5" cy="502.3" r="2.05" fill="#5fb82a" stroke="#5fb82a"/>
<circle cx="182.3" cy="531.1" r="2.05" fill="#5fb82a" stroke="#5fb82a"/>
<circle cx="162.7" cy="510.5" r="2.05" fill="#5fb82a" stroke="#5fb82a"/>
<circle cx="143.1" cy="518.2" r="2.05" fill="#5fb82a" stroke="#5fb82a"/>
<circle cx="152.9" cy="519.3" r="2.05" fill="#5fb82a" stroke="#5fb82a"/>
<circle cx="250.9" cy="491.5" r="2.05" fill="#5fb82a" stroke="#5fb82a"/>
<circle cx="182.3" cy="511.2" r="2.05" fill="#5fb82a" stroke="#5fb82a"/>
<circle cx="162.7" cy="503.2" r="2.05" fill="#5fb82a" stroke="#5fb82a"/>
<circle cx="152.9" cy="498.8" r="2.05" fill="#5fb82a" stroke="#5fb82a"/>
<circle cx="241.1" cy="495.7" r="2.05" fill="#5fb82a" stroke="#5fb82a"/>
<circle cx="211.7" cy="518.1" r="2.05" fill="#5fb82a" stroke="#5fb82a"/>
<circle cx="211.7" cy="509.4" r="2.05" fill="#5fb82a" stroke="#5fb82a"/>
<circle cx="231.3" cy="489.0" r="2.05" fill="#5fb82a" stroke="#5fb82a"/>
<circle cx="152.9" cy="513.1" r="2.05" fill="#5fb82a" stroke="#5fb82a"/>
<circle cx="221.5" cy="508.7" r="2.05" fill="#5fb82a" stroke="#5fb82a"/>
<circle cx="133.3" cy="514.2" r="2.05" fill="#5fb82a" stroke="#5fb82a"/>
<circle cx="211.7" cy="496.3" r="2.05" fill="#5fb82a" stroke="#5fb82a"/>
<circle cx="162.7" cy="506.1" r="2.05" fill="#5fb82a" stroke="#5fb82a"/>
<circle cx="211.7" cy="494.7" r="2.05" fill="#5fb82a" stroke="#5fb82a"/>
<circle cx="152.9" cy="519.1" r="2.05" fill="#5fb82a" stroke="#5fb82a"/>
<circle cx="162.7" cy="511.8" r="2.05" fill="#5fb82a" stroke="#5fb82a"/>
<circle cx="211.7" cy="504.3" r="2.05" fill="#5fb82a" stroke="#5fb82a"/>
<circle cx="260.7" cy="494.5" r="2.05" fill="#5fb82a" stroke="#5fb82a"/>
<circle cx="162.7" cy="531.2" r="2.05" fill="#5fb82a" stroke="#5fb82a"/>
<circle cx="143.1" cy="514.3" r="2.05" fill="#5fb82a" stroke="#5fb82a"/>
<circle cx="244.0" cy="339.7" r="2.05" fill="#8e5a84" stroke="#8e5a84"/>
<circle cx="241.0" cy="374.7" r="2.05" fill="#8e5a84" stroke="#8e5a84"/>
<circle cx="260.3" cy="404.5" r="2.05" fill="#8e5a84" stroke="#8e5a84"/>
<circle cx="270.8" cy="411.2" r="2.05" fill="#8e5a84" stroke="#8e5a84"/>
<circle cx="221.2" cy="418.3" r="2.05" fill="#8e5a84" stroke="#8e5a84"/>
<circle cx="133.0" cy="414.2" r="2.05" fill="#f5b0b0" stroke="#f5b0b0"/>
<circle cx="143.0" cy="425.3" r="2.05" fill="#945a20" stroke="#945a20"/>
<circle cx="109.1" cy="441.0" r="2.05" fill="#9aa020" stroke="#9aa020"/>
<circle cx="232.0" cy="426.1" r="2.05" fill="#8e5a84" stroke="#8e5a84"/>
<circle cx="237.3" cy="426.1" r="2.05" fill="#f5c000" stroke="#f5c000"/>
<circle cx="251.4" cy="429.8" r="2.05" fill="#7a7a7a" stroke="#7a7a7a"/>
<circle cx="262.2" cy="426.1" r="2.05" fill="#f5b0b0" stroke="#f5b0b0"/>
<circle cx="277.5" cy="430.6" r="2.05" fill="#f5b0b0" stroke="#f5b0b0"/>
<circle cx="299.4" cy="432.8" r="2.05" fill="#945a20" stroke="#945a20"/>
<circle cx="340.8" cy="429.8" r="2.05" fill="#f5b0b0" stroke="#f5b0b0"/>
<circle cx="338.6" cy="434.3" r="2.05" fill="#f26a4a" stroke="#f26a4a"/>
<circle cx="191.8" cy="432.8" r="2.05" fill="#9aa020" stroke="#9aa020"/>
<circle cx="151.6" cy="429.8" r="2.05" fill="#7a7a7a" stroke="#7a7a7a"/>
<circle cx="147.1" cy="434.3" r="2.05" fill="#5b2a9f" stroke="#5b2a9f"/>
<circle cx="162.8" cy="435.0" r="2.05" fill="#8e5a84" stroke="#8e5a84"/>
<circle cx="241.0" cy="432.8" r="2.05" fill="#945a20" stroke="#945a20"/>
<circle cx="260.3" cy="438.0" r="2.05" fill="#f07818" stroke="#f07818"/>
<circle cx="280.0" cy="441.7" r="2.05" fill="#f26a4a" stroke="#f26a4a"/>
<circle cx="289.4" cy="444.7" r="2.05" fill="#c8102e" stroke="#c8102e"/>
<circle cx="309.7" cy="452.5" r="2.05" fill="#f5c000" stroke="#f5c000"/>
<circle cx="319.3" cy="451.6" r="2.05" fill="#c8102e" stroke="#c8102e"/>
<circle cx="319.3" cy="462.0" r="2.05" fill="#c8102e" stroke="#c8102e"/>
<circle cx="319.3" cy="464.8" r="2.05" fill="#c8102e" stroke="#c8102e"/>
<circle cx="328.8" cy="450.5" r="2.05" fill="#c8102e" stroke="#c8102e"/>
<circle cx="328.8" cy="459.3" r="2.05" fill="#c8102e" stroke="#c8102e"/>
<circle cx="328.8" cy="466.2" r="2.05" fill="#5a6440" stroke="#5a6440"/>
<circle cx="339.0" cy="452.5" r="2.05" fill="#c8102e" stroke="#c8102e"/>
<circle cx="348.6" cy="453.3" r="2.05" fill="#c8102e" stroke="#c8102e"/>
<circle cx="348.6" cy="460.1" r="2.05" fill="#c8102e" stroke="#c8102e"/>
<circle cx="348.6" cy="466.2" r="2.05" fill="#c2b0f0" stroke="#c2b0f0"/>
<circle cx="339.0" cy="460.1" r="2.05" fill="#c2b0f0" stroke="#c2b0f0"/>
<circle cx="339.0" cy="468.9" r="2.05" fill="#c2b0f0" stroke="#c2b0f0"/>
<circle cx="339.8" cy="471.6" r="2.05" fill="#30b8c8" stroke="#30b8c8"/>
<circle cx="309.7" cy="466.2" r="2.05" fill="#c2b0f0" stroke="#c2b0f0"/>
<circle cx="309.7" cy="468.9" r="2.05" fill="#c2b0f0" stroke="#c2b0f0"/>
<circle cx="299.5" cy="453.8" r="2.05" fill="#c8102e" stroke="#c8102e"/>
<circle cx="299.5" cy="464.2" r="2.05" fill="#5a6440" stroke="#5a6440"/>
<circle cx="299.5" cy="469.7" r="2.05" fill="#c2b0f0" stroke="#c2b0f0"/>
<circle cx="299.5" cy="485.3" r="2.05" fill="#5fb82a" stroke="#5fb82a"/>
<circle cx="309.7" cy="475.8" r="2.05" fill="#5fb82a" stroke="#5fb82a"/>
<circle cx="309.7" cy="486.2" r="2.05" fill="#30b8c8" stroke="#30b8c8"/>
<circle cx="348.6" cy="484.0" r="2.05" fill="#5fb82a" stroke="#5fb82a"/>
<circle cx="299.5" cy="511.9" r="2.05" fill="#c2b0f0" stroke="#c2b0f0"/>
<circle cx="289.1" cy="453.8" r="2.05" fill="#f26a4a" stroke="#f26a4a"/>
<circle cx="289.9" cy="448.4" r="2.05" fill="#c8102e" stroke="#c8102e"/>
<circle cx="280.1" cy="444.2" r="2.05" fill="#f07818" stroke="#f07818"/>
<circle cx="285.0" cy="466.2" r="2.05" fill="#f26a4a" stroke="#f26a4a"/>
<circle cx="289.1" cy="466.2" r="2.05" fill="#c2b0f0" stroke="#c2b0f0"/>
<circle cx="280.1" cy="466.2" r="2.05" fill="#5a6440" stroke="#5a6440"/>
<circle cx="280.1" cy="471.6" r="2.05" fill="#5a6440" stroke="#5a6440"/>
<circle cx="280.1" cy="452.5" r="2.05" fill="#9aa020" stroke="#9aa020"/>
<circle cx="270.5" cy="485.3" r="2.05" fill="#5fb82a" stroke="#5fb82a"/>
<circle cx="270.5" cy="489.5" r="2.05" fill="#5fb82a" stroke="#5fb82a"/>
<circle cx="270.5" cy="471.6" r="2.05" fill="#a82098" stroke="#a82098"/>
<circle cx="240.6" cy="518.2" r="2.05" fill="#f26a4a" stroke="#f26a4a"/>
<circle cx="240.6" cy="541.5" r="2.05" fill="#c2b0f0" stroke="#c2b0f0"/>
<circle cx="241.2" cy="543.7" r="2.05" fill="#c2b0f0" stroke="#c2b0f0"/>
<circle cx="240.6" cy="561.2" r="2.05" fill="#5fb82a" stroke="#5fb82a"/>
<circle cx="250.8" cy="514.1" r="2.05" fill="#f07818" stroke="#f07818"/>
<circle cx="250.8" cy="508.6" r="2.05" fill="#5fb82a" stroke="#5fb82a"/>
<circle cx="250.8" cy="500.4" r="2.05" fill="#5fb82a" stroke="#5fb82a"/>
<circle cx="250.8" cy="492.2" r="2.05" fill="#5fb82a" stroke="#5fb82a"/>
<circle cx="240.6" cy="496.3" r="2.05" fill="#5fb82a" stroke="#5fb82a"/>
<circle cx="240.6" cy="501.8" r="2.05" fill="#5fb82a" stroke="#5fb82a"/>
<circle cx="231.6" cy="498.2" r="2.05" fill="#30b8c8" stroke="#30b8c8"/>
<circle cx="240.6" cy="488.1" r="2.05" fill="#5fb82a" stroke="#5fb82a"/>
<circle cx="258.4" cy="490.8" r="2.05" fill="#f26a4a" stroke="#f26a4a"/>
<circle cx="122.1" cy="560.7" r="2.05" fill="#7a7a7a" stroke="#7a7a7a"/>
<circle cx="124.3" cy="568.1" r="2.05" fill="#30b8c8" stroke="#30b8c8"/>
<circle cx="152.8" cy="561.2" r="2.05" fill="#c2b0f0" stroke="#c2b0f0"/>
<circle cx="176.9" cy="542.9" r="2.05" fill="#f26a4a" stroke="#f26a4a"/>
<circle cx="203.8" cy="542.9" r="2.05" fill="#f26a4a" stroke="#f26a4a"/>
<circle cx="207.1" cy="542.9" r="2.05" fill="#945a20" stroke="#945a20"/>
<circle cx="211.5" cy="521.8" r="2.05" fill="#c2b0f0" stroke="#c2b0f0"/>
<circle cx="182.4" cy="529.2" r="2.05" fill="#5fb82a" stroke="#5fb82a"/>
<circle cx="182.4" cy="521.0" r="2.05" fill="#5a6440" stroke="#5a6440"/>
<circle cx="127.6" cy="527.3" r="2.05" fill="#7a7a7a" stroke="#7a7a7a"/>
<circle cx="119.4" cy="525.1" r="2.05" fill="#7a7a7a" stroke="#7a7a7a"/>
<circle cx="113.9" cy="526.4" r="2.05" fill="#7a7a7a" stroke="#7a7a7a"/>
<circle cx="113.4" cy="522.3" r="2.05" fill="#7a7a7a" stroke="#7a7a7a"/>
<circle cx="104.3" cy="516.8" r="2.05" fill="#40b888" stroke="#40b888"/>
</g>
<g clip-path="url(#cD)" fill-opacity="0.65" stroke-opacity="0.65" stroke-width="0.75">
<circle cx="633.0" cy="454.2" r="2.05" fill="#f26a4a" stroke="#f26a4a"/>
<circle cx="613.7" cy="463.2" r="2.05" fill="#7a7a7a" stroke="#7a7a7a"/>
<circle cx="584.7" cy="476.4" r="2.05" fill="#2a64a8" stroke="#2a64a8"/>
<circle cx="478.6" cy="521.5" r="2.05" fill="#f26a4a" stroke="#f26a4a"/>
<circle cx="497.9" cy="498.4" r="2.05" fill="#5b2a9f" stroke="#5b2a9f"/>
<circle cx="507.5" cy="482.8" r="2.05" fill="#f07818" stroke="#f07818"/>
<circle cx="517.2" cy="485.5" r="2.05" fill="#a82098" stroke="#a82098"/>
<circle cx="575.1" cy="470.0" r="2.05" fill="#f26a4a" stroke="#f26a4a"/>
<circle cx="615.5" cy="453.1" r="2.05" fill="#f26a4a" stroke="#f26a4a"/>
<circle cx="499.9" cy="482.7" r="2.05" fill="#9aa020" stroke="#9aa020"/>
<circle cx="613.7" cy="459.9" r="2.05" fill="#a01a10" stroke="#a01a10"/>
<circle cx="546.1" cy="467.3" r="2.05" fill="#9aa020" stroke="#9aa020"/>
<circle cx="584.7" cy="466.6" r="2.05" fill="#f26a4a" stroke="#f26a4a"/>
<circle cx="526.8" cy="480.6" r="2.05" fill="#c2b0f0" stroke="#c2b0f0"/>
<circle cx="526.8" cy="473.6" r="2.05" fill="#30b8c8" stroke="#30b8c8"/>
<circle cx="594.4" cy="491.5" r="2.05" fill="#2a64a8" stroke="#2a64a8"/>
<circle cx="604.0" cy="448.1" r="2.05" fill="#5a6440" stroke="#5a6440"/>
<circle cx="660.8" cy="472.9" r="2.05" fill="#f26a4a" stroke="#f26a4a"/>
<circle cx="584.7" cy="457.5" r="2.05" fill="#8e5a84" stroke="#8e5a84"/>
<circle cx="561.0" cy="473.5" r="2.05" fill="#9aa020" stroke="#9aa020"/>
<circle cx="536.5" cy="462.8" r="2.05" fill="#30b8c8" stroke="#30b8c8"/>
<circle cx="613.8" cy="463.2" r="2.05" fill="#7a7a7a" stroke="#7a7a7a"/>
<circle cx="541.3" cy="490.5" r="2.05" fill="#a01a10" stroke="#a01a10"/>
<circle cx="549.6" cy="460.8" r="2.05" fill="#a01a10" stroke="#a01a10"/>
<circle cx="497.9" cy="487.5" r="2.05" fill="#f5b0b0" stroke="#f5b0b0"/>
<circle cx="509.5" cy="481.7" r="2.05" fill="#40b888" stroke="#40b888"/>
<circle cx="497.9" cy="488.9" r="2.05" fill="#c8102e" stroke="#c8102e"/>
<circle cx="633.0" cy="446.1" r="2.05" fill="#f07818" stroke="#f07818"/>
<circle cx="468.9" cy="493.1" r="2.05" fill="#f07818" stroke="#f07818"/>
<circle cx="575.1" cy="467.8" r="2.05" fill="#7a7a7a" stroke="#7a7a7a"/>
<circle cx="510.5" cy="504.8" r="2.05" fill="#9aa020" stroke="#9aa020"/>
<circle cx="503.6" cy="491.9" r="2.05" fill="#f5b0b0" stroke="#f5b0b0"/>
<circle cx="567.8" cy="470.8" r="2.05" fill="#945a20" stroke="#945a20"/>
<circle cx="598.6" cy="441.5" r="2.05" fill="#c8102e" stroke="#c8102e"/>
<circle cx="613.7" cy="458.3" r="2.05" fill="#5b2a9f" stroke="#5b2a9f"/>
<circle cx="582.3" cy="470.9" r="2.05" fill="#f07818" stroke="#f07818"/>
<circle cx="613.6" cy="447.0" r="2.05" fill="#30b8c8" stroke="#30b8c8"/>
<circle cx="575.1" cy="472.5" r="2.05" fill="#945a20" stroke="#945a20"/>
<circle cx="575.1" cy="471.3" r="2.05" fill="#5a6440" stroke="#5a6440"/>
<circle cx="546.1" cy="474.2" r="2.05" fill="#c2b0f0" stroke="#c2b0f0"/>
<circle cx="530.8" cy="500.2" r="2.05" fill="#f07818" stroke="#f07818"/>
<circle cx="604.0" cy="452.1" r="2.05" fill="#f5b0b0" stroke="#f5b0b0"/>
<circle cx="501.9" cy="481.3" r="2.05" fill="#2a64a8" stroke="#2a64a8"/>
<circle cx="624.6" cy="465.5" r="2.05" fill="#9aa020" stroke="#9aa020"/>
<circle cx="480.5" cy="515.4" r="2.05" fill="#c8102e" stroke="#c8102e"/>
<circle cx="526.8" cy="477.0" r="2.05" fill="#c2b0f0" stroke="#c2b0f0"/>
<circle cx="615.5" cy="443.8" r="2.05" fill="#7a7a7a" stroke="#7a7a7a"/>
<circle cx="525.4" cy="489.2" r="2.05" fill="#945a20" stroke="#945a20"/>
<circle cx="546.1" cy="491.2" r="2.05" fill="#c8102e" stroke="#c8102e"/>
<circle cx="580.4" cy="464.0" r="2.05" fill="#c2b0f0" stroke="#c2b0f0"/>
<circle cx="681.2" cy="473.2" r="2.05" fill="#f26a4a" stroke="#f26a4a"/>
<circle cx="568.6" cy="503.1" r="2.05" fill="#f26a4a" stroke="#f26a4a"/>
<circle cx="555.8" cy="480.7" r="2.05" fill="#c8102e" stroke="#c8102e"/>
<circle cx="507.5" cy="493.2" r="2.05" fill="#f5c000" stroke="#f5c000"/>
<circle cx="508.4" cy="487.3" r="2.05" fill="#7a7a7a" stroke="#7a7a7a"/>
<circle cx="602.1" cy="473.5" r="2.05" fill="#8e5a84" stroke="#8e5a84"/>
<circle cx="497.9" cy="485.3" r="2.05" fill="#c2b0f0" stroke="#c2b0f0"/>
<circle cx="594.7" cy="470.3" r="2.05" fill="#c8102e" stroke="#c8102e"/>
<circle cx="556.1" cy="482.8" r="2.05" fill="#9aa020" stroke="#9aa020"/>
<circle cx="512.2" cy="489.1" r="2.05" fill="#8e5a84" stroke="#8e5a84"/>
<circle cx="489.3" cy="486.7" r="2.05" fill="#f26a4a" stroke="#f26a4a"/>
<circle cx="530.3" cy="465.9" r="2.05" fill="#7a7a7a" stroke="#7a7a7a"/>
<circle cx="511.5" cy="470.2" r="2.05" fill="#a01a10" stroke="#a01a10"/>
<circle cx="633.0" cy="450.2" r="2.05" fill="#f26a4a" stroke="#f26a4a"/>
<circle cx="536.5" cy="524.1" r="2.05" fill="#a01a10" stroke="#a01a10"/>
<circle cx="608.6" cy="478.5" r="2.05" fill="#f26a4a" stroke="#f26a4a"/>
<circle cx="497.9" cy="494.3" r="2.05" fill="#c8102e" stroke="#c8102e"/>
<circle cx="504.0" cy="483.0" r="2.05" fill="#a01a10" stroke="#a01a10"/>
<circle cx="627.3" cy="483.6" r="2.05" fill="#a01a10" stroke="#a01a10"/>
<circle cx="495.1" cy="471.9" r="2.05" fill="#f07818" stroke="#f07818"/>
<circle cx="655.8" cy="451.4" r="2.05" fill="#5a6440" stroke="#5a6440"/>
<circle cx="517.2" cy="490.4" r="2.05" fill="#7a7a7a" stroke="#7a7a7a"/>
<circle cx="584.8" cy="466.7" r="2.05" fill="#c2b0f0" stroke="#c2b0f0"/>
<circle cx="493.3" cy="497.7" r="2.05" fill="#9aa020" stroke="#9aa020"/>
<circle cx="575.1" cy="481.4" r="2.05" fill="#7a7a7a" stroke="#7a7a7a"/>
<circle cx="511.7" cy="475.7" r="2.05" fill="#f07818" stroke="#f07818"/>
<circle cx="493.3" cy="499.2" r="2.05" fill="#8e5a84" stroke="#8e5a84"/>
<circle cx="527.1" cy="499.6" r="2.05" fill="#5a6440" stroke="#5a6440"/>
<circle cx="519.9" cy="490.1" r="2.05" fill="#7a7a7a" stroke="#7a7a7a"/>
<circle cx="517.1" cy="483.3" r="2.05" fill="#30b8c8" stroke="#30b8c8"/>
<circle cx="507.5" cy="498.6" r="2.05" fill="#5a6440" stroke="#5a6440"/>
<circle cx="487.4" cy="478.9" r="2.05" fill="#f26a4a" stroke="#f26a4a"/>
<circle cx="507.5" cy="498.7" r="2.05" fill="#f26a4a" stroke="#f26a4a"/>
<circle cx="526.5" cy="455.4" r="2.05" fill="#f26a4a" stroke="#f26a4a"/>
<circle cx="607.2" cy="452.3" r="2.05" fill="#7a7a7a" stroke="#7a7a7a"/>
<circle cx="620.1" cy="475.5" r="2.05" fill="#c2b0f0" stroke="#c2b0f0"/>
<circle cx="591.7" cy="465.9" r="2.05" fill="#f5b0b0" stroke="#f5b0b0"/>
<circle cx="488.2" cy="479.7" r="2.05" fill="#a01a10" stroke="#a01a10"/>
<circle cx="623.3" cy="464.4" r="2.05" fill="#f26a4a" stroke="#f26a4a"/>
<circle cx="570.0" cy="488.4" r="2.05" fill="#5b2a9f" stroke="#5b2a9f"/>
<circle cx="575.1" cy="469.2" r="2.05" fill="#c2b0f0" stroke="#c2b0f0"/>
<circle cx="575.1" cy="443.0" r="2.05" fill="#30b8c8" stroke="#30b8c8"/>
<circle cx="572.7" cy="492.0" r="2.05" fill="#945a20" stroke="#945a20"/>
<circle cx="488.2" cy="488.4" r="2.05" fill="#7a7a7a" stroke="#7a7a7a"/>
<circle cx="690.9" cy="448.8" r="2.05" fill="#c8102e" stroke="#c8102e"/>
<circle cx="497.3" cy="491.8" r="2.05" fill="#7a7a7a" stroke="#7a7a7a"/>
<circle cx="522.8" cy="486.0" r="2.05" fill="#5b2a9f" stroke="#5b2a9f"/>
<circle cx="565.4" cy="477.0" r="2.05" fill="#40b888" stroke="#40b888"/>
<circle cx="486.3" cy="482.4" r="2.05" fill="#f26a4a" stroke="#f26a4a"/>
<circle cx="555.8" cy="466.0" r="2.05" fill="#40b888" stroke="#40b888"/>
<circle cx="536.5" cy="491.9" r="2.05" fill="#8e5a84" stroke="#8e5a84"/>
<circle cx="529.4" cy="457.6" r="2.05" fill="#7a7a7a" stroke="#7a7a7a"/>
<circle cx="604.0" cy="483.4" r="2.05" fill="#40b888" stroke="#40b888"/>
<circle cx="497.5" cy="480.7" r="2.05" fill="#40b888" stroke="#40b888"/>
<circle cx="633.0" cy="457.2" r="2.05" fill="#5a6440" stroke="#5a6440"/>
<circle cx="570.2" cy="454.9" r="2.05" fill="#f26a4a" stroke="#f26a4a"/>
<circle cx="497.9" cy="484.8" r="2.05" fill="#5a6440" stroke="#5a6440"/>
<circle cx="575.1" cy="456.0" r="2.05" fill="#7a7a7a" stroke="#7a7a7a"/>
<circle cx="592.2" cy="467.8" r="2.05" fill="#7a7a7a" stroke="#7a7a7a"/>
<circle cx="642.6" cy="444.4" r="2.05" fill="#c2b0f0" stroke="#c2b0f0"/>
<circle cx="520.1" cy="476.2" r="2.05" fill="#f26a4a" stroke="#f26a4a"/>
<circle cx="604.0" cy="435.3" r="2.05" fill="#945a20" stroke="#945a20"/>
<circle cx="526.8" cy="489.5" r="2.05" fill="#f5c000" stroke="#f5c000"/>
<circle cx="642.6" cy="441.3" r="2.05" fill="#a01a10" stroke="#a01a10"/>
<circle cx="594.4" cy="460.6" r="2.05" fill="#8e5a84" stroke="#8e5a84"/>
<circle cx="581.6" cy="467.0" r="2.05" fill="#2a64a8" stroke="#2a64a8"/>
<circle cx="575.1" cy="478.6" r="2.05" fill="#2a64a8" stroke="#2a64a8"/>
<circle cx="629.3" cy="454.2" r="2.05" fill="#40b888" stroke="#40b888"/>
<circle cx="565.4" cy="493.0" r="2.05" fill="#2a64a8" stroke="#2a64a8"/>
<circle cx="488.2" cy="515.1" r="2.05" fill="#f5c000" stroke="#f5c000"/>
<circle cx="507.5" cy="473.4" r="2.05" fill="#f26a4a" stroke="#f26a4a"/>
<circle cx="529.5" cy="500.9" r="2.05" fill="#f26a4a" stroke="#f26a4a"/>
<circle cx="513.6" cy="462.2" r="2.05" fill="#c2b0f0" stroke="#c2b0f0"/>
<circle cx="514.8" cy="485.8" r="2.05" fill="#30b8c8" stroke="#30b8c8"/>
<circle cx="557.4" cy="470.5" r="2.05" fill="#7a7a7a" stroke="#7a7a7a"/>
<circle cx="613.7" cy="462.3" r="2.05" fill="#40b888" stroke="#40b888"/>
<circle cx="478.6" cy="494.2" r="2.05" fill="#2a64a8" stroke="#2a64a8"/>
<circle cx="507.8" cy="487.2" r="2.05" fill="#f5c000" stroke="#f5c000"/>
<circle cx="564.8" cy="477.7" r="2.05" fill="#f26a4a" stroke="#f26a4a"/>
<circle cx="563.3" cy="474.6" r="2.05" fill="#5b2a9f" stroke="#5b2a9f"/>
<circle cx="534.5" cy="463.6" r="2.05" fill="#2a64a8" stroke="#2a64a8"/>
<circle cx="564.6" cy="456.8" r="2.05" fill="#5a6440" stroke="#5a6440"/>
<circle cx="575.1" cy="452.8" r="2.05" fill="#f26a4a" stroke="#f26a4a"/>
<circle cx="569.6" cy="466.5" r="2.05" fill="#7a7a7a" stroke="#7a7a7a"/>
<circle cx="497.9" cy="492.5" r="2.05" fill="#f26a4a" stroke="#f26a4a"/>
<circle cx="539.8" cy="500.7" r="2.05" fill="#30b8c8" stroke="#30b8c8"/>
<circle cx="575.1" cy="461.6" r="2.05" fill="#a01a10" stroke="#a01a10"/>
<circle cx="613.7" cy="451.6" r="2.05" fill="#f26a4a" stroke="#f26a4a"/>
<circle cx="585.1" cy="474.3" r="2.05" fill="#f5c000" stroke="#f5c000"/>
<circle cx="677.5" cy="440.1" r="2.05" fill="#8e5a84" stroke="#8e5a84"/>
<circle cx="515.1" cy="463.9" r="2.05" fill="#a01a10" stroke="#a01a10"/>
<circle cx="536.5" cy="476.6" r="2.05" fill="#f5b0b0" stroke="#f5b0b0"/>
<circle cx="546.1" cy="461.3" r="2.05" fill="#f26a4a" stroke="#f26a4a"/>
<circle cx="502.2" cy="482.5" r="2.05" fill="#7a7a7a" stroke="#7a7a7a"/>
<circle cx="517.2" cy="505.7" r="2.05" fill="#f5b0b0" stroke="#f5b0b0"/>
<circle cx="517.2" cy="488.1" r="2.05" fill="#c8102e" stroke="#c8102e"/>
<circle cx="570.9" cy="477.1" r="2.05" fill="#5a6440" stroke="#5a6440"/>
<circle cx="534.5" cy="470.9" r="2.05" fill="#c8102e" stroke="#c8102e"/>
<circle cx="507.1" cy="495.6" r="2.05" fill="#f07818" stroke="#f07818"/>
<circle cx="517.0" cy="487.7" r="2.05" fill="#5b2a9f" stroke="#5b2a9f"/>
<circle cx="579.9" cy="483.1" r="2.05" fill="#c8102e" stroke="#c8102e"/>
<circle cx="536.5" cy="478.4" r="2.05" fill="#a01a10" stroke="#a01a10"/>
<circle cx="468.9" cy="503.1" r="2.05" fill="#f07818" stroke="#f07818"/>
<circle cx="617.0" cy="449.1" r="2.05" fill="#c2b0f0" stroke="#c2b0f0"/>
<circle cx="573.7" cy="459.7" r="2.05" fill="#8e5a84" stroke="#8e5a84"/>
<circle cx="519.6" cy="478.7" r="2.05" fill="#7a7a7a" stroke="#7a7a7a"/>
<circle cx="488.2" cy="492.6" r="2.05" fill="#a01a10" stroke="#a01a10"/>
<circle cx="548.0" cy="474.2" r="2.05" fill="#7a7a7a" stroke="#7a7a7a"/>
<circle cx="517.2" cy="479.9" r="2.05" fill="#f5b0b0" stroke="#f5b0b0"/>
<circle cx="533.5" cy="456.9" r="2.05" fill="#f26a4a" stroke="#f26a4a"/>
<circle cx="507.5" cy="518.0" r="2.05" fill="#7a7a7a" stroke="#7a7a7a"/>
<circle cx="558.4" cy="476.2" r="2.05" fill="#f07818" stroke="#f07818"/>
<circle cx="618.5" cy="458.1" r="2.05" fill="#2a64a8" stroke="#2a64a8"/>
<circle cx="478.6" cy="484.3" r="2.05" fill="#7a7a7a" stroke="#7a7a7a"/>
<circle cx="507.5" cy="498.6" r="2.05" fill="#f26a4a" stroke="#f26a4a"/>
<circle cx="567.5" cy="467.2" r="2.05" fill="#f5b0b0" stroke="#f5b0b0"/>
<circle cx="620.8" cy="450.0" r="2.05" fill="#30b8c8" stroke="#30b8c8"/>
<circle cx="563.6" cy="479.0" r="2.05" fill="#8e5a84" stroke="#8e5a84"/>
<circle cx="546.1" cy="502.7" r="2.05" fill="#f26a4a" stroke="#f26a4a"/>
<circle cx="613.7" cy="468.3" r="2.05" fill="#945a20" stroke="#945a20"/>
<circle cx="598.1" cy="483.0" r="2.05" fill="#30b8c8" stroke="#30b8c8"/>
<circle cx="579.4" cy="460.7" r="2.05" fill="#2a64a8" stroke="#2a64a8"/>
<circle cx="507.5" cy="495.2" r="2.05" fill="#f26a4a" stroke="#f26a4a"/>
<circle cx="575.1" cy="445.8" r="2.05" fill="#7a7a7a" stroke="#7a7a7a"/>
<circle cx="575.1" cy="468.6" r="2.05" fill="#5b2a9f" stroke="#5b2a9f"/>
<circle cx="485.3" cy="508.4" r="2.05" fill="#30b8c8" stroke="#30b8c8"/>
<circle cx="551.7" cy="482.0" r="2.05" fill="#7a7a7a" stroke="#7a7a7a"/>
<circle cx="507.5" cy="498.6" r="2.05" fill="#f5c000" stroke="#f5c000"/>
<circle cx="526.8" cy="474.2" r="2.05" fill="#945a20" stroke="#945a20"/>
<circle cx="536.5" cy="457.1" r="2.05" fill="#f07818" stroke="#f07818"/>
<circle cx="583.4" cy="472.0" r="2.05" fill="#f5b0b0" stroke="#f5b0b0"/>
<circle cx="506.1" cy="471.3" r="2.05" fill="#f26a4a" stroke="#f26a4a"/>
<circle cx="526.6" cy="492.9" r="2.05" fill="#f26a4a" stroke="#f26a4a"/>
<circle cx="497.9" cy="485.3" r="2.05" fill="#c8102e" stroke="#c8102e"/>
<circle cx="554.1" cy="442.4" r="2.05" fill="#c8102e" stroke="#c8102e"/>
<circle cx="507.3" cy="503.0" r="2.05" fill="#9aa020" stroke="#9aa020"/>
<circle cx="499.8" cy="471.2" r="2.05" fill="#40b888" stroke="#40b888"/>
<circle cx="536.5" cy="461.5" r="2.05" fill="#c2b0f0" stroke="#c2b0f0"/>
<circle cx="544.3" cy="502.6" r="2.05" fill="#f5c000" stroke="#f5c000"/>
<circle cx="534.9" cy="498.2" r="2.05" fill="#945a20" stroke="#945a20"/>
<circle cx="601.3" cy="479.3" r="2.05" fill="#7a7a7a" stroke="#7a7a7a"/>
<circle cx="517.2" cy="468.0" r="2.05" fill="#7a7a7a" stroke="#7a7a7a"/>
<circle cx="604.0" cy="471.1" r="2.05" fill="#f5b0b0" stroke="#f5b0b0"/>
<circle cx="526.8" cy="482.0" r="2.05" fill="#c8102e" stroke="#c8102e"/>
<circle cx="605.6" cy="455.0" r="2.05" fill="#a01a10" stroke="#a01a10"/>
<circle cx="571.6" cy="469.6" r="2.05" fill="#f07818" stroke="#f07818"/>
<circle cx="564.1" cy="469.5" r="2.05" fill="#f26a4a" stroke="#f26a4a"/>
<circle cx="555.8" cy="478.7" r="2.05" fill="#f5c000" stroke="#f5c000"/>
<circle cx="498.2" cy="473.7" r="2.05" fill="#f07818" stroke="#f07818"/>
<circle cx="624.7" cy="472.1" r="2.05" fill="#5b2a9f" stroke="#5b2a9f"/>
<circle cx="478.6" cy="476.7" r="2.05" fill="#30b8c8" stroke="#30b8c8"/>
<circle cx="497.9" cy="494.4" r="2.05" fill="#f26a4a" stroke="#f26a4a"/>
<circle cx="526.8" cy="490.8" r="2.05" fill="#c2b0f0" stroke="#c2b0f0"/>
<circle cx="504.4" cy="476.3" r="2.05" fill="#5b2a9f" stroke="#5b2a9f"/>
<circle cx="504.6" cy="478.9" r="2.05" fill="#f26a4a" stroke="#f26a4a"/>
<circle cx="558.9" cy="501.3" r="2.05" fill="#7a7a7a" stroke="#7a7a7a"/>
<circle cx="548.1" cy="472.6" r="2.05" fill="#c2b0f0" stroke="#c2b0f0"/>
<circle cx="604.0" cy="484.0" r="2.05" fill="#f07818" stroke="#f07818"/>
<circle cx="474.0" cy="513.5" r="2.05" fill="#9aa020" stroke="#9aa020"/>
<circle cx="565.8" cy="461.4" r="2.05" fill="#c2b0f0" stroke="#c2b0f0"/>
<circle cx="497.9" cy="501.7" r="2.05" fill="#f26a4a" stroke="#f26a4a"/>
<circle cx="488.2" cy="491.0" r="2.05" fill="#2a64a8" stroke="#2a64a8"/>
<circle cx="576.0" cy="475.8" r="2.05" fill="#c2b0f0" stroke="#c2b0f0"/>
<circle cx="514.8" cy="455.0" r="2.05" fill="#f26a4a" stroke="#f26a4a"/>
<circle cx="478.6" cy="501.4" r="2.05" fill="#c8102e" stroke="#c8102e"/>
<circle cx="484.2" cy="514.1" r="2.05" fill="#c8102e" stroke="#c8102e"/>
<circle cx="594.1" cy="482.5" r="2.05" fill="#f26a4a" stroke="#f26a4a"/>
<circle cx="555.8" cy="486.9" r="2.05" fill="#5b2a9f" stroke="#5b2a9f"/>
<circle cx="563.6" cy="471.1" r="2.05" fill="#f07818" stroke="#f07818"/>
<circle cx="546.1" cy="476.2" r="2.05" fill="#f07818" stroke="#f07818"/>
<circle cx="559.5" cy="460.1" r="2.05" fill="#7a7a7a" stroke="#7a7a7a"/>
<circle cx="491.0" cy="491.9" r="2.05" fill="#f07818" stroke="#f07818"/>
<circle cx="618.7" cy="460.7" r="2.05" fill="#f26a4a" stroke="#f26a4a"/>
<circle cx="468.9" cy="499.7" r="2.05" fill="#f07818" stroke="#f07818"/>
<circle cx="497.9" cy="491.6" r="2.05" fill="#c8102e" stroke="#c8102e"/>
<circle cx="578.6" cy="466.0" r="2.05" fill="#f07818" stroke="#f07818"/>
<circle cx="507.5" cy="472.5" r="2.05" fill="#7a7a7a" stroke="#7a7a7a"/>
<circle cx="525.9" cy="469.1" r="2.05" fill="#2a64a8" stroke="#2a64a8"/>
<circle cx="468.9" cy="511.8" r="2.05" fill="#f5c000" stroke="#f5c000"/>
<circle cx="525.2" cy="504.8" r="2.05" fill="#8e5a84" stroke="#8e5a84"/>
<circle cx="575.1" cy="482.0" r="2.05" fill="#9aa020" stroke="#9aa020"/>
<circle cx="507.5" cy="479.5" r="2.05" fill="#f5c000" stroke="#f5c000"/>
<circle cx="560.7" cy="508.2" r="2.05" fill="#7a7a7a" stroke="#7a7a7a"/>
<circle cx="609.9" cy="470.9" r="2.05" fill="#f5c000" stroke="#f5c000"/>
<circle cx="575.1" cy="464.5" r="2.05" fill="#5b2a9f" stroke="#5b2a9f"/>
<circle cx="611.9" cy="471.7" r="2.05" fill="#5a6440" stroke="#5a6440"/>
<circle cx="518.5" cy="497.0" r="2.05" fill="#30b8c8" stroke="#30b8c8"/>
<circle cx="622.2" cy="437.5" r="2.05" fill="#5a6440" stroke="#5a6440"/>
<circle cx="527.7" cy="460.4" r="2.05" fill="#5a6440" stroke="#5a6440"/>
<circle cx="644.8" cy="461.3" r="2.05" fill="#f26a4a" stroke="#f26a4a"/>
<circle cx="617.7" cy="444.3" r="2.05" fill="#f5b0b0" stroke="#f5b0b0"/>
<circle cx="584.7" cy="450.9" r="2.05" fill="#f26a4a" stroke="#f26a4a"/>
<circle cx="503.7" cy="501.8" r="2.05" fill="#c2b0f0" stroke="#c2b0f0"/>
<circle cx="613.7" cy="426.2" r="2.05" fill="#7a7a7a" stroke="#7a7a7a"/>
<circle cx="485.4" cy="510.4" r="2.05" fill="#f5c000" stroke="#f5c000"/>
<circle cx="584.7" cy="472.7" r="2.05" fill="#f26a4a" stroke="#f26a4a"/>
<circle cx="623.3" cy="477.0" r="2.05" fill="#7a7a7a" stroke="#7a7a7a"/>
<circle cx="488.9" cy="494.6" r="2.05" fill="#5b2a9f" stroke="#5b2a9f"/>
<circle cx="610.7" cy="482.5" r="2.05" fill="#f26a4a" stroke="#f26a4a"/>
<circle cx="513.8" cy="482.5" r="2.05" fill="#5b2a9f" stroke="#5b2a9f"/>
<circle cx="517.3" cy="466.7" r="2.05" fill="#7a7a7a" stroke="#7a7a7a"/>
<circle cx="613.7" cy="460.6" r="2.05" fill="#f26a4a" stroke="#f26a4a"/>
<circle cx="497.9" cy="493.6" r="2.05" fill="#f5b0b0" stroke="#f5b0b0"/>
<circle cx="575.4" cy="449.3" r="2.05" fill="#f26a4a" stroke="#f26a4a"/>
<circle cx="505.8" cy="497.2" r="2.05" fill="#f07818" stroke="#f07818"/>
<circle cx="594.8" cy="453.7" r="2.05" fill="#5b2a9f" stroke="#5b2a9f"/>
<circle cx="559.9" cy="478.0" r="2.05" fill="#f26a4a" stroke="#f26a4a"/>
<circle cx="519.0" cy="478.5" r="2.05" fill="#945a20" stroke="#945a20"/>
<circle cx="546.1" cy="475.9" r="2.05" fill="#a01a10" stroke="#a01a10"/>
<circle cx="500.1" cy="486.7" r="2.05" fill="#2a64a8" stroke="#2a64a8"/>
<circle cx="526.8" cy="480.8" r="2.05" fill="#f07818" stroke="#f07818"/>
<circle cx="511.0" cy="493.9" r="2.05" fill="#f5b0b0" stroke="#f5b0b0"/>
<circle cx="524.1" cy="488.5" r="2.05" fill="#5b2a9f" stroke="#5b2a9f"/>
<circle cx="585.3" cy="462.9" r="2.05" fill="#c8102e" stroke="#c8102e"/>
<circle cx="604.0" cy="467.0" r="2.05" fill="#7a7a7a" stroke="#7a7a7a"/>
<circle cx="584.7" cy="485.4" r="2.05" fill="#f26a4a" stroke="#f26a4a"/>
<circle cx="517.2" cy="491.7" r="2.05" fill="#f26a4a" stroke="#f26a4a"/>
<circle cx="552.2" cy="485.0" r="2.05" fill="#945a20" stroke="#945a20"/>
<circle cx="519.8" cy="482.2" r="2.05" fill="#5b2a9f" stroke="#5b2a9f"/>
<circle cx="559.4" cy="471.5" r="2.05" fill="#f5c000" stroke="#f5c000"/>
<circle cx="562.0" cy="472.2" r="2.05" fill="#c2b0f0" stroke="#c2b0f0"/>
<circle cx="546.1" cy="485.6" r="2.05" fill="#f26a4a" stroke="#f26a4a"/>
<circle cx="556.8" cy="474.3" r="2.05" fill="#8e5a84" stroke="#8e5a84"/>
<circle cx="555.8" cy="493.8" r="2.05" fill="#f07818" stroke="#f07818"/>
<circle cx="502.8" cy="527.1" r="2.05" fill="#f26a4a" stroke="#f26a4a"/>
<circle cx="601.7" cy="466.9" r="2.05" fill="#f26a4a" stroke="#f26a4a"/>
<circle cx="559.6" cy="497.1" r="2.05" fill="#c2b0f0" stroke="#c2b0f0"/>
<circle cx="504.2" cy="499.2" r="2.05" fill="#c8102e" stroke="#c8102e"/>
<circle cx="545.7" cy="493.5" r="2.05" fill="#5b2a9f" stroke="#5b2a9f"/>
<circle cx="576.7" cy="462.1" r="2.05" fill="#a01a10" stroke="#a01a10"/>
<circle cx="482.5" cy="515.8" r="2.05" fill="#f5c000" stroke="#f5c000"/>
<circle cx="623.3" cy="458.2" r="2.05" fill="#5a6440" stroke="#5a6440"/>
<circle cx="640.7" cy="465.7" r="2.05" fill="#c8102e" stroke="#c8102e"/>
<circle cx="539.5" cy="495.1" r="2.05" fill="#5a6440" stroke="#5a6440"/>
<circle cx="538.4" cy="500.1" r="2.05" fill="#5a6440" stroke="#5a6440"/>
<circle cx="507.5" cy="477.5" r="2.05" fill="#30b8c8" stroke="#30b8c8"/>
<circle cx="504.0" cy="480.9" r="2.05" fill="#f07818" stroke="#f07818"/>
<circle cx="517.2" cy="471.4" r="2.05" fill="#f07818" stroke="#f07818"/>
<circle cx="508.3" cy="458.3" r="2.05" fill="#c2b0f0" stroke="#c2b0f0"/>
<circle cx="584.0" cy="465.8" r="2.05" fill="#c8102e" stroke="#c8102e"/>
<circle cx="487.0" cy="493.3" r="2.05" fill="#2a64a8" stroke="#2a64a8"/>
<circle cx="517.2" cy="484.0" r="2.05" fill="#8e5a84" stroke="#8e5a84"/>
<circle cx="468.9" cy="503.4" r="2.05" fill="#7a7a7a" stroke="#7a7a7a"/>
<circle cx="584.7" cy="474.4" r="2.05" fill="#2a64a8" stroke="#2a64a8"/>
<circle cx="503.2" cy="499.4" r="2.05" fill="#7a7a7a" stroke="#7a7a7a"/>
<circle cx="610.2" cy="437.0" r="2.05" fill="#f07818" stroke="#f07818"/>
<circle cx="584.8" cy="495.5" r="2.05" fill="#c8102e" stroke="#c8102e"/>
<circle cx="520.0" cy="478.2" r="2.05" fill="#945a20" stroke="#945a20"/>
<circle cx="500.3" cy="482.7" r="2.05" fill="#f26a4a" stroke="#f26a4a"/>
<circle cx="517.2" cy="480.2" r="2.05" fill="#f07818" stroke="#f07818"/>
<circle cx="498.2" cy="503.7" r="2.05" fill="#7a7a7a" stroke="#7a7a7a"/>
<circle cx="546.1" cy="479.6" r="2.05" fill="#f5b0b0" stroke="#f5b0b0"/>
<circle cx="491.0" cy="501.4" r="2.05" fill="#f5c000" stroke="#f5c000"/>
<circle cx="487.6" cy="512.1" r="2.05" fill="#5a6440" stroke="#5a6440"/>
<circle cx="528.0" cy="481.0" r="2.05" fill="#5a6440" stroke="#5a6440"/>
<circle cx="575.1" cy="477.2" r="2.05" fill="#5b2a9f" stroke="#5b2a9f"/>
<circle cx="575.1" cy="479.2" r="2.05" fill="#f26a4a" stroke="#f26a4a"/>
<circle cx="571.7" cy="462.7" r="2.05" fill="#7a7a7a" stroke="#7a7a7a"/>
<circle cx="484.5" cy="513.3" r="2.05" fill="#f26a4a" stroke="#f26a4a"/>
<circle cx="575.1" cy="465.5" r="2.05" fill="#f5c000" stroke="#f5c000"/>
<circle cx="565.1" cy="482.0" r="2.05" fill="#f26a4a" stroke="#f26a4a"/>
<circle cx="507.5" cy="478.4" r="2.05" fill="#f26a4a" stroke="#f26a4a"/>
<circle cx="479.3" cy="499.8" r="2.05" fill="#a01a10" stroke="#a01a10"/>
<circle cx="497.9" cy="487.3" r="2.05" fill="#f07818" stroke="#f07818"/>
<circle cx="541.9" cy="491.6" r="2.05" fill="#7a7a7a" stroke="#7a7a7a"/>
<circle cx="517.2" cy="493.4" r="2.05" fill="#f26a4a" stroke="#f26a4a"/>
<circle cx="517.9" cy="494.4" r="2.05" fill="#a01a10" stroke="#a01a10"/>
<circle cx="517.2" cy="480.2" r="2.05" fill="#f26a4a" stroke="#f26a4a"/>
<circle cx="575.1" cy="461.3" r="2.05" fill="#7a7a7a" stroke="#7a7a7a"/>
<circle cx="613.7" cy="449.4" r="2.05" fill="#f5b0b0" stroke="#f5b0b0"/>
<circle cx="517.2" cy="489.6" r="2.05" fill="#c8102e" stroke="#c8102e"/>
<circle cx="504.7" cy="485.1" r="2.05" fill="#f26a4a" stroke="#f26a4a"/>
<circle cx="495.2" cy="515.0" r="2.05" fill="#f26a4a" stroke="#f26a4a"/>
<circle cx="570.7" cy="503.5" r="2.05" fill="#f26a4a" stroke="#f26a4a"/>
<circle cx="538.3" cy="490.7" r="2.05" fill="#5a6440" stroke="#5a6440"/>
<circle cx="507.5" cy="493.8" r="2.05" fill="#30b8c8" stroke="#30b8c8"/>
<circle cx="501.4" cy="510.1" r="2.05" fill="#2a64a8" stroke="#2a64a8"/>
<circle cx="516.6" cy="507.6" r="2.05" fill="#7a7a7a" stroke="#7a7a7a"/>
<circle cx="491.5" cy="487.6" r="2.05" fill="#7a7a7a" stroke="#7a7a7a"/>
<circle cx="517.2" cy="493.9" r="2.05" fill="#f07818" stroke="#f07818"/>
<circle cx="536.5" cy="502.5" r="2.05" fill="#f07818" stroke="#f07818"/>
<circle cx="508.0" cy="452.1" r="2.05" fill="#a01a10" stroke="#a01a10"/>
<circle cx="593.0" cy="466.1" r="2.05" fill="#a82098" stroke="#a82098"/>
<circle cx="546.1" cy="481.7" r="2.05" fill="#c2b0f0" stroke="#c2b0f0"/>
<circle cx="499.7" cy="480.3" r="2.05" fill="#f5c000" stroke="#f5c000"/>
<circle cx="584.2" cy="480.7" r="2.05" fill="#5a6440" stroke="#5a6440"/>
<circle cx="515.8" cy="461.0" r="2.05" fill="#c8102e" stroke="#c8102e"/>
<circle cx="627.7" cy="483.4" r="2.05" fill="#f07818" stroke="#f07818"/>
<circle cx="475.7" cy="520.7" r="2.05" fill="#5a6440" stroke="#5a6440"/>
<circle cx="517.2" cy="484.8" r="2.05" fill="#a01a10" stroke="#a01a10"/>
<circle cx="604.0" cy="477.1" r="2.05" fill="#a01a10" stroke="#a01a10"/>
<circle cx="528.0" cy="461.2" r="2.05" fill="#5b2a9f" stroke="#5b2a9f"/>
<circle cx="616.8" cy="486.4" r="2.05" fill="#f26a4a" stroke="#f26a4a"/>
<circle cx="468.9" cy="515.6" r="2.05" fill="#c8102e" stroke="#c8102e"/>
<circle cx="546.1" cy="474.1" r="2.05" fill="#f26a4a" stroke="#f26a4a"/>
<circle cx="613.7" cy="456.9" r="2.05" fill="#a01a10" stroke="#a01a10"/>
<circle cx="503.3" cy="473.6" r="2.05" fill="#c8102e" stroke="#c8102e"/>
<circle cx="522.0" cy="477.3" r="2.05" fill="#f5b0b0" stroke="#f5b0b0"/>
<circle cx="546.1" cy="446.9" r="2.05" fill="#c8102e" stroke="#c8102e"/>
<circle cx="488.2" cy="504.0" r="2.05" fill="#a01a10" stroke="#a01a10"/>
<circle cx="550.6" cy="474.2" r="2.05" fill="#8e5a84" stroke="#8e5a84"/>
<circle cx="544.9" cy="465.9" r="2.05" fill="#f5b0b0" stroke="#f5b0b0"/>
<circle cx="610.9" cy="469.8" r="2.05" fill="#7a7a7a" stroke="#7a7a7a"/>
<circle cx="520.5" cy="486.5" r="2.05" fill="#9aa020" stroke="#9aa020"/>
<circle cx="546.1" cy="484.0" r="2.05" fill="#f26a4a" stroke="#f26a4a"/>
<circle cx="611.5" cy="474.2" r="2.05" fill="#f26a4a" stroke="#f26a4a"/>
<circle cx="553.8" cy="491.8" r="2.05" fill="#5b2a9f" stroke="#5b2a9f"/>
<circle cx="509.8" cy="492.2" r="2.05" fill="#2a64a8" stroke="#2a64a8"/>
<circle cx="497.9" cy="512.7" r="2.05" fill="#945a20" stroke="#945a20"/>
<circle cx="503.9" cy="482.0" r="2.05" fill="#5a6440" stroke="#5a6440"/>
<circle cx="528.6" cy="503.1" r="2.05" fill="#7a7a7a" stroke="#7a7a7a"/>
<circle cx="616.7" cy="435.7" r="2.05" fill="#f26a4a" stroke="#f26a4a"/>
<circle cx="513.6" cy="460.2" r="2.05" fill="#945a20" stroke="#945a20"/>
<circle cx="615.6" cy="449.2" r="2.05" fill="#7a7a7a" stroke="#7a7a7a"/>
<circle cx="478.6" cy="504.6" r="2.05" fill="#7a7a7a" stroke="#7a7a7a"/>
<circle cx="509.2" cy="492.8" r="2.05" fill="#f5b0b0" stroke="#f5b0b0"/>
<circle cx="501.1" cy="472.2" r="2.05" fill="#f07818" stroke="#f07818"/>
<circle cx="494.8" cy="490.8" r="2.05" fill="#7a7a7a" stroke="#7a7a7a"/>
<circle cx="497.4" cy="483.8" r="2.05" fill="#7a7a7a" stroke="#7a7a7a"/>
<circle cx="565.4" cy="484.1" r="2.05" fill="#5a6440" stroke="#5a6440"/>
<circle cx="574.9" cy="457.5" r="2.05" fill="#f26a4a" stroke="#f26a4a"/>
<circle cx="575.1" cy="483.4" r="2.05" fill="#5a6440" stroke="#5a6440"/>
<circle cx="571.5" cy="471.5" r="2.05" fill="#2a64a8" stroke="#2a64a8"/>
<circle cx="603.1" cy="491.1" r="2.05" fill="#7a7a7a" stroke="#7a7a7a"/>
<circle cx="617.7" cy="473.4" r="2.05" fill="#f07818" stroke="#f07818"/>
<circle cx="507.6" cy="478.1" r="2.05" fill="#945a20" stroke="#945a20"/>
<circle cx="597.7" cy="474.3" r="2.05" fill="#f26a4a" stroke="#f26a4a"/>
<circle cx="526.8" cy="487.6" r="2.05" fill="#f07818" stroke="#f07818"/>
<circle cx="494.2" cy="482.8" r="2.05" fill="#f5b0b0" stroke="#f5b0b0"/>
<circle cx="586.2" cy="471.3" r="2.05" fill="#7a7a7a" stroke="#7a7a7a"/>
<circle cx="507.5" cy="467.8" r="2.05" fill="#5b2a9f" stroke="#5b2a9f"/>
<circle cx="679.5" cy="486.3" r="2.05" fill="#f5c000" stroke="#f5c000"/>
<circle cx="604.0" cy="459.0" r="2.05" fill="#7a7a7a" stroke="#7a7a7a"/>
<circle cx="614.3" cy="457.9" r="2.05" fill="#f26a4a" stroke="#f26a4a"/>
<circle cx="488.9" cy="518.7" r="2.05" fill="#f07818" stroke="#f07818"/>
<circle cx="506.2" cy="504.0" r="2.05" fill="#f5c000" stroke="#f5c000"/>
<circle cx="490.9" cy="483.8" r="2.05" fill="#f5c000" stroke="#f5c000"/>
<circle cx="468.9" cy="520.7" r="2.05" fill="#f26a4a" stroke="#f26a4a"/>
<circle cx="613.7" cy="474.0" r="2.05" fill="#30b8c8" stroke="#30b8c8"/>
<circle cx="590.7" cy="461.1" r="2.05" fill="#5a6440" stroke="#5a6440"/>
<circle cx="512.9" cy="488.7" r="2.05" fill="#c8102e" stroke="#c8102e"/>
<circle cx="623.3" cy="456.7" r="2.05" fill="#f26a4a" stroke="#f26a4a"/>
<circle cx="588.1" cy="482.0" r="2.05" fill="#c2b0f0" stroke="#c2b0f0"/>
<circle cx="590.8" cy="465.3" r="2.05" fill="#945a20" stroke="#945a20"/>
<circle cx="501.1" cy="474.3" r="2.05" fill="#5a6440" stroke="#5a6440"/>
<circle cx="486.8" cy="493.8" r="2.05" fill="#f07818" stroke="#f07818"/>
<circle cx="615.2" cy="495.3" r="2.05" fill="#f5b0b0" stroke="#f5b0b0"/>
<circle cx="517.2" cy="474.3" r="2.05" fill="#7a7a7a" stroke="#7a7a7a"/>
<circle cx="604.0" cy="466.1" r="2.05" fill="#c8102e" stroke="#c8102e"/>
<circle cx="601.9" cy="479.9" r="2.05" fill="#c8102e" stroke="#c8102e"/>
<circle cx="494.2" cy="474.5" r="2.05" fill="#f07818" stroke="#f07818"/>
<circle cx="591.4" cy="493.6" r="2.05" fill="#c2b0f0" stroke="#c2b0f0"/>
<circle cx="594.4" cy="442.7" r="2.05" fill="#5b2a9f" stroke="#5b2a9f"/>
<circle cx="628.6" cy="471.1" r="2.05" fill="#c8102e" stroke="#c8102e"/>
<circle cx="597.0" cy="446.4" r="2.05" fill="#2a64a8" stroke="#2a64a8"/>
<circle cx="479.5" cy="502.1" r="2.05" fill="#9aa020" stroke="#9aa020"/>
<circle cx="575.1" cy="490.9" r="2.05" fill="#8e5a84" stroke="#8e5a84"/>
<circle cx="555.8" cy="474.7" r="2.05" fill="#a01a10" stroke="#a01a10"/>
<circle cx="496.4" cy="487.8" r="2.05" fill="#7a7a7a" stroke="#7a7a7a"/>
<circle cx="552.7" cy="469.1" r="2.05" fill="#a82098" stroke="#a82098"/>
<circle cx="534.2" cy="465.4" r="2.05" fill="#f5c000" stroke="#f5c000"/>
<circle cx="623.3" cy="475.8" r="2.05" fill="#7a7a7a" stroke="#7a7a7a"/>
<circle cx="485.7" cy="492.0" r="2.05" fill="#7a7a7a" stroke="#7a7a7a"/>
<circle cx="513.1" cy="473.9" r="2.05" fill="#9aa020" stroke="#9aa020"/>
<circle cx="480.0" cy="505.0" r="2.05" fill="#5a6440" stroke="#5a6440"/>
<circle cx="488.2" cy="510.8" r="2.05" fill="#2a64a8" stroke="#2a64a8"/>
<circle cx="596.2" cy="481.7" r="2.05" fill="#5b2a9f" stroke="#5b2a9f"/>
<circle cx="623.9" cy="452.8" r="2.05" fill="#5b2a9f" stroke="#5b2a9f"/>
<circle cx="534.4" cy="469.0" r="2.05" fill="#c8102e" stroke="#c8102e"/>
<circle cx="488.2" cy="509.3" r="2.05" fill="#945a20" stroke="#945a20"/>
<circle cx="511.6" cy="503.0" r="2.05" fill="#2a64a8" stroke="#2a64a8"/>
<circle cx="521.3" cy="465.3" r="2.05" fill="#c2b0f0" stroke="#c2b0f0"/>
<circle cx="555.8" cy="497.6" r="2.05" fill="#c2b0f0" stroke="#c2b0f0"/>
<circle cx="507.5" cy="482.9" r="2.05" fill="#f26a4a" stroke="#f26a4a"/>
<circle cx="525.8" cy="492.9" r="2.05" fill="#a01a10" stroke="#a01a10"/>
<circle cx="488.2" cy="522.2" r="2.05" fill="#7a7a7a" stroke="#7a7a7a"/>
<circle cx="575.1" cy="470.7" r="2.05" fill="#a01a10" stroke="#a01a10"/>
<circle cx="513.6" cy="486.6" r="2.05" fill="#7a7a7a" stroke="#7a7a7a"/>
<circle cx="514.1" cy="463.9" r="2.05" fill="#30b8c8" stroke="#30b8c8"/>
<circle cx="511.0" cy="453.0" r="2.05" fill="#5a6440" stroke="#5a6440"/>
<circle cx="536.5" cy="482.3" r="2.05" fill="#2a64a8" stroke="#2a64a8"/>
<circle cx="492.6" cy="480.7" r="2.05" fill="#f5b0b0" stroke="#f5b0b0"/>
<circle cx="488.4" cy="483.2" r="2.05" fill="#5b2a9f" stroke="#5b2a9f"/>
<circle cx="518.2" cy="490.4" r="2.05" fill="#30b8c8" stroke="#30b8c8"/>
<circle cx="565.8" cy="486.2" r="2.05" fill="#945a20" stroke="#945a20"/>
<circle cx="536.5" cy="457.4" r="2.05" fill="#30b8c8" stroke="#30b8c8"/>
<circle cx="488.8" cy="502.5" r="2.05" fill="#f5c000" stroke="#f5c000"/>
<circle cx="478.6" cy="502.2" r="2.05" fill="#30b8c8" stroke="#30b8c8"/>
<circle cx="635.6" cy="465.1" r="2.05" fill="#f5b0b0" stroke="#f5b0b0"/>
<circle cx="507.5" cy="487.0" r="2.05" fill="#f26a4a" stroke="#f26a4a"/>
<circle cx="503.3" cy="496.3" r="2.05" fill="#f26a4a" stroke="#f26a4a"/>
<circle cx="541.1" cy="468.5" r="2.05" fill="#f26a4a" stroke="#f26a4a"/>
<circle cx="565.4" cy="456.8" r="2.05" fill="#c2b0f0" stroke="#c2b0f0"/>
<circle cx="569.1" cy="478.7" r="2.05" fill="#5b2a9f" stroke="#5b2a9f"/>
<circle cx="582.6" cy="490.2" r="2.05" fill="#a01a10" stroke="#a01a10"/>
<circle cx="496.4" cy="491.7" r="2.05" fill="#a01a10" stroke="#a01a10"/>
<circle cx="488.2" cy="518.5" r="2.05" fill="#f26a4a" stroke="#f26a4a"/>
<circle cx="503.3" cy="496.8" r="2.05" fill="#f5b0b0" stroke="#f5b0b0"/>
<circle cx="555.8" cy="459.0" r="2.05" fill="#30b8c8" stroke="#30b8c8"/>
<circle cx="488.2" cy="465.6" r="2.05" fill="#f5b0b0" stroke="#f5b0b0"/>
<circle cx="500.1" cy="484.8" r="2.05" fill="#5b2a9f" stroke="#5b2a9f"/>
<circle cx="517.2" cy="498.1" r="2.05" fill="#9aa020" stroke="#9aa020"/>
<circle cx="509.4" cy="474.0" r="2.05" fill="#f26a4a" stroke="#f26a4a"/>
<circle cx="604.0" cy="498.2" r="2.05" fill="#8e5a84" stroke="#8e5a84"/>
<circle cx="516.3" cy="493.2" r="2.05" fill="#5b2a9f" stroke="#5b2a9f"/>
<circle cx="578.3" cy="450.7" r="2.05" fill="#c8102e" stroke="#c8102e"/>
<circle cx="582.9" cy="460.6" r="2.05" fill="#c8102e" stroke="#c8102e"/>
<circle cx="517.2" cy="502.5" r="2.05" fill="#c2b0f0" stroke="#c2b0f0"/>
<circle cx="536.5" cy="502.8" r="2.05" fill="#30b8c8" stroke="#30b8c8"/>
<circle cx="627.6" cy="450.7" r="2.05" fill="#30b8c8" stroke="#30b8c8"/>
<circle cx="513.3" cy="484.7" r="2.05" fill="#5a6440" stroke="#5a6440"/>
<circle cx="578.3" cy="480.1" r="2.05" fill="#f5c000" stroke="#f5c000"/>
<circle cx="555.8" cy="470.4" r="2.05" fill="#a01a10" stroke="#a01a10"/>
<circle cx="526.8" cy="489.5" r="2.05" fill="#7a7a7a" stroke="#7a7a7a"/>
<circle cx="575.0" cy="499.1" r="2.05" fill="#c8102e" stroke="#c8102e"/>
<circle cx="604.0" cy="455.8" r="2.05" fill="#40b888" stroke="#40b888"/>
<circle cx="530.1" cy="489.9" r="2.05" fill="#c2b0f0" stroke="#c2b0f0"/>
<circle cx="536.5" cy="493.6" r="2.05" fill="#f07818" stroke="#f07818"/>
<circle cx="588.1" cy="488.5" r="2.05" fill="#5b2a9f" stroke="#5b2a9f"/>
<circle cx="555.8" cy="472.6" r="2.05" fill="#f07818" stroke="#f07818"/>
<circle cx="613.7" cy="476.4" r="2.05" fill="#30b8c8" stroke="#30b8c8"/>
<circle cx="622.2" cy="454.9" r="2.05" fill="#f26a4a" stroke="#f26a4a"/>
<circle cx="567.4" cy="477.6" r="2.05" fill="#30b8c8" stroke="#30b8c8"/>
<circle cx="555.8" cy="461.1" r="2.05" fill="#c2b0f0" stroke="#c2b0f0"/>
<circle cx="604.0" cy="472.4" r="2.05" fill="#f26a4a" stroke="#f26a4a"/>
<circle cx="613.7" cy="474.3" r="2.05" fill="#c8102e" stroke="#c8102e"/>
<circle cx="599.4" cy="495.2" r="2.05" fill="#a01a10" stroke="#a01a10"/>
<circle cx="569.0" cy="488.8" r="2.05" fill="#7a7a7a" stroke="#7a7a7a"/>
<circle cx="526.8" cy="471.5" r="2.05" fill="#f26a4a" stroke="#f26a4a"/>
<circle cx="507.5" cy="442.8" r="2.05" fill="#40b888" stroke="#40b888"/>
<circle cx="613.7" cy="482.6" r="2.05" fill="#5a6440" stroke="#5a6440"/>
<circle cx="527.2" cy="495.9" r="2.05" fill="#f26a4a" stroke="#f26a4a"/>
<circle cx="521.6" cy="477.8" r="2.05" fill="#c2b0f0" stroke="#c2b0f0"/>
<circle cx="615.5" cy="458.2" r="2.05" fill="#f07818" stroke="#f07818"/>
<circle cx="626.7" cy="472.1" r="2.05" fill="#30b8c8" stroke="#30b8c8"/>
<circle cx="594.4" cy="467.7" r="2.05" fill="#f5c000" stroke="#f5c000"/>
<circle cx="488.2" cy="520.1" r="2.05" fill="#f07818" stroke="#f07818"/>
<circle cx="643.9" cy="463.6" r="2.05" fill="#f26a4a" stroke="#f26a4a"/>
<circle cx="488.2" cy="485.3" r="2.05" fill="#f26a4a" stroke="#f26a4a"/>
<circle cx="575.1" cy="449.8" r="2.05" fill="#7a7a7a" stroke="#7a7a7a"/>
<circle cx="600.3" cy="470.0" r="2.05" fill="#f26a4a" stroke="#f26a4a"/>
<circle cx="591.8" cy="472.9" r="2.05" fill="#30b8c8" stroke="#30b8c8"/>
<circle cx="507.5" cy="478.9" r="2.05" fill="#f5c000" stroke="#f5c000"/>
<circle cx="536.5" cy="464.3" r="2.05" fill="#9aa020" stroke="#9aa020"/>
<circle cx="575.1" cy="465.7" r="2.05" fill="#7a7a7a" stroke="#7a7a7a"/>
<circle cx="594.4" cy="479.2" r="2.05" fill="#f26a4a" stroke="#f26a4a"/>
<circle cx="518.4" cy="478.2" r="2.05" fill="#c2b0f0" stroke="#c2b0f0"/>
<circle cx="555.8" cy="462.6" r="2.05" fill="#c8102e" stroke="#c8102e"/>
<circle cx="590.7" cy="479.4" r="2.05" fill="#30b8c8" stroke="#30b8c8"/>
<circle cx="584.7" cy="489.2" r="2.05" fill="#f07818" stroke="#f07818"/>
<circle cx="512.6" cy="477.1" r="2.05" fill="#f26a4a" stroke="#f26a4a"/>
<circle cx="504.7" cy="481.9" r="2.05" fill="#a82098" stroke="#a82098"/>
<circle cx="486.8" cy="485.0" r="2.05" fill="#2a64a8" stroke="#2a64a8"/>
<circle cx="487.6" cy="496.8" r="2.05" fill="#f26a4a" stroke="#f26a4a"/>
<circle cx="604.0" cy="475.9" r="2.05" fill="#f5c000" stroke="#f5c000"/>
<circle cx="524.6" cy="488.0" r="2.05" fill="#f26a4a" stroke="#f26a4a"/>
<circle cx="575.8" cy="486.6" r="2.05" fill="#5b2a9f" stroke="#5b2a9f"/>
<circle cx="584.7" cy="483.7" r="2.05" fill="#a01a10" stroke="#a01a10"/>
<circle cx="602.1" cy="475.1" r="2.05" fill="#945a20" stroke="#945a20"/>
<circle cx="479.7" cy="508.1" r="2.05" fill="#8e5a84" stroke="#8e5a84"/>
<circle cx="507.2" cy="469.9" r="2.05" fill="#5a6440" stroke="#5a6440"/>
<circle cx="496.7" cy="509.2" r="2.05" fill="#c2b0f0" stroke="#c2b0f0"/>
<circle cx="625.4" cy="463.6" r="2.05" fill="#f5b0b0" stroke="#f5b0b0"/>
<circle cx="523.3" cy="490.3" r="2.05" fill="#c8102e" stroke="#c8102e"/>
<circle cx="497.9" cy="470.8" r="2.05" fill="#f07818" stroke="#f07818"/>
<circle cx="541.2" cy="475.1" r="2.05" fill="#f26a4a" stroke="#f26a4a"/>
<circle cx="613.0" cy="470.4" r="2.05" fill="#7a7a7a" stroke="#7a7a7a"/>
<circle cx="555.1" cy="464.8" r="2.05" fill="#40b888" stroke="#40b888"/>
<circle cx="517.2" cy="482.3" r="2.05" fill="#2a64a8" stroke="#2a64a8"/>
<circle cx="488.2" cy="504.3" r="2.05" fill="#f26a4a" stroke="#f26a4a"/>
<circle cx="503.4" cy="466.5" r="2.05" fill="#f5c000" stroke="#f5c000"/>
<circle cx="613.7" cy="455.2" r="2.05" fill="#945a20" stroke="#945a20"/>
<circle cx="487.1" cy="474.2" r="2.05" fill="#5a6440" stroke="#5a6440"/>
<circle cx="569.8" cy="457.3" r="2.05" fill="#f26a4a" stroke="#f26a4a"/>
<circle cx="507.5" cy="474.3" r="2.05" fill="#f07818" stroke="#f07818"/>
<circle cx="507.5" cy="483.2" r="2.05" fill="#f26a4a" stroke="#f26a4a"/>
<circle cx="536.7" cy="494.6" r="2.05" fill="#5b2a9f" stroke="#5b2a9f"/>
<circle cx="561.2" cy="465.1" r="2.05" fill="#9aa020" stroke="#9aa020"/>
<circle cx="631.6" cy="460.7" r="2.05" fill="#f26a4a" stroke="#f26a4a"/>
<circle cx="507.5" cy="475.7" r="2.05" fill="#c2b0f0" stroke="#c2b0f0"/>
<circle cx="640.9" cy="460.0" r="2.05" fill="#f26a4a" stroke="#f26a4a"/>
<circle cx="522.9" cy="491.7" r="2.05" fill="#7a7a7a" stroke="#7a7a7a"/>
<circle cx="492.9" cy="508.6" r="2.05" fill="#f26a4a" stroke="#f26a4a"/>
<circle cx="495.0" cy="483.5" r="2.05" fill="#f5c000" stroke="#f5c000"/>
<circle cx="478.6" cy="483.8" r="2.05" fill="#7a7a7a" stroke="#7a7a7a"/>
<circle cx="500.9" cy="493.3" r="2.05" fill="#f07818" stroke="#f07818"/>
<circle cx="511.8" cy="477.9" r="2.05" fill="#5a6440" stroke="#5a6440"/>
<circle cx="507.5" cy="465.8" r="2.05" fill="#5b2a9f" stroke="#5b2a9f"/>
<circle cx="517.2" cy="494.8" r="2.05" fill="#30b8c8" stroke="#30b8c8"/>
<circle cx="521.3" cy="487.1" r="2.05" fill="#40b888" stroke="#40b888"/>
<circle cx="615.8" cy="480.1" r="2.05" fill="#c8102e" stroke="#c8102e"/>
<circle cx="493.7" cy="477.7" r="2.05" fill="#c2b0f0" stroke="#c2b0f0"/>
<circle cx="565.4" cy="470.5" r="2.05" fill="#9aa020" stroke="#9aa020"/>
<circle cx="584.7" cy="476.8" r="2.05" fill="#2a64a8" stroke="#2a64a8"/>
<circle cx="522.0" cy="505.2" r="2.05" fill="#f5b0b0" stroke="#f5b0b0"/>
<circle cx="536.5" cy="482.0" r="2.05" fill="#40b888" stroke="#40b888"/>
<circle cx="536.5" cy="465.7" r="2.05" fill="#2a64a8" stroke="#2a64a8"/>
<circle cx="623.3" cy="467.3" r="2.05" fill="#f26a4a" stroke="#f26a4a"/>
<circle cx="584.7" cy="476.3" r="2.05" fill="#a01a10" stroke="#a01a10"/>
<circle cx="507.5" cy="476.1" r="2.05" fill="#f26a4a" stroke="#f26a4a"/>
<circle cx="536.5" cy="496.6" r="2.05" fill="#2a64a8" stroke="#2a64a8"/>
<circle cx="507.5" cy="484.2" r="2.05" fill="#f5c000" stroke="#f5c000"/>
<circle cx="497.9" cy="483.0" r="2.05" fill="#c2b0f0" stroke="#c2b0f0"/>
<circle cx="617.2" cy="475.1" r="2.05" fill="#f5c000" stroke="#f5c000"/>
<circle cx="565.4" cy="485.5" r="2.05" fill="#a82098" stroke="#a82098"/>
<circle cx="505.0" cy="483.2" r="2.05" fill="#f07818" stroke="#f07818"/>
<circle cx="536.5" cy="480.9" r="2.05" fill="#7a7a7a" stroke="#7a7a7a"/>
<circle cx="584.7" cy="473.7" r="2.05" fill="#f26a4a" stroke="#f26a4a"/>
<circle cx="519.7" cy="479.8" r="2.05" fill="#7a7a7a" stroke="#7a7a7a"/>
<circle cx="632.1" cy="458.4" r="2.05" fill="#f26a4a" stroke="#f26a4a"/>
<circle cx="504.1" cy="461.2" r="2.05" fill="#f5b0b0" stroke="#f5b0b0"/>
<circle cx="502.4" cy="495.1" r="2.05" fill="#30b8c8" stroke="#30b8c8"/>
<circle cx="488.9" cy="512.7" r="2.05" fill="#40b888" stroke="#40b888"/>
<circle cx="475.6" cy="537.7" r="2.05" fill="#f5b0b0" stroke="#f5b0b0"/>
<circle cx="474.4" cy="530.1" r="2.05" fill="#7a7a7a" stroke="#7a7a7a"/>
<circle cx="471.1" cy="520.4" r="2.05" fill="#5a6440" stroke="#5a6440"/>
<circle cx="490.0" cy="533.8" r="2.05" fill="#7a7a7a" stroke="#7a7a7a"/>
<circle cx="497.5" cy="534.8" r="2.05" fill="#7a7a7a" stroke="#7a7a7a"/>
<circle cx="499.9" cy="504.3" r="2.05" fill="#f5b0b0" stroke="#f5b0b0"/>
<circle cx="482.8" cy="525.3" r="2.05" fill="#5a6440" stroke="#5a6440"/>
<circle cx="505.2" cy="512.3" r="2.05" fill="#f5b0b0" stroke="#f5b0b0"/>
<circle cx="482.9" cy="521.2" r="2.05" fill="#5a6440" stroke="#5a6440"/>
<circle cx="509.6" cy="512.1" r="2.05" fill="#7a7a7a" stroke="#7a7a7a"/>
<circle cx="487.0" cy="530.2" r="2.05" fill="#40b888" stroke="#40b888"/>
<circle cx="470.5" cy="526.7" r="2.05" fill="#f5b0b0" stroke="#f5b0b0"/>
<circle cx="488.1" cy="513.9" r="2.05" fill="#40b888" stroke="#40b888"/>
<circle cx="469.8" cy="520.6" r="2.05" fill="#30b8c8" stroke="#30b8c8"/>
<circle cx="476.3" cy="528.3" r="2.05" fill="#7a7a7a" stroke="#7a7a7a"/>
<circle cx="498.6" cy="510.7" r="2.05" fill="#7a7a7a" stroke="#7a7a7a"/>
<circle cx="514.0" cy="483.0" r="2.05" fill="#7a7a7a" stroke="#7a7a7a"/>
<circle cx="511.9" cy="480.7" r="2.05" fill="#40b888" stroke="#40b888"/>
<circle cx="479.4" cy="523.3" r="2.05" fill="#5a6440" stroke="#5a6440"/>
<circle cx="515.8" cy="514.2" r="2.05" fill="#f5b0b0" stroke="#f5b0b0"/>
<circle cx="479.7" cy="499.4" r="2.05" fill="#7a7a7a" stroke="#7a7a7a"/>
<circle cx="515.1" cy="502.0" r="2.05" fill="#7a7a7a" stroke="#7a7a7a"/>
<circle cx="479.5" cy="508.4" r="2.05" fill="#7a7a7a" stroke="#7a7a7a"/>
<circle cx="483.4" cy="522.9" r="2.05" fill="#7a7a7a" stroke="#7a7a7a"/>
<circle cx="510.6" cy="514.9" r="2.05" fill="#7a7a7a" stroke="#7a7a7a"/>
<circle cx="516.6" cy="530.2" r="2.05" fill="#5a6440" stroke="#5a6440"/>
<circle cx="499.3" cy="527.3" r="2.05" fill="#5a6440" stroke="#5a6440"/>
<circle cx="502.2" cy="531.1" r="2.05" fill="#5a6440" stroke="#5a6440"/>
<circle cx="509.4" cy="512.2" r="2.05" fill="#30b8c8" stroke="#30b8c8"/>
<circle cx="498.6" cy="506.2" r="2.05" fill="#f5c000" stroke="#f5c000"/>
<circle cx="474.9" cy="523.5" r="2.05" fill="#5a6440" stroke="#5a6440"/>
<circle cx="506.7" cy="487.0" r="2.05" fill="#7a7a7a" stroke="#7a7a7a"/>
<circle cx="480.8" cy="531.0" r="2.05" fill="#5a6440" stroke="#5a6440"/>
<circle cx="493.2" cy="509.2" r="2.05" fill="#f5b0b0" stroke="#f5b0b0"/>
<circle cx="478.3" cy="531.2" r="2.05" fill="#7a7a7a" stroke="#7a7a7a"/>
<circle cx="495.7" cy="520.8" r="2.05" fill="#f26a4a" stroke="#f26a4a"/>
<circle cx="482.9" cy="523.1" r="2.05" fill="#f5c000" stroke="#f5c000"/>
<circle cx="471.5" cy="532.4" r="2.05" fill="#7a7a7a" stroke="#7a7a7a"/>
<circle cx="491.4" cy="526.4" r="2.05" fill="#40b888" stroke="#40b888"/>
<circle cx="481.1" cy="507.9" r="2.05" fill="#f26a4a" stroke="#f26a4a"/>
<circle cx="491.7" cy="501.1" r="2.05" fill="#f5c000" stroke="#f5c000"/>
<circle cx="469.2" cy="498.6" r="2.05" fill="#5a6440" stroke="#5a6440"/>
<circle cx="496.9" cy="524.8" r="2.05" fill="#7a7a7a" stroke="#7a7a7a"/>
<circle cx="496.3" cy="508.6" r="2.05" fill="#7a7a7a" stroke="#7a7a7a"/>
<circle cx="473.2" cy="517.7" r="2.05" fill="#f5c000" stroke="#f5c000"/>
<circle cx="502.9" cy="501.4" r="2.05" fill="#f26a4a" stroke="#f26a4a"/>
<circle cx="501.1" cy="482.1" r="2.05" fill="#f26a4a" stroke="#f26a4a"/>
<circle cx="477.6" cy="525.3" r="2.05" fill="#40b888" stroke="#40b888"/>
<circle cx="488.4" cy="494.1" r="2.05" fill="#f26a4a" stroke="#f26a4a"/>
<circle cx="493.5" cy="526.6" r="2.05" fill="#f5b0b0" stroke="#f5b0b0"/>
<circle cx="502.1" cy="516.4" r="2.05" fill="#7a7a7a" stroke="#7a7a7a"/>
<circle cx="484.4" cy="496.5" r="2.05" fill="#f26a4a" stroke="#f26a4a"/>
<circle cx="495.3" cy="514.3" r="2.05" fill="#7a7a7a" stroke="#7a7a7a"/>
<circle cx="507.9" cy="516.5" r="2.05" fill="#7a7a7a" stroke="#7a7a7a"/>
<circle cx="506.8" cy="522.8" r="2.05" fill="#f5b0b0" stroke="#f5b0b0"/>
<circle cx="482.5" cy="504.3" r="2.05" fill="#5a6440" stroke="#5a6440"/>
<circle cx="473.4" cy="523.1" r="2.05" fill="#40b888" stroke="#40b888"/>
<circle cx="507.2" cy="536.5" r="2.05" fill="#f5b0b0" stroke="#f5b0b0"/>
<circle cx="482.6" cy="532.5" r="2.05" fill="#7a7a7a" stroke="#7a7a7a"/>
<circle cx="506.5" cy="515.4" r="2.05" fill="#7a7a7a" stroke="#7a7a7a"/>
<circle cx="483.7" cy="522.9" r="2.05" fill="#7a7a7a" stroke="#7a7a7a"/>
<circle cx="489.6" cy="519.5" r="2.05" fill="#7a7a7a" stroke="#7a7a7a"/>
<circle cx="469.7" cy="517.0" r="2.05" fill="#7a7a7a" stroke="#7a7a7a"/>
<circle cx="502.4" cy="518.0" r="2.05" fill="#40b888" stroke="#40b888"/>
<circle cx="484.8" cy="508.7" r="2.05" fill="#f26a4a" stroke="#f26a4a"/>
<circle cx="478.3" cy="514.5" r="2.05" fill="#5a6440" stroke="#5a6440"/>
<circle cx="493.6" cy="524.8" r="2.05" fill="#7a7a7a" stroke="#7a7a7a"/>
<circle cx="517.2" cy="554.8" r="2.05" fill="#5fb82a" stroke="#5fb82a"/>
<circle cx="478.6" cy="523.4" r="2.05" fill="#5fb82a" stroke="#5fb82a"/>
<circle cx="584.7" cy="513.3" r="2.05" fill="#5fb82a" stroke="#5fb82a"/>
<circle cx="526.8" cy="541.5" r="2.05" fill="#5fb82a" stroke="#5fb82a"/>
<circle cx="575.1" cy="513.1" r="2.05" fill="#5fb82a" stroke="#5fb82a"/>
<circle cx="536.5" cy="535.9" r="2.05" fill="#5fb82a" stroke="#5fb82a"/>
<circle cx="565.4" cy="519.6" r="2.05" fill="#5fb82a" stroke="#5fb82a"/>
<circle cx="536.5" cy="545.2" r="2.05" fill="#5fb82a" stroke="#5fb82a"/>
<circle cx="546.1" cy="525.2" r="2.05" fill="#5fb82a" stroke="#5fb82a"/>
<circle cx="594.4" cy="498.6" r="2.05" fill="#5fb82a" stroke="#5fb82a"/>
<circle cx="555.8" cy="529.9" r="2.05" fill="#5fb82a" stroke="#5fb82a"/>
<circle cx="536.5" cy="503.1" r="2.05" fill="#5fb82a" stroke="#5fb82a"/>
<circle cx="507.5" cy="555.7" r="2.05" fill="#5fb82a" stroke="#5fb82a"/>
<circle cx="604.0" cy="522.3" r="2.05" fill="#5fb82a" stroke="#5fb82a"/>
<circle cx="565.4" cy="534.8" r="2.05" fill="#5fb82a" stroke="#5fb82a"/>
<circle cx="565.4" cy="528.6" r="2.05" fill="#5fb82a" stroke="#5fb82a"/>
<circle cx="536.5" cy="520.6" r="2.05" fill="#5fb82a" stroke="#5fb82a"/>
<circle cx="594.4" cy="518.8" r="2.05" fill="#5fb82a" stroke="#5fb82a"/>
<circle cx="584.7" cy="524.0" r="2.05" fill="#5fb82a" stroke="#5fb82a"/>
<circle cx="604.0" cy="518.9" r="2.05" fill="#5fb82a" stroke="#5fb82a"/>
<circle cx="546.1" cy="529.6" r="2.05" fill="#5fb82a" stroke="#5fb82a"/>
<circle cx="565.4" cy="520.0" r="2.05" fill="#5fb82a" stroke="#5fb82a"/>
<circle cx="497.9" cy="540.4" r="2.05" fill="#5fb82a" stroke="#5fb82a"/>
<circle cx="497.9" cy="533.7" r="2.05" fill="#5fb82a" stroke="#5fb82a"/>
<circle cx="497.9" cy="557.9" r="2.05" fill="#5fb82a" stroke="#5fb82a"/>
<circle cx="584.7" cy="513.5" r="2.05" fill="#5fb82a" stroke="#5fb82a"/>
<circle cx="526.8" cy="511.6" r="2.05" fill="#5fb82a" stroke="#5fb82a"/>
<circle cx="497.9" cy="559.3" r="2.05" fill="#5fb82a" stroke="#5fb82a"/>
<circle cx="507.5" cy="520.6" r="2.05" fill="#5fb82a" stroke="#5fb82a"/>
<circle cx="604.0" cy="524.8" r="2.05" fill="#5fb82a" stroke="#5fb82a"/>
<circle cx="536.5" cy="573.0" r="2.05" fill="#5fb82a" stroke="#5fb82a"/>
<circle cx="517.2" cy="539.7" r="2.05" fill="#5fb82a" stroke="#5fb82a"/>
<circle cx="594.4" cy="514.1" r="2.05" fill="#5fb82a" stroke="#5fb82a"/>
<circle cx="517.2" cy="531.6" r="2.05" fill="#5fb82a" stroke="#5fb82a"/>
<circle cx="517.2" cy="528.5" r="2.05" fill="#5fb82a" stroke="#5fb82a"/>
<circle cx="604.0" cy="518.7" r="2.05" fill="#5fb82a" stroke="#5fb82a"/>
<circle cx="546.1" cy="557.7" r="2.05" fill="#5fb82a" stroke="#5fb82a"/>
<circle cx="526.8" cy="532.5" r="2.05" fill="#5fb82a" stroke="#5fb82a"/>
<circle cx="526.8" cy="548.7" r="2.05" fill="#5fb82a" stroke="#5fb82a"/>
<circle cx="546.1" cy="539.5" r="2.05" fill="#5fb82a" stroke="#5fb82a"/>
<circle cx="565.4" cy="521.4" r="2.05" fill="#5fb82a" stroke="#5fb82a"/>
<circle cx="555.8" cy="555.0" r="2.05" fill="#5fb82a" stroke="#5fb82a"/>
<circle cx="575.1" cy="551.8" r="2.05" fill="#5fb82a" stroke="#5fb82a"/>
<circle cx="575.1" cy="528.9" r="2.05" fill="#5fb82a" stroke="#5fb82a"/>
<circle cx="517.2" cy="533.4" r="2.05" fill="#5fb82a" stroke="#5fb82a"/>
<circle cx="478.6" cy="550.4" r="2.05" fill="#5fb82a" stroke="#5fb82a"/>
<circle cx="584.7" cy="554.7" r="2.05" fill="#5fb82a" stroke="#5fb82a"/>
<circle cx="565.4" cy="527.4" r="2.05" fill="#5fb82a" stroke="#5fb82a"/>
<circle cx="555.8" cy="547.2" r="2.05" fill="#5fb82a" stroke="#5fb82a"/>
<circle cx="546.1" cy="522.6" r="2.05" fill="#5fb82a" stroke="#5fb82a"/>
<circle cx="526.8" cy="531.4" r="2.05" fill="#5fb82a" stroke="#5fb82a"/>
<circle cx="507.5" cy="545.6" r="2.05" fill="#5fb82a" stroke="#5fb82a"/>
<circle cx="575.1" cy="514.8" r="2.05" fill="#5fb82a" stroke="#5fb82a"/>
<circle cx="507.5" cy="533.3" r="2.05" fill="#5fb82a" stroke="#5fb82a"/>
<circle cx="584.7" cy="506.3" r="2.05" fill="#5fb82a" stroke="#5fb82a"/>
<circle cx="517.2" cy="545.1" r="2.05" fill="#5fb82a" stroke="#5fb82a"/>
<circle cx="488.2" cy="529.9" r="2.05" fill="#5fb82a" stroke="#5fb82a"/>
<circle cx="536.5" cy="529.5" r="2.05" fill="#5fb82a" stroke="#5fb82a"/>
<circle cx="575.1" cy="539.0" r="2.05" fill="#5fb82a" stroke="#5fb82a"/>
<circle cx="517.2" cy="537.8" r="2.05" fill="#5fb82a" stroke="#5fb82a"/>
<circle cx="468.9" cy="553.2" r="2.05" fill="#5fb82a" stroke="#5fb82a"/>
<circle cx="517.2" cy="535.6" r="2.05" fill="#5fb82a" stroke="#5fb82a"/>
<circle cx="526.8" cy="520.7" r="2.05" fill="#5fb82a" stroke="#5fb82a"/>
<circle cx="536.5" cy="537.3" r="2.05" fill="#5fb82a" stroke="#5fb82a"/>
<circle cx="526.8" cy="533.2" r="2.05" fill="#5fb82a" stroke="#5fb82a"/>
<circle cx="488.2" cy="561.8" r="2.05" fill="#5fb82a" stroke="#5fb82a"/>
<circle cx="507.5" cy="537.1" r="2.05" fill="#5fb82a" stroke="#5fb82a"/>
<circle cx="517.2" cy="521.3" r="2.05" fill="#5fb82a" stroke="#5fb82a"/>
<circle cx="575.1" cy="515.0" r="2.05" fill="#5fb82a" stroke="#5fb82a"/>
<circle cx="536.5" cy="526.7" r="2.05" fill="#5fb82a" stroke="#5fb82a"/>
<circle cx="584.7" cy="531.0" r="2.05" fill="#5fb82a" stroke="#5fb82a"/>
<circle cx="546.1" cy="544.3" r="2.05" fill="#5fb82a" stroke="#5fb82a"/>
<circle cx="526.8" cy="536.2" r="2.05" fill="#5fb82a" stroke="#5fb82a"/>
<circle cx="507.5" cy="556.4" r="2.05" fill="#5fb82a" stroke="#5fb82a"/>
<circle cx="517.2" cy="553.2" r="2.05" fill="#5fb82a" stroke="#5fb82a"/>
<circle cx="546.1" cy="543.5" r="2.05" fill="#5fb82a" stroke="#5fb82a"/>
<circle cx="526.8" cy="510.9" r="2.05" fill="#5fb82a" stroke="#5fb82a"/>
<circle cx="517.2" cy="555.8" r="2.05" fill="#5fb82a" stroke="#5fb82a"/>
<circle cx="604.0" cy="514.6" r="2.05" fill="#5fb82a" stroke="#5fb82a"/>
<circle cx="575.1" cy="541.5" r="2.05" fill="#5fb82a" stroke="#5fb82a"/>
<circle cx="575.1" cy="523.5" r="2.05" fill="#5fb82a" stroke="#5fb82a"/>
<circle cx="594.4" cy="536.1" r="2.05" fill="#5fb82a" stroke="#5fb82a"/>
<circle cx="517.2" cy="536.2" r="2.05" fill="#5fb82a" stroke="#5fb82a"/>
<circle cx="584.7" cy="526.1" r="2.05" fill="#5fb82a" stroke="#5fb82a"/>
<circle cx="497.9" cy="546.4" r="2.05" fill="#5fb82a" stroke="#5fb82a"/>
<circle cx="575.1" cy="519.0" r="2.05" fill="#5fb82a" stroke="#5fb82a"/>
<circle cx="526.8" cy="514.7" r="2.05" fill="#5fb82a" stroke="#5fb82a"/>
<circle cx="575.1" cy="533.7" r="2.05" fill="#5fb82a" stroke="#5fb82a"/>
<circle cx="517.2" cy="524.9" r="2.05" fill="#5fb82a" stroke="#5fb82a"/>
<circle cx="526.8" cy="533.8" r="2.05" fill="#5fb82a" stroke="#5fb82a"/>
<circle cx="575.1" cy="526.2" r="2.05" fill="#5fb82a" stroke="#5fb82a"/>
<circle cx="526.8" cy="563.9" r="2.05" fill="#5fb82a" stroke="#5fb82a"/>
<circle cx="507.5" cy="547.6" r="2.05" fill="#5fb82a" stroke="#5fb82a"/>
<circle cx="607.3" cy="339.7" r="2.05" fill="#8e5a84" stroke="#8e5a84"/>
<circle cx="498.1" cy="373.2" r="2.05" fill="#f5b0b0" stroke="#f5b0b0"/>
<circle cx="555.6" cy="389.2" r="2.05" fill="#5a6440" stroke="#5a6440"/>
<circle cx="584.7" cy="384.4" r="2.05" fill="#8e5a84" stroke="#8e5a84"/>
<circle cx="595.3" cy="383.0" r="2.05" fill="#8e5a84" stroke="#8e5a84"/>
<circle cx="604.4" cy="396.5" r="2.05" fill="#8e5a84" stroke="#8e5a84"/>
<circle cx="623.7" cy="402.7" r="2.05" fill="#8e5a84" stroke="#8e5a84"/>
<circle cx="633.5" cy="405.6" r="2.05" fill="#8e5a84" stroke="#8e5a84"/>
<circle cx="573.4" cy="428.5" r="2.05" fill="#f5c000" stroke="#f5c000"/>
<circle cx="614.6" cy="426.3" r="2.05" fill="#7a7a7a" stroke="#7a7a7a"/>
<circle cx="640.8" cy="430.3" r="2.05" fill="#f5b0b0" stroke="#f5b0b0"/>
<circle cx="652.1" cy="435.8" r="2.05" fill="#c8102e" stroke="#c8102e"/>
<circle cx="652.1" cy="440.9" r="2.05" fill="#c8102e" stroke="#c8102e"/>
<circle cx="691.1" cy="443.1" r="2.05" fill="#c8102e" stroke="#c8102e"/>
<circle cx="474.4" cy="445.6" r="2.05" fill="#9aa020" stroke="#9aa020"/>
<circle cx="512.6" cy="439.1" r="2.05" fill="#5b2a9f" stroke="#5b2a9f"/>
<circle cx="517.4" cy="440.2" r="2.05" fill="#c2b0f0" stroke="#c2b0f0"/>
<circle cx="527.2" cy="442.0" r="2.05" fill="#8e5a84" stroke="#8e5a84"/>
<circle cx="546.5" cy="438.0" r="2.05" fill="#5a6440" stroke="#5a6440"/>
<circle cx="555.6" cy="437.2" r="2.05" fill="#8e5a84" stroke="#8e5a84"/>
<circle cx="565.8" cy="444.5" r="2.05" fill="#c8102e" stroke="#c8102e"/>
<circle cx="594.6" cy="438.3" r="2.05" fill="#c2b0f0" stroke="#c2b0f0"/>
<circle cx="595.7" cy="441.6" r="2.05" fill="#c2b0f0" stroke="#c2b0f0"/>
<circle cx="612.8" cy="439.1" r="2.05" fill="#8e5a84" stroke="#8e5a84"/>
<circle cx="613.9" cy="442.7" r="2.05" fill="#8e5a84" stroke="#8e5a84"/>
<circle cx="625.5" cy="441.6" r="2.05" fill="#f5b0b0" stroke="#f5b0b0"/>
<circle cx="621.9" cy="445.3" r="2.05" fill="#f5c000" stroke="#f5c000"/>
<circle cx="702.7" cy="447.4" r="2.05" fill="#f5b0b0" stroke="#f5b0b0"/>
<circle cx="710.0" cy="448.2" r="2.05" fill="#c8102e" stroke="#c8102e"/>
<circle cx="652.4" cy="466.5" r="2.05" fill="#f26a4a" stroke="#f26a4a"/>
<circle cx="652.4" cy="475.0" r="2.05" fill="#5a6440" stroke="#5a6440"/>
<circle cx="661.9" cy="457.4" r="2.05" fill="#945a20" stroke="#945a20"/>
<circle cx="661.9" cy="461.3" r="2.05" fill="#945a20" stroke="#945a20"/>
<circle cx="661.9" cy="465.9" r="2.05" fill="#c8102e" stroke="#c8102e"/>
<circle cx="661.9" cy="470.3" r="2.05" fill="#c2b0f0" stroke="#c2b0f0"/>
<circle cx="661.9" cy="476.8" r="2.05" fill="#c2b0f0" stroke="#c2b0f0"/>
<circle cx="661.9" cy="504.4" r="2.05" fill="#5fb82a" stroke="#5fb82a"/>
<circle cx="661.9" cy="554.2" r="2.05" fill="#c2b0f0" stroke="#c2b0f0"/>
<circle cx="671.7" cy="451.0" r="2.05" fill="#f5c000" stroke="#f5c000"/>
<circle cx="671.7" cy="457.4" r="2.05" fill="#c2b0f0" stroke="#c2b0f0"/>
<circle cx="671.7" cy="475.0" r="2.05" fill="#c2b0f0" stroke="#c2b0f0"/>
<circle cx="671.7" cy="481.9" r="2.05" fill="#c2b0f0" stroke="#c2b0f0"/>
<circle cx="671.7" cy="496.6" r="2.05" fill="#30b8c8" stroke="#30b8c8"/>
<circle cx="681.5" cy="454.1" r="2.05" fill="#c8102e" stroke="#c8102e"/>
<circle cx="681.5" cy="457.4" r="2.05" fill="#c8102e" stroke="#c8102e"/>
<circle cx="681.5" cy="463.9" r="2.05" fill="#c8102e" stroke="#c8102e"/>
<circle cx="681.5" cy="470.3" r="2.05" fill="#c8102e" stroke="#c8102e"/>
<circle cx="691.1" cy="452.3" r="2.05" fill="#c8102e" stroke="#c8102e"/>
<circle cx="691.1" cy="454.8" r="2.05" fill="#c8102e" stroke="#c8102e"/>
<circle cx="691.1" cy="481.9" r="2.05" fill="#5a6440" stroke="#5a6440"/>
<circle cx="700.6" cy="447.1" r="2.05" fill="#f5b0b0" stroke="#f5b0b0"/>
<circle cx="700.6" cy="453.5" r="2.05" fill="#c8102e" stroke="#c8102e"/>
<circle cx="700.6" cy="458.7" r="2.05" fill="#c8102e" stroke="#c8102e"/>
<circle cx="700.6" cy="466.5" r="2.05" fill="#c2b0f0" stroke="#c2b0f0"/>
<circle cx="700.6" cy="471.1" r="2.05" fill="#c2b0f0" stroke="#c2b0f0"/>
<circle cx="700.6" cy="489.7" r="2.05" fill="#c2b0f0" stroke="#c2b0f0"/>
<circle cx="701.9" cy="502.1" r="2.05" fill="#30b8c8" stroke="#30b8c8"/>
<circle cx="710.5" cy="466.5" r="2.05" fill="#c8102e" stroke="#c8102e"/>
<circle cx="710.5" cy="481.2" r="2.05" fill="#c2b0f0" stroke="#c2b0f0"/>
<circle cx="710.5" cy="509.5" r="2.05" fill="#5fb82a" stroke="#5fb82a"/>
<circle cx="604.4" cy="446.6" r="2.05" fill="#2a64a8" stroke="#2a64a8"/>
<circle cx="604.4" cy="453.5" r="2.05" fill="#2a64a8" stroke="#2a64a8"/>
<circle cx="604.4" cy="460.0" r="2.05" fill="#a01a10" stroke="#a01a10"/>
<circle cx="604.4" cy="467.2" r="2.05" fill="#2a64a8" stroke="#2a64a8"/>
<circle cx="630.2" cy="453.5" r="2.05" fill="#c8102e" stroke="#c8102e"/>
<circle cx="633.5" cy="451.5" r="2.05" fill="#2a64a8" stroke="#2a64a8"/>
<circle cx="643.1" cy="456.1" r="2.05" fill="#5a6440" stroke="#5a6440"/>
<circle cx="623.7" cy="462.6" r="2.05" fill="#c8102e" stroke="#c8102e"/>
<circle cx="623.7" cy="467.2" r="2.05" fill="#c8102e" stroke="#c8102e"/>
<circle cx="614.2" cy="460.0" r="2.05" fill="#5a6440" stroke="#5a6440"/>
<circle cx="618.0" cy="458.7" r="2.05" fill="#f26a4a" stroke="#f26a4a"/>
<circle cx="633.5" cy="458.2" r="2.05" fill="#c2b0f0" stroke="#c2b0f0"/>
<circle cx="636.1" cy="461.8" r="2.05" fill="#f26a4a" stroke="#f26a4a"/>
<circle cx="633.5" cy="467.7" r="2.05" fill="#f26a4a" stroke="#f26a4a"/>
<circle cx="643.1" cy="467.7" r="2.05" fill="#5a6440" stroke="#5a6440"/>
<circle cx="650.3" cy="466.5" r="2.05" fill="#f26a4a" stroke="#f26a4a"/>
<circle cx="647.7" cy="476.8" r="2.05" fill="#f26a4a" stroke="#f26a4a"/>
<circle cx="643.1" cy="481.2" r="2.05" fill="#5a6440" stroke="#5a6440"/>
<circle cx="638.7" cy="478.0" r="2.05" fill="#f26a4a" stroke="#f26a4a"/>
<circle cx="633.5" cy="481.2" r="2.05" fill="#5a6440" stroke="#5a6440"/>
<circle cx="633.5" cy="485.8" r="2.05" fill="#5b2a9f" stroke="#5b2a9f"/>
<circle cx="632.3" cy="489.2" r="2.05" fill="#a82098" stroke="#a82098"/>
<circle cx="630.5" cy="490.2" r="2.05" fill="#5b2a9f" stroke="#5b2a9f"/>
<circle cx="633.5" cy="493.5" r="2.05" fill="#c2b0f0" stroke="#c2b0f0"/>
<circle cx="623.7" cy="479.9" r="2.05" fill="#a01a10" stroke="#a01a10"/>
<circle cx="623.7" cy="483.2" r="2.05" fill="#5a6440" stroke="#5a6440"/>
<circle cx="623.7" cy="491.0" r="2.05" fill="#c2b0f0" stroke="#c2b0f0"/>
<circle cx="621.9" cy="497.4" r="2.05" fill="#f26a4a" stroke="#f26a4a"/>
<circle cx="623.7" cy="502.1" r="2.05" fill="#c2b0f0" stroke="#c2b0f0"/>
<circle cx="613.7" cy="471.6" r="2.05" fill="#9aa020" stroke="#9aa020"/>
<circle cx="614.2" cy="486.6" r="2.05" fill="#945a20" stroke="#945a20"/>
<circle cx="604.4" cy="486.6" r="2.05" fill="#5a6440" stroke="#5a6440"/>
<circle cx="604.4" cy="492.3" r="2.05" fill="#a82098" stroke="#a82098"/>
<circle cx="612.4" cy="504.6" r="2.05" fill="#945a20" stroke="#945a20"/>
<circle cx="614.2" cy="510.3" r="2.05" fill="#5fb82a" stroke="#5fb82a"/>
<circle cx="604.4" cy="503.9" r="2.05" fill="#9aa020" stroke="#9aa020"/>
<circle cx="604.4" cy="510.3" r="2.05" fill="#5fb82a" stroke="#5fb82a"/>
<circle cx="604.4" cy="515.0" r="2.05" fill="#5fb82a" stroke="#5fb82a"/>
<circle cx="605.2" cy="518.1" r="2.05" fill="#8e5a84" stroke="#8e5a84"/>
<circle cx="623.7" cy="513.4" r="2.05" fill="#5fb82a" stroke="#5fb82a"/>
<circle cx="633.5" cy="505.7" r="2.05" fill="#5fb82a" stroke="#5fb82a"/>
<circle cx="633.5" cy="516.0" r="2.05" fill="#5fb82a" stroke="#5fb82a"/>
<circle cx="604.4" cy="529.7" r="2.05" fill="#5fb82a" stroke="#5fb82a"/>
<circle cx="604.4" cy="533.5" r="2.05" fill="#5fb82a" stroke="#5fb82a"/>
<circle cx="614.2" cy="532.8" r="2.05" fill="#5fb82a" stroke="#5fb82a"/>
<circle cx="614.2" cy="540.8" r="2.05" fill="#5fb82a" stroke="#5fb82a"/>
<circle cx="614.2" cy="546.5" r="2.05" fill="#945a20" stroke="#945a20"/>
<circle cx="604.4" cy="540.5" r="2.05" fill="#f26a4a" stroke="#f26a4a"/>
<circle cx="604.4" cy="546.5" r="2.05" fill="#c2b0f0" stroke="#c2b0f0"/>
<circle cx="604.4" cy="567.6" r="2.05" fill="#c2b0f0" stroke="#c2b0f0"/>
<circle cx="604.4" cy="577.4" r="2.05" fill="#5fb82a" stroke="#5fb82a"/>
<circle cx="478.6" cy="554.2" r="2.05" fill="#5fb82a" stroke="#5fb82a"/>
<circle cx="490.3" cy="554.2" r="2.05" fill="#30b8c8" stroke="#30b8c8"/>
<circle cx="498.0" cy="554.2" r="2.05" fill="#5fb82a" stroke="#5fb82a"/>
<circle cx="501.9" cy="554.2" r="2.05" fill="#7a7a7a" stroke="#7a7a7a"/>
<circle cx="508.3" cy="554.2" r="2.05" fill="#5fb82a" stroke="#5fb82a"/>
<circle cx="527.2" cy="554.2" r="2.05" fill="#5fb82a" stroke="#5fb82a"/>
<circle cx="546.5" cy="554.2" r="2.05" fill="#5fb82a" stroke="#5fb82a"/>
<circle cx="568.2" cy="554.2" r="2.05" fill="#7a7a7a" stroke="#7a7a7a"/>
<circle cx="483.8" cy="568.4" r="2.05" fill="#7a7a7a" stroke="#7a7a7a"/>
<circle cx="487.7" cy="568.4" r="2.05" fill="#7a7a7a" stroke="#7a7a7a"/>
<circle cx="491.5" cy="568.4" r="2.05" fill="#7a7a7a" stroke="#7a7a7a"/>
<circle cx="498.5" cy="568.4" r="2.05" fill="#5fb82a" stroke="#5fb82a"/>
<circle cx="537.2" cy="568.4" r="2.05" fill="#5fb82a" stroke="#5fb82a"/>
<circle cx="546.5" cy="568.4" r="2.05" fill="#5a6440" stroke="#5a6440"/>
<circle cx="565.9" cy="568.4" r="2.05" fill="#5fb82a" stroke="#5fb82a"/>
<circle cx="570.8" cy="568.4" r="2.05" fill="#f26a4a" stroke="#f26a4a"/>
<circle cx="478.6" cy="546.5" r="2.05" fill="#5a6440" stroke="#5a6440"/>
<circle cx="481.2" cy="546.5" r="2.05" fill="#5a6440" stroke="#5a6440"/>
<circle cx="498.0" cy="546.5" r="2.05" fill="#5fb82a" stroke="#5fb82a"/>
<circle cx="507.8" cy="546.5" r="2.05" fill="#5fb82a" stroke="#5fb82a"/>
<circle cx="541.1" cy="546.5" r="2.05" fill="#f26a4a" stroke="#f26a4a"/>
<circle cx="546.5" cy="546.5" r="2.05" fill="#5fb82a" stroke="#5fb82a"/>
</g>
<line x1="104.2" y1="487.6" x2="348.4" y2="450.8" stroke="#000" stroke-width="2.1" stroke-linecap="butt"/><line x1="469.5" y1="504.8" x2="709.9" y2="459.9" stroke="#000" stroke-width="2.1" stroke-linecap="butt"/>
<line x1="96.10" y1="8.00" x2="96.10" y2="258.85" stroke="#161616" stroke-width="1.6"/><line x1="95.45" y1="258.20" x2="361.00" y2="258.20" stroke="#161616" stroke-width="1.6"/><line x1="90.50" y1="15.10" x2="96.10" y2="15.10" stroke="#161616" stroke-width="1.6"/><text transform="translate(87.20 21.50) scale(0.92 1)" font-size="15.6" text-anchor="end">10</text><line x1="90.50" y1="71.00" x2="96.10" y2="71.00" stroke="#161616" stroke-width="1.6"/><text transform="translate(87.20 77.40) scale(0.92 1)" font-size="15.6" text-anchor="end">1</text><line x1="90.50" y1="126.90" x2="96.10" y2="126.90" stroke="#161616" stroke-width="1.6"/><text transform="translate(87.20 133.30) scale(0.92 1)" font-size="15.6" text-anchor="end">0.1</text><line x1="90.50" y1="182.80" x2="96.10" y2="182.80" stroke="#161616" stroke-width="1.6"/><text transform="translate(87.20 189.20) scale(0.92 1)" font-size="15.6" text-anchor="end">0.01</text><line x1="90.50" y1="238.70" x2="96.10" y2="238.70" stroke="#161616" stroke-width="1.6"/><text transform="translate(87.20 245.10) scale(0.92 1)" font-size="15.6" text-anchor="end">0.001</text><line x1="156.70" y1="258.20" x2="156.70" y2="264.00" stroke="#161616" stroke-width="1.6"/><text transform="translate(156.70 278.70) scale(0.92 1)" font-size="15.6" text-anchor="middle">0.1</text><line x1="254.90" y1="258.20" x2="254.90" y2="264.00" stroke="#161616" stroke-width="1.6"/><text transform="translate(254.90 278.70) scale(0.92 1)" font-size="15.6" text-anchor="middle">1</text><line x1="353.10" y1="258.20" x2="353.10" y2="264.00" stroke="#161616" stroke-width="1.6"/><text transform="translate(353.10 278.70) scale(0.92 1)" font-size="15.6" text-anchor="middle">10</text><text x="228.50" y="295.50" font-size="15.0" text-anchor="middle">number of SNV/mb (2018 pipeline)</text><text x="43.10" y="133.00" font-size="15.0" text-anchor="middle" transform="rotate(-90 43.10 133.00)">number of SNV/mb (2020 pipeline)</text><line x1="457.30" y1="7.70" x2="457.30" y2="258.75" stroke="#161616" stroke-width="1.6"/><line x1="456.65" y1="258.10" x2="722.00" y2="258.10" stroke="#161616" stroke-width="1.6"/><line x1="451.70" y1="19.34" x2="457.30" y2="19.34" stroke="#161616" stroke-width="1.6"/><text transform="translate(448.40 25.74) scale(0.92 1)" font-size="15.6" text-anchor="end">10</text><line x1="451.70" y1="64.73" x2="457.30" y2="64.73" stroke="#161616" stroke-width="1.6"/><text transform="translate(448.40 71.13) scale(0.92 1)" font-size="15.6" text-anchor="end">1</text><line x1="451.70" y1="110.12" x2="457.30" y2="110.12" stroke="#161616" stroke-width="1.6"/><text transform="translate(448.40 116.52) scale(0.92 1)" font-size="15.6" text-anchor="end">0.1</text><line x1="451.70" y1="155.51" x2="457.30" y2="155.51" stroke="#161616" stroke-width="1.6"/><text transform="translate(448.40 161.91) scale(0.92 1)" font-size="15.6" text-anchor="end">0.01</text><line x1="451.70" y1="200.90" x2="457.30" y2="200.90" stroke="#161616" stroke-width="1.6"/><text transform="translate(448.40 207.30) scale(0.92 1)" font-size="15.6" text-anchor="end">0.001</text><line x1="503.00" y1="258.10" x2="503.00" y2="263.90" stroke="#161616" stroke-width="1.6"/><text transform="translate(503.00 278.60) scale(0.92 1)" font-size="15.6" text-anchor="middle">0.1</text><line x1="610.00" y1="258.10" x2="610.00" y2="263.90" stroke="#161616" stroke-width="1.6"/><text transform="translate(610.00 278.60) scale(0.92 1)" font-size="15.6" text-anchor="middle">1</text><line x1="717.00" y1="258.10" x2="717.00" y2="263.90" stroke="#161616" stroke-width="1.6"/><text transform="translate(717.00 278.60) scale(0.92 1)" font-size="15.6" text-anchor="middle">10</text><text x="589.70" y="295.80" font-size="15.0" text-anchor="middle">number of indel/mb (2018 pipeline)</text><text x="404.60" y="133.20" font-size="15.0" text-anchor="middle" transform="rotate(-90 404.60 133.20)">number of indel/mb (2020 pipeline)</text><line x1="91.50" y1="329.40" x2="91.50" y2="579.95" stroke="#161616" stroke-width="1.6"/><line x1="90.85" y1="579.30" x2="360.80" y2="579.30" stroke="#161616" stroke-width="1.6"/><line x1="85.90" y1="332.10" x2="91.50" y2="332.10" stroke="#161616" stroke-width="1.6"/><text transform="translate(82.60 338.50) scale(0.92 1)" font-size="15.6" text-anchor="end">1000</text><line x1="85.90" y1="370.50" x2="91.50" y2="370.50" stroke="#161616" stroke-width="1.6"/><text transform="translate(82.60 376.90) scale(0.92 1)" font-size="15.6" text-anchor="end">100</text><line x1="85.90" y1="408.90" x2="91.50" y2="408.90" stroke="#161616" stroke-width="1.6"/><text transform="translate(82.60 415.30) scale(0.92 1)" font-size="15.6" text-anchor="end">10</text><line x1="85.90" y1="447.30" x2="91.50" y2="447.30" stroke="#161616" stroke-width="1.6"/><text transform="translate(82.60 453.70) scale(0.92 1)" font-size="15.6" text-anchor="end">1</text><line x1="85.90" y1="485.70" x2="91.50" y2="485.70" stroke="#161616" stroke-width="1.6"/><text transform="translate(82.60 492.10) scale(0.92 1)" font-size="15.6" text-anchor="end">0.1</text><line x1="85.90" y1="524.10" x2="91.50" y2="524.10" stroke="#161616" stroke-width="1.6"/><text transform="translate(82.60 530.50) scale(0.92 1)" font-size="15.6" text-anchor="end">0.01</text><line x1="103.90" y1="579.30" x2="103.90" y2="585.10" stroke="#161616" stroke-width="1.6"/><text transform="translate(103.90 599.80) scale(0.92 1)" font-size="15.6" text-anchor="middle">0</text><line x1="152.90" y1="579.30" x2="152.90" y2="585.10" stroke="#161616" stroke-width="1.6"/><text transform="translate(152.90 599.80) scale(0.92 1)" font-size="15.6" text-anchor="middle">5</text><line x1="201.90" y1="579.30" x2="201.90" y2="585.10" stroke="#161616" stroke-width="1.6"/><text transform="translate(201.90 599.80) scale(0.92 1)" font-size="15.6" text-anchor="middle">10</text><line x1="250.90" y1="579.30" x2="250.90" y2="585.10" stroke="#161616" stroke-width="1.6"/><text transform="translate(250.90 599.80) scale(0.92 1)" font-size="15.6" text-anchor="middle">15</text><line x1="299.90" y1="579.30" x2="299.90" y2="585.10" stroke="#161616" stroke-width="1.6"/><text transform="translate(299.90 599.80) scale(0.92 1)" font-size="15.6" text-anchor="middle">20</text><line x1="348.90" y1="579.30" x2="348.90" y2="585.10" stroke="#161616" stroke-width="1.6"/><text transform="translate(348.90 599.80) scale(0.92 1)" font-size="15.6" text-anchor="middle">25</text><text x="225.60" y="616.50" font-size="15.0" text-anchor="middle">age at diagnosis</text><text x="42.90" y="453.80" font-size="15.0" text-anchor="middle" transform="rotate(-90 42.90 453.80)">SBS mutations/megabase</text><line x1="457.30" y1="328.90" x2="457.30" y2="580.15" stroke="#161616" stroke-width="1.6"/><line x1="456.65" y1="579.50" x2="722.00" y2="579.50" stroke="#161616" stroke-width="1.6"/><line x1="451.70" y1="336.65" x2="457.30" y2="336.65" stroke="#161616" stroke-width="1.6"/><text transform="translate(448.40 343.05) scale(0.92 1)" font-size="15.6" text-anchor="end">50</text><line x1="451.70" y1="368.10" x2="457.30" y2="368.10" stroke="#161616" stroke-width="1.6"/><text transform="translate(448.40 374.50) scale(0.92 1)" font-size="15.6" text-anchor="end">10</text><line x1="451.70" y1="413.10" x2="457.30" y2="413.10" stroke="#161616" stroke-width="1.6"/><text transform="translate(448.40 419.50) scale(0.92 1)" font-size="15.6" text-anchor="end">1</text><line x1="451.70" y1="458.10" x2="457.30" y2="458.10" stroke="#161616" stroke-width="1.6"/><text transform="translate(448.40 464.50) scale(0.92 1)" font-size="15.6" text-anchor="end">0.1</text><line x1="451.70" y1="503.10" x2="457.30" y2="503.10" stroke="#161616" stroke-width="1.6"/><text transform="translate(448.40 509.50) scale(0.92 1)" font-size="15.6" text-anchor="end">0.01</text><line x1="451.70" y1="548.10" x2="457.30" y2="548.10" stroke="#161616" stroke-width="1.6"/><text transform="translate(448.40 554.50) scale(0.92 1)" font-size="15.6" text-anchor="end">0.001</text><line x1="468.90" y1="579.50" x2="468.90" y2="585.30" stroke="#161616" stroke-width="1.6"/><text transform="translate(468.90 600.00) scale(0.92 1)" font-size="15.6" text-anchor="middle">0</text><line x1="517.16" y1="579.50" x2="517.16" y2="585.30" stroke="#161616" stroke-width="1.6"/><text transform="translate(517.16 600.00) scale(0.92 1)" font-size="15.6" text-anchor="middle">5</text><line x1="565.42" y1="579.50" x2="565.42" y2="585.30" stroke="#161616" stroke-width="1.6"/><text transform="translate(565.42 600.00) scale(0.92 1)" font-size="15.6" text-anchor="middle">10</text><line x1="613.68" y1="579.50" x2="613.68" y2="585.30" stroke="#161616" stroke-width="1.6"/><text transform="translate(613.68 600.00) scale(0.92 1)" font-size="15.6" text-anchor="middle">15</text><line x1="661.94" y1="579.50" x2="661.94" y2="585.30" stroke="#161616" stroke-width="1.6"/><text transform="translate(661.94 600.00) scale(0.92 1)" font-size="15.6" text-anchor="middle">20</text><line x1="710.20" y1="579.50" x2="710.20" y2="585.30" stroke="#161616" stroke-width="1.6"/><text transform="translate(710.20 600.00) scale(0.92 1)" font-size="15.6" text-anchor="middle">25</text><text x="587.80" y="616.50" font-size="15.0" text-anchor="middle">age at diagnosis</text><text x="403.90" y="453.60" font-size="15.0" text-anchor="middle" transform="rotate(-90 403.90 453.60)">ID mutations/megabase</text><text x="-0.6" y="9.8" font-size="18.6" font-weight="bold">a</text><text x="0.9" y="365.6" font-size="19.4" font-weight="bold">b</text><text x="104.3" y="352.6" font-size="11.6" style="stroke-width:0.15px"><tspan font-style="italic">R</tspan>=0.42,<tspan font-style="italic">p</tspan>&lt;2.2e-16</text><text x="470.0" y="352.6" font-size="11.6" style="stroke-width:0.15px"><tspan font-style="italic">R</tspan>=0.39,<tspan font-style="italic">p</tspan>&lt;2.2e-16</text>
</svg></body></html>
